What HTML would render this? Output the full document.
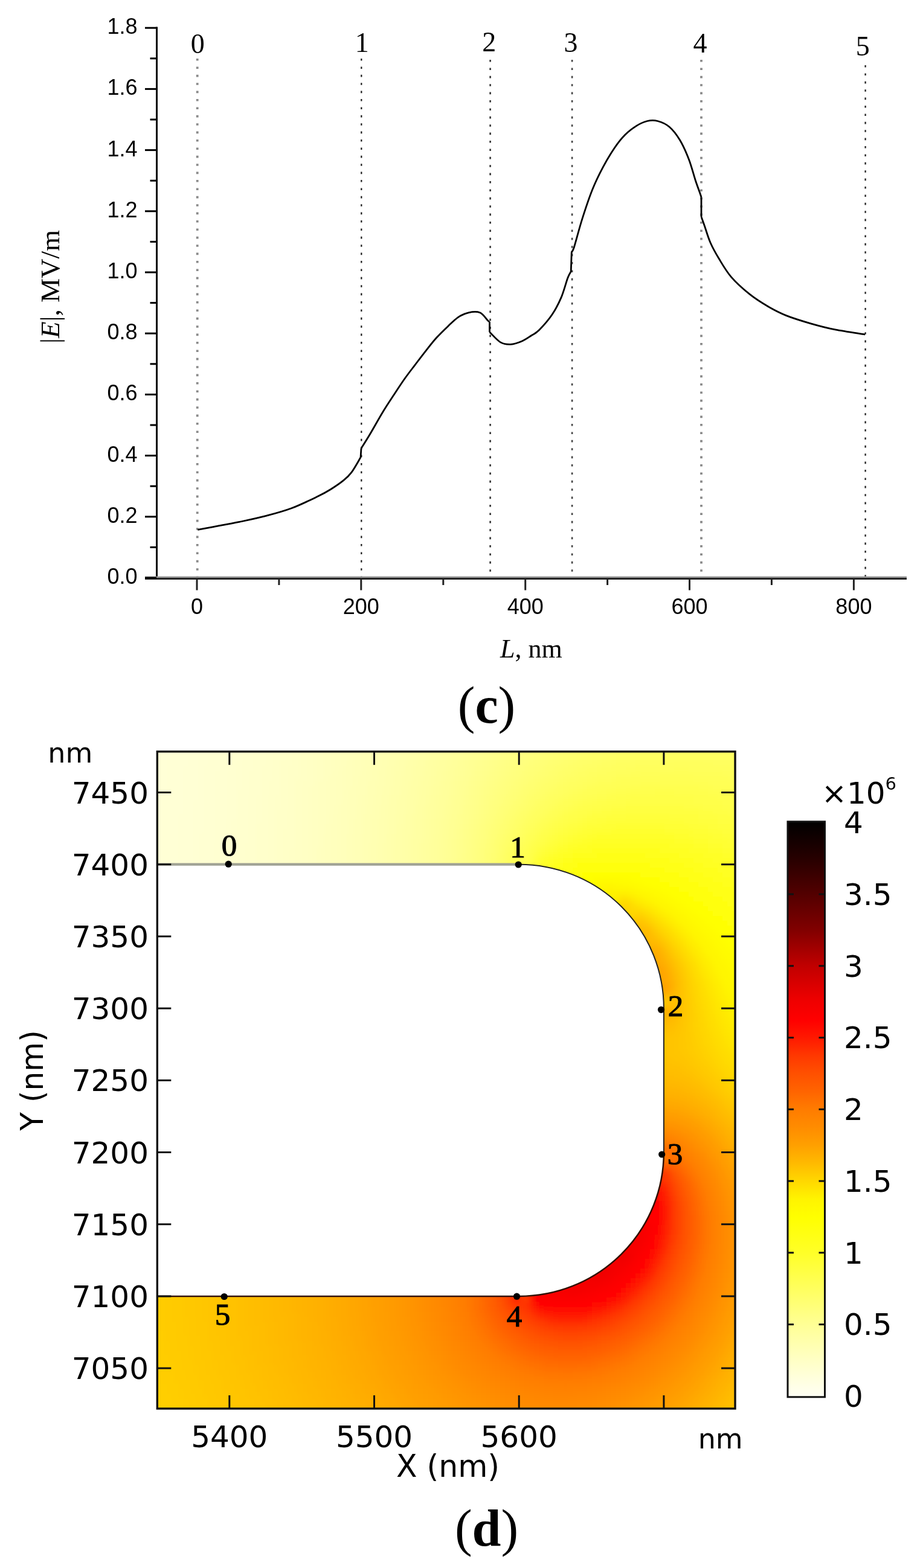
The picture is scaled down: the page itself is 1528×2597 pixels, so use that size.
<!DOCTYPE html>
<html><head><meta charset="utf-8"><title>Figure</title>
<style>
html,body{margin:0;padding:0;background:#fff;}
body{width:1528px;height:2597px;overflow:hidden;}
svg{display:block;}
.sa{font-family:"Liberation Sans",Arial,sans-serif;}
.se{font-family:"Liberation Serif","Times New Roman",serif;}
.dj{font-family:"DejaVu Sans","Liberation Sans",sans-serif;}
</style></head><body>
<svg width="1528" height="2597" viewBox="0 0 1528 2597">
<rect width="1528" height="2597" fill="#fff"/>

<line x1="326.7" y1="97" x2="326.7" y2="955" stroke="#8a8a8a" stroke-width="3.8" stroke-dasharray="3.6 9.8"/>
<text x="327.3" y="88" class="se" font-size="46" text-anchor="middle">0</text>
<line x1="598.3" y1="97" x2="598.3" y2="955" stroke="#222" stroke-width="2.3" stroke-dasharray="3.6 9.8"/>
<text x="599.3" y="86.4" class="se" font-size="46" text-anchor="middle">1</text>
<line x1="811.6" y1="99" x2="811.6" y2="955" stroke="#333" stroke-width="2.6" stroke-dasharray="3.6 9.8"/>
<text x="809.7" y="85" class="se" font-size="46" text-anchor="middle">2</text>
<line x1="947.1" y1="99" x2="947.1" y2="955" stroke="#444" stroke-width="2.6" stroke-dasharray="3.6 9.8"/>
<text x="945" y="86" class="se" font-size="46" text-anchor="middle">3</text>
<line x1="1161" y1="99" x2="1161" y2="955" stroke="#8a8a8a" stroke-width="3.8" stroke-dasharray="3.6 9.8"/>
<text x="1159" y="87" class="se" font-size="46" text-anchor="middle">4</text>
<line x1="1432.6" y1="108" x2="1432.6" y2="955" stroke="#222" stroke-width="2.3" stroke-dasharray="3.6 9.8"/>
<text x="1428.3" y="92" class="se" font-size="46" text-anchor="middle">5</text>
<path d="M327.3,877.4 C331.6,876.6 341.7,874.8 353.2,872.6 C364.7,870.4 381.9,867.4 396.3,864.4 C410.7,861.4 425.1,858.5 439.5,854.7 C453.9,850.9 468.2,847.2 482.6,841.8 C497.0,836.4 515.0,827.5 525.8,822.3 C536.6,817.1 540.2,815.0 547.4,810.5 C554.6,806.0 563.2,800.1 569.0,795.4 C574.8,790.7 577.2,788.7 581.9,782.4 C586.6,776.1 594.5,761.7 597.0,757.6 M597.0,757.6 L598.0,742.5 M598.0,742.5 C600.4,738.7 606.1,729.9 612.1,719.8 C618.1,709.7 627.5,692.7 634.0,682.0 C640.5,671.3 645.0,664.7 651.0,655.6 C657.0,646.5 663.9,635.8 669.9,627.3 C675.9,618.8 680.9,612.5 686.9,604.6 C692.9,596.7 699.7,587.7 705.7,580.1 C711.7,572.5 716.7,565.9 722.7,559.3 C728.7,552.7 735.6,546.1 741.6,540.4 C747.6,534.7 752.9,529.1 758.6,525.3 C764.3,521.5 769.6,519.0 775.6,517.8 C781.6,516.5 789.1,515.6 794.5,517.8 C799.9,520.0 805.0,528.5 807.7,531.0 C810.4,533.5 810.0,532.6 810.5,532.9 M810.5,532.9 L810.5,549.9 M810.5,549.9 C813.5,552.7 822.7,563.5 828.5,566.9 C834.3,570.3 839.5,570.6 845.5,570.3 C851.5,570.0 858.5,567.5 864.3,565.0 C870.0,562.5 875.3,558.5 880.0,555.5 C884.7,552.5 886.7,552.5 892.4,546.8 C898.1,541.0 907.9,530.0 914.0,521.0 C920.1,512.0 924.7,503.0 929.0,492.9 C933.3,482.8 937.1,467.7 939.8,460.5 C942.5,453.3 944.3,451.5 945.2,449.7 M945.2,449.7 L946.3,417.4 M946.3,417.4 C947.0,415.9 947.7,417.7 950.6,408.7 C953.5,399.7 958.6,379.2 963.6,363.4 C968.6,347.6 975.0,328.2 980.8,313.8 C986.5,299.4 992.0,288.6 998.1,277.1 C1004.2,265.6 1011.4,253.7 1017.5,244.7 C1023.6,235.7 1028.7,229.3 1034.8,223.2 C1040.9,217.1 1048.1,211.9 1054.2,208.1 C1060.3,204.3 1065.8,201.8 1071.5,200.5 C1077.2,199.2 1082.6,198.9 1088.7,200.5 C1094.8,202.1 1102.1,205.0 1108.2,210.2 C1114.3,215.4 1120.0,222.8 1125.4,231.8 C1130.8,240.8 1136.2,253.0 1140.5,264.2 C1144.8,275.3 1148.2,289.3 1151.3,298.7 C1154.4,308.1 1157.3,315.6 1158.9,320.3 C1160.5,325.0 1160.7,325.6 1161.0,326.7 M1161.0,326.7 L1161.0,359.1 M1161.0,359.1 C1161.9,361.6 1163.9,367.0 1166.4,374.2 C1168.9,381.4 1172.2,393.2 1176.2,402.3 C1180.2,411.4 1184.6,419.2 1190.3,428.6 C1196.0,438.0 1202.2,449.1 1210.6,458.9 C1219.0,468.7 1230.8,479.1 1240.9,487.2 C1251.0,495.3 1261.2,501.6 1271.3,507.5 C1281.4,513.4 1289.8,517.9 1301.6,522.6 C1313.4,527.3 1328.6,531.9 1342.1,535.8 C1355.6,539.7 1367.5,542.9 1382.5,545.9 C1397.5,548.9 1423.8,552.6 1432.1,554.0" fill="none" stroke="#000" stroke-width="2.8" stroke-linejoin="round"/>
<line x1="259.5" y1="44.5" x2="259.5" y2="958.5" stroke="#000" stroke-width="3"/>
<line x1="240" y1="955.8" x2="1501" y2="955.8" stroke="#999" stroke-width="2.4"/>
<line x1="240" y1="958.5" x2="1501" y2="958.5" stroke="#222" stroke-width="3"/>
<line x1="240" y1="957.0" x2="259" y2="957.0" stroke="#000" stroke-width="3"/>
<text x="227.5" y="967.0" class="sa" font-size="36" text-anchor="end">0.0</text>
<line x1="248.5" y1="906.4" x2="259" y2="906.4" stroke="#000" stroke-width="3"/>
<line x1="240" y1="855.8" x2="259" y2="855.8" stroke="#000" stroke-width="3"/>
<text x="227.5" y="865.8" class="sa" font-size="36" text-anchor="end">0.2</text>
<line x1="248.5" y1="805.2" x2="259" y2="805.2" stroke="#000" stroke-width="3"/>
<line x1="240" y1="754.6" x2="259" y2="754.6" stroke="#000" stroke-width="3"/>
<text x="227.5" y="764.6" class="sa" font-size="36" text-anchor="end">0.4</text>
<line x1="248.5" y1="704.0" x2="259" y2="704.0" stroke="#000" stroke-width="3"/>
<line x1="240" y1="653.4" x2="259" y2="653.4" stroke="#000" stroke-width="3"/>
<text x="227.5" y="663.4" class="sa" font-size="36" text-anchor="end">0.6</text>
<line x1="248.5" y1="602.8" x2="259" y2="602.8" stroke="#000" stroke-width="3"/>
<line x1="240" y1="552.2" x2="259" y2="552.2" stroke="#000" stroke-width="3"/>
<text x="227.5" y="562.2" class="sa" font-size="36" text-anchor="end">0.8</text>
<line x1="248.5" y1="501.6" x2="259" y2="501.6" stroke="#000" stroke-width="3"/>
<line x1="240" y1="451.0" x2="259" y2="451.0" stroke="#000" stroke-width="3"/>
<text x="227.5" y="461.0" class="sa" font-size="36" text-anchor="end">1.0</text>
<line x1="248.5" y1="400.4" x2="259" y2="400.4" stroke="#000" stroke-width="3"/>
<line x1="240" y1="349.8" x2="259" y2="349.8" stroke="#000" stroke-width="3"/>
<text x="227.5" y="359.8" class="sa" font-size="36" text-anchor="end">1.2</text>
<line x1="248.5" y1="299.2" x2="259" y2="299.2" stroke="#000" stroke-width="3"/>
<line x1="240" y1="248.6" x2="259" y2="248.6" stroke="#000" stroke-width="3"/>
<text x="227.5" y="258.6" class="sa" font-size="36" text-anchor="end">1.4</text>
<line x1="248.5" y1="198.0" x2="259" y2="198.0" stroke="#000" stroke-width="3"/>
<line x1="240" y1="147.4" x2="259" y2="147.4" stroke="#000" stroke-width="3"/>
<text x="227.5" y="157.4" class="sa" font-size="36" text-anchor="end">1.6</text>
<line x1="248.5" y1="96.8" x2="259" y2="96.8" stroke="#000" stroke-width="3"/>
<line x1="240" y1="46.2" x2="259" y2="46.2" stroke="#000" stroke-width="3"/>
<text x="227.5" y="56.2" class="sa" font-size="36" text-anchor="end">1.8</text>
<line x1="326.0" y1="957" x2="326.0" y2="977.5" stroke="#222" stroke-width="3"/>
<text x="326.0" y="1017" class="sa" font-size="36" text-anchor="middle">0</text>
<line x1="461.9" y1="957" x2="461.9" y2="969" stroke="#222" stroke-width="3"/>
<line x1="597.8" y1="957" x2="597.8" y2="977.5" stroke="#222" stroke-width="3"/>
<text x="597.8" y="1017" class="sa" font-size="36" text-anchor="middle">200</text>
<line x1="733.8" y1="957" x2="733.8" y2="969" stroke="#222" stroke-width="3"/>
<line x1="869.7" y1="957" x2="869.7" y2="977.5" stroke="#222" stroke-width="3"/>
<text x="869.7" y="1017" class="sa" font-size="36" text-anchor="middle">400</text>
<line x1="1005.6" y1="957" x2="1005.6" y2="969" stroke="#222" stroke-width="3"/>
<line x1="1141.5" y1="957" x2="1141.5" y2="977.5" stroke="#222" stroke-width="3"/>
<text x="1141.5" y="1017" class="sa" font-size="36" text-anchor="middle">600</text>
<line x1="1277.4" y1="957" x2="1277.4" y2="969" stroke="#222" stroke-width="3"/>
<line x1="1413.4" y1="957" x2="1413.4" y2="977.5" stroke="#222" stroke-width="3"/>
<text x="1413.4" y="1017" class="sa" font-size="36" text-anchor="middle">800</text>
<text x="828" y="1088.5" class="se" font-size="44"><tspan font-style="italic">L</tspan>, nm</text>
<text transform="translate(97.5,475) rotate(-90)" class="se" font-size="45" text-anchor="middle">|<tspan font-style="italic">E</tspan>|, MV/m</text>
<text x="805.5" y="1197" class="se" font-size="86" text-anchor="middle">(<tspan font-weight="bold">c</tspan>)</text>
<defs><clipPath id="fr"><rect x="260.3" y="1244.8" width="956.7" height="1088.2"/></clipPath>
<filter id="bl" x="-5%" y="-5%" width="110%" height="110%"><feGaussianBlur stdDeviation="4.8"/></filter></defs>
<g clip-path="url(#fr)"><g filter="url(#bl)"><path fill="#ffffd7" d="M244 1229h8v8h-8z"/><path fill="#ffffd6" d="M252 1229h8v8h-8zM260 1229h8v8h-8zM268 1229h8v8h-8zM276 1229h8v8h-8zM244 1237h8v8h-8zM252 1237h8v8h-8zM260 1237h8v8h-8zM268 1237h8v8h-8zM276 1237h8v8h-8zM244 1245h8v8h-8zM252 1245h8v8h-8zM260 1245h8v8h-8zM268 1245h8v8h-8zM276 1245h8v8h-8zM244 1253h8v8h-8zM252 1253h8v8h-8zM260 1253h8v8h-8zM268 1253h8v8h-8zM244 1261h8v8h-8zM252 1261h8v8h-8zM260 1261h8v8h-8zM268 1261h8v8h-8zM244 1269h8v8h-8zM252 1269h8v8h-8zM260 1269h8v8h-8zM268 1269h8v8h-8zM244 1277h8v8h-8zM252 1277h8v8h-8zM260 1277h8v8h-8zM268 1277h8v8h-8zM244 1285h8v8h-8zM252 1285h8v8h-8zM260 1285h8v8h-8zM268 1285h8v8h-8zM244 1293h8v8h-8zM252 1293h8v8h-8zM260 1293h8v8h-8zM268 1293h8v8h-8zM244 1301h8v8h-8zM252 1301h8v8h-8zM260 1301h8v8h-8zM268 1301h8v8h-8zM244 1309h8v8h-8zM252 1309h8v8h-8zM260 1309h8v8h-8zM244 1317h8v8h-8zM252 1317h8v8h-8zM260 1317h8v8h-8zM244 1325h8v8h-8zM252 1325h8v8h-8zM260 1325h8v8h-8zM244 1333h8v8h-8zM252 1333h8v8h-8zM260 1333h8v8h-8zM244 1341h8v8h-8zM252 1341h8v8h-8zM260 1341h8v8h-8zM244 1349h8v8h-8zM252 1349h8v8h-8zM260 1349h8v8h-8zM244 1357h8v8h-8zM252 1357h8v8h-8zM260 1357h8v8h-8zM244 1365h8v8h-8zM252 1365h8v8h-8zM260 1365h8v8h-8zM244 1373h8v8h-8zM252 1373h8v8h-8zM260 1373h8v8h-8zM244 1381h8v8h-8zM252 1381h8v8h-8zM260 1381h8v8h-8zM244 1389h8v8h-8zM252 1389h8v8h-8zM260 1389h8v8h-8zM244 1397h8v8h-8zM252 1397h8v8h-8zM260 1397h8v8h-8zM244 1405h8v8h-8zM252 1405h8v8h-8zM260 1405h8v8h-8zM244 1413h8v8h-8zM252 1413h8v8h-8zM260 1413h8v8h-8zM244 1421h8v8h-8zM252 1421h8v8h-8zM260 1421h8v8h-8zM244 1429h8v8h-8zM252 1429h8v8h-8zM260 1429h8v8h-8zM244 1437h8v8h-8zM252 1437h8v8h-8zM260 1437h8v8h-8zM244 1445h8v8h-8zM252 1445h8v8h-8zM260 1445h8v8h-8zM244 1453h8v8h-8zM252 1453h8v8h-8zM260 1453h8v8h-8zM244 1461h8v8h-8zM252 1461h8v8h-8zM260 1461h8v8h-8zM244 1469h8v8h-8zM252 1469h8v8h-8zM260 1469h8v8h-8zM244 1477h8v8h-8zM252 1477h8v8h-8zM260 1477h8v8h-8zM244 1485h8v8h-8zM252 1485h8v8h-8zM260 1485h8v8h-8z"/><path fill="#ffffd5" d="M284 1229h8v8h-8zM292 1229h8v8h-8zM300 1229h8v8h-8zM284 1237h8v8h-8zM292 1237h8v8h-8zM300 1237h8v8h-8zM284 1245h8v8h-8zM292 1245h8v8h-8zM300 1245h8v8h-8zM276 1253h8v8h-8zM284 1253h8v8h-8zM292 1253h8v8h-8zM300 1253h8v8h-8zM276 1261h8v8h-8zM284 1261h8v8h-8zM292 1261h8v8h-8zM300 1261h8v8h-8zM276 1269h8v8h-8zM284 1269h8v8h-8zM292 1269h8v8h-8zM276 1277h8v8h-8zM284 1277h8v8h-8zM292 1277h8v8h-8zM276 1285h8v8h-8zM284 1285h8v8h-8zM292 1285h8v8h-8zM276 1293h8v8h-8zM284 1293h8v8h-8zM292 1293h8v8h-8zM276 1301h8v8h-8zM284 1301h8v8h-8zM292 1301h8v8h-8zM268 1309h8v8h-8zM276 1309h8v8h-8zM284 1309h8v8h-8zM292 1309h8v8h-8zM268 1317h8v8h-8zM276 1317h8v8h-8zM284 1317h8v8h-8zM292 1317h8v8h-8zM268 1325h8v8h-8zM276 1325h8v8h-8zM284 1325h8v8h-8zM292 1325h8v8h-8zM268 1333h8v8h-8zM276 1333h8v8h-8zM284 1333h8v8h-8zM292 1333h8v8h-8zM268 1341h8v8h-8zM276 1341h8v8h-8zM284 1341h8v8h-8zM292 1341h8v8h-8zM268 1349h8v8h-8zM276 1349h8v8h-8zM284 1349h8v8h-8zM268 1357h8v8h-8zM276 1357h8v8h-8zM284 1357h8v8h-8zM268 1365h8v8h-8zM276 1365h8v8h-8zM284 1365h8v8h-8zM268 1373h8v8h-8zM276 1373h8v8h-8zM284 1373h8v8h-8zM268 1381h8v8h-8zM276 1381h8v8h-8zM284 1381h8v8h-8zM268 1389h8v8h-8zM276 1389h8v8h-8zM284 1389h8v8h-8zM268 1397h8v8h-8zM276 1397h8v8h-8zM284 1397h8v8h-8zM268 1405h8v8h-8zM276 1405h8v8h-8zM284 1405h8v8h-8zM268 1413h8v8h-8zM276 1413h8v8h-8zM284 1413h8v8h-8zM268 1421h8v8h-8zM276 1421h8v8h-8zM284 1421h8v8h-8zM268 1429h8v8h-8zM276 1429h8v8h-8zM284 1429h8v8h-8zM268 1437h8v8h-8zM276 1437h8v8h-8zM284 1437h8v8h-8zM268 1445h8v8h-8zM276 1445h8v8h-8zM284 1445h8v8h-8zM268 1453h8v8h-8zM276 1453h8v8h-8zM284 1453h8v8h-8zM268 1461h8v8h-8zM276 1461h8v8h-8zM284 1461h8v8h-8zM268 1469h8v8h-8zM276 1469h8v8h-8zM284 1469h8v8h-8zM268 1477h8v8h-8zM276 1477h8v8h-8zM284 1477h8v8h-8zM268 1485h8v8h-8zM276 1485h8v8h-8zM284 1485h8v8h-8z"/><path fill="#ffffd4" d="M308 1229h8v8h-8zM316 1229h8v8h-8zM324 1229h8v8h-8zM308 1237h8v8h-8zM316 1237h8v8h-8zM324 1237h8v8h-8zM308 1245h8v8h-8zM316 1245h8v8h-8zM308 1253h8v8h-8zM316 1253h8v8h-8zM308 1261h8v8h-8zM316 1261h8v8h-8zM300 1269h8v8h-8zM308 1269h8v8h-8zM316 1269h8v8h-8zM300 1277h8v8h-8zM308 1277h8v8h-8zM316 1277h8v8h-8zM300 1285h8v8h-8zM308 1285h8v8h-8zM316 1285h8v8h-8zM300 1293h8v8h-8zM308 1293h8v8h-8zM316 1293h8v8h-8zM300 1301h8v8h-8zM308 1301h8v8h-8zM316 1301h8v8h-8zM300 1309h8v8h-8zM308 1309h8v8h-8zM316 1309h8v8h-8zM300 1317h8v8h-8zM308 1317h8v8h-8zM316 1317h8v8h-8zM300 1325h8v8h-8zM308 1325h8v8h-8zM300 1333h8v8h-8zM308 1333h8v8h-8zM300 1341h8v8h-8zM308 1341h8v8h-8zM292 1349h8v8h-8zM300 1349h8v8h-8zM308 1349h8v8h-8zM292 1357h8v8h-8zM300 1357h8v8h-8zM308 1357h8v8h-8zM292 1365h8v8h-8zM300 1365h8v8h-8zM308 1365h8v8h-8zM292 1373h8v8h-8zM300 1373h8v8h-8zM308 1373h8v8h-8zM292 1381h8v8h-8zM300 1381h8v8h-8zM308 1381h8v8h-8zM292 1389h8v8h-8zM300 1389h8v8h-8zM308 1389h8v8h-8zM292 1397h8v8h-8zM300 1397h8v8h-8zM308 1397h8v8h-8zM292 1405h8v8h-8zM300 1405h8v8h-8zM308 1405h8v8h-8zM292 1413h8v8h-8zM300 1413h8v8h-8zM308 1413h8v8h-8zM292 1421h8v8h-8zM300 1421h8v8h-8zM308 1421h8v8h-8zM292 1429h8v8h-8zM300 1429h8v8h-8zM308 1429h8v8h-8zM292 1437h8v8h-8zM300 1437h8v8h-8zM308 1437h8v8h-8zM292 1445h8v8h-8zM300 1445h8v8h-8zM308 1445h8v8h-8zM292 1453h8v8h-8zM300 1453h8v8h-8zM308 1453h8v8h-8zM292 1461h8v8h-8zM300 1461h8v8h-8zM308 1461h8v8h-8zM292 1469h8v8h-8zM300 1469h8v8h-8zM308 1469h8v8h-8zM292 1477h8v8h-8zM300 1477h8v8h-8zM308 1477h8v8h-8zM292 1485h8v8h-8zM300 1485h8v8h-8zM308 1485h8v8h-8z"/><path fill="#ffffd3" d="M332 1229h8v8h-8zM340 1229h8v8h-8zM332 1237h8v8h-8zM340 1237h8v8h-8zM324 1245h8v8h-8zM332 1245h8v8h-8zM340 1245h8v8h-8zM324 1253h8v8h-8zM332 1253h8v8h-8zM340 1253h8v8h-8zM324 1261h8v8h-8zM332 1261h8v8h-8zM340 1261h8v8h-8zM324 1269h8v8h-8zM332 1269h8v8h-8zM324 1277h8v8h-8zM332 1277h8v8h-8zM324 1285h8v8h-8zM332 1285h8v8h-8zM324 1293h8v8h-8zM332 1293h8v8h-8zM324 1301h8v8h-8zM332 1301h8v8h-8zM324 1309h8v8h-8zM332 1309h8v8h-8zM324 1317h8v8h-8zM332 1317h8v8h-8zM316 1325h8v8h-8zM324 1325h8v8h-8zM332 1325h8v8h-8zM316 1333h8v8h-8zM324 1333h8v8h-8zM332 1333h8v8h-8zM316 1341h8v8h-8zM324 1341h8v8h-8zM332 1341h8v8h-8zM316 1349h8v8h-8zM324 1349h8v8h-8zM332 1349h8v8h-8zM316 1357h8v8h-8zM324 1357h8v8h-8zM332 1357h8v8h-8zM316 1365h8v8h-8zM324 1365h8v8h-8zM332 1365h8v8h-8zM316 1373h8v8h-8zM324 1373h8v8h-8zM332 1373h8v8h-8zM316 1381h8v8h-8zM324 1381h8v8h-8zM316 1389h8v8h-8zM324 1389h8v8h-8zM316 1397h8v8h-8zM324 1397h8v8h-8zM316 1405h8v8h-8zM324 1405h8v8h-8zM316 1413h8v8h-8zM324 1413h8v8h-8zM316 1421h8v8h-8zM324 1421h8v8h-8zM316 1429h8v8h-8zM324 1429h8v8h-8zM316 1437h8v8h-8zM324 1437h8v8h-8zM316 1445h8v8h-8zM324 1445h8v8h-8zM316 1453h8v8h-8zM324 1453h8v8h-8zM316 1461h8v8h-8zM324 1461h8v8h-8zM316 1469h8v8h-8zM324 1469h8v8h-8zM316 1477h8v8h-8zM324 1477h8v8h-8zM316 1485h8v8h-8zM324 1485h8v8h-8z"/><path fill="#ffffd2" d="M348 1229h8v8h-8zM356 1229h8v8h-8zM348 1237h8v8h-8zM356 1237h8v8h-8zM348 1245h8v8h-8zM356 1245h8v8h-8zM348 1253h8v8h-8zM356 1253h8v8h-8zM348 1261h8v8h-8zM356 1261h8v8h-8zM340 1269h8v8h-8zM348 1269h8v8h-8zM356 1269h8v8h-8zM340 1277h8v8h-8zM348 1277h8v8h-8zM340 1285h8v8h-8zM348 1285h8v8h-8zM340 1293h8v8h-8zM348 1293h8v8h-8zM340 1301h8v8h-8zM348 1301h8v8h-8zM340 1309h8v8h-8zM348 1309h8v8h-8zM340 1317h8v8h-8zM348 1317h8v8h-8zM340 1325h8v8h-8zM348 1325h8v8h-8zM340 1333h8v8h-8zM348 1333h8v8h-8zM340 1341h8v8h-8zM348 1341h8v8h-8zM340 1349h8v8h-8zM348 1349h8v8h-8zM340 1357h8v8h-8zM348 1357h8v8h-8zM340 1365h8v8h-8zM348 1365h8v8h-8zM340 1373h8v8h-8zM348 1373h8v8h-8zM332 1381h8v8h-8zM340 1381h8v8h-8zM348 1381h8v8h-8zM332 1389h8v8h-8zM340 1389h8v8h-8zM348 1389h8v8h-8zM332 1397h8v8h-8zM340 1397h8v8h-8zM348 1397h8v8h-8zM332 1405h8v8h-8zM340 1405h8v8h-8zM348 1405h8v8h-8zM332 1413h8v8h-8zM340 1413h8v8h-8zM348 1413h8v8h-8zM332 1421h8v8h-8zM340 1421h8v8h-8zM348 1421h8v8h-8zM332 1429h8v8h-8zM340 1429h8v8h-8zM348 1429h8v8h-8zM332 1437h8v8h-8zM340 1437h8v8h-8zM348 1437h8v8h-8zM332 1445h8v8h-8zM340 1445h8v8h-8zM348 1445h8v8h-8zM332 1453h8v8h-8zM340 1453h8v8h-8zM348 1453h8v8h-8zM332 1461h8v8h-8zM340 1461h8v8h-8zM348 1461h8v8h-8zM332 1469h8v8h-8zM340 1469h8v8h-8zM348 1469h8v8h-8zM332 1477h8v8h-8zM340 1477h8v8h-8zM348 1477h8v8h-8zM332 1485h8v8h-8zM340 1485h8v8h-8zM348 1485h8v8h-8z"/><path fill="#ffffd1" d="M364 1229h8v8h-8zM372 1229h8v8h-8zM364 1237h8v8h-8zM372 1237h8v8h-8zM364 1245h8v8h-8zM372 1245h8v8h-8zM364 1253h8v8h-8zM372 1253h8v8h-8zM364 1261h8v8h-8zM372 1261h8v8h-8zM364 1269h8v8h-8zM372 1269h8v8h-8zM356 1277h8v8h-8zM364 1277h8v8h-8zM356 1285h8v8h-8zM364 1285h8v8h-8zM356 1293h8v8h-8zM364 1293h8v8h-8zM356 1301h8v8h-8zM364 1301h8v8h-8zM356 1309h8v8h-8zM364 1309h8v8h-8zM356 1317h8v8h-8zM364 1317h8v8h-8zM356 1325h8v8h-8zM364 1325h8v8h-8zM356 1333h8v8h-8zM364 1333h8v8h-8zM356 1341h8v8h-8zM364 1341h8v8h-8zM356 1349h8v8h-8zM364 1349h8v8h-8zM356 1357h8v8h-8zM364 1357h8v8h-8zM356 1365h8v8h-8zM364 1365h8v8h-8zM356 1373h8v8h-8zM364 1373h8v8h-8zM356 1381h8v8h-8zM364 1381h8v8h-8zM356 1389h8v8h-8zM364 1389h8v8h-8zM356 1397h8v8h-8zM356 1405h8v8h-8zM356 1413h8v8h-8zM356 1421h8v8h-8zM356 1429h8v8h-8zM356 1437h8v8h-8zM356 1445h8v8h-8zM356 1453h8v8h-8zM356 1461h8v8h-8zM356 1469h8v8h-8zM356 1477h8v8h-8zM356 1485h8v8h-8z"/><path fill="#ffffd0" d="M380 1229h8v8h-8zM388 1229h8v8h-8zM380 1237h8v8h-8zM388 1237h8v8h-8zM380 1245h8v8h-8zM388 1245h8v8h-8zM380 1253h8v8h-8zM388 1253h8v8h-8zM380 1261h8v8h-8zM380 1269h8v8h-8zM372 1277h8v8h-8zM380 1277h8v8h-8zM372 1285h8v8h-8zM380 1285h8v8h-8zM372 1293h8v8h-8zM380 1293h8v8h-8zM372 1301h8v8h-8zM380 1301h8v8h-8zM372 1309h8v8h-8zM380 1309h8v8h-8zM372 1317h8v8h-8zM380 1317h8v8h-8zM372 1325h8v8h-8zM380 1325h8v8h-8zM372 1333h8v8h-8zM380 1333h8v8h-8zM372 1341h8v8h-8zM380 1341h8v8h-8zM372 1349h8v8h-8zM380 1349h8v8h-8zM372 1357h8v8h-8zM372 1365h8v8h-8zM372 1373h8v8h-8zM372 1381h8v8h-8zM372 1389h8v8h-8zM364 1397h8v8h-8zM372 1397h8v8h-8zM364 1405h8v8h-8zM372 1405h8v8h-8zM364 1413h8v8h-8zM372 1413h8v8h-8zM364 1421h8v8h-8zM372 1421h8v8h-8zM364 1429h8v8h-8zM372 1429h8v8h-8zM364 1437h8v8h-8zM372 1437h8v8h-8zM364 1445h8v8h-8zM372 1445h8v8h-8zM364 1453h8v8h-8zM372 1453h8v8h-8zM364 1461h8v8h-8zM372 1461h8v8h-8zM364 1469h8v8h-8zM372 1469h8v8h-8zM364 1477h8v8h-8zM372 1477h8v8h-8zM364 1485h8v8h-8zM372 1485h8v8h-8z"/><path fill="#ffffcf" d="M396 1229h8v8h-8zM404 1229h8v8h-8zM396 1237h8v8h-8zM396 1245h8v8h-8zM396 1253h8v8h-8zM388 1261h8v8h-8zM396 1261h8v8h-8zM388 1269h8v8h-8zM396 1269h8v8h-8zM388 1277h8v8h-8zM396 1277h8v8h-8zM388 1285h8v8h-8zM396 1285h8v8h-8zM388 1293h8v8h-8zM396 1293h8v8h-8zM388 1301h8v8h-8zM396 1301h8v8h-8zM388 1309h8v8h-8zM388 1317h8v8h-8zM388 1325h8v8h-8zM388 1333h8v8h-8zM388 1341h8v8h-8zM388 1349h8v8h-8zM380 1357h8v8h-8zM388 1357h8v8h-8zM380 1365h8v8h-8zM388 1365h8v8h-8zM380 1373h8v8h-8zM388 1373h8v8h-8zM380 1381h8v8h-8zM388 1381h8v8h-8zM380 1389h8v8h-8zM388 1389h8v8h-8zM380 1397h8v8h-8zM388 1397h8v8h-8zM380 1405h8v8h-8zM388 1405h8v8h-8zM380 1413h8v8h-8zM388 1413h8v8h-8zM380 1421h8v8h-8zM388 1421h8v8h-8zM380 1429h8v8h-8zM388 1429h8v8h-8zM380 1437h8v8h-8zM388 1437h8v8h-8zM380 1445h8v8h-8zM388 1445h8v8h-8zM380 1453h8v8h-8zM388 1453h8v8h-8zM380 1461h8v8h-8zM388 1461h8v8h-8zM380 1469h8v8h-8zM388 1469h8v8h-8zM380 1477h8v8h-8zM388 1477h8v8h-8zM380 1485h8v8h-8zM388 1485h8v8h-8z"/><path fill="#ffffce" d="M412 1229h8v8h-8zM404 1237h8v8h-8zM412 1237h8v8h-8zM404 1245h8v8h-8zM412 1245h8v8h-8zM404 1253h8v8h-8zM412 1253h8v8h-8zM404 1261h8v8h-8zM412 1261h8v8h-8zM404 1269h8v8h-8zM412 1269h8v8h-8zM404 1277h8v8h-8zM404 1285h8v8h-8zM404 1293h8v8h-8zM404 1301h8v8h-8zM396 1309h8v8h-8zM404 1309h8v8h-8zM396 1317h8v8h-8zM404 1317h8v8h-8zM396 1325h8v8h-8zM404 1325h8v8h-8zM396 1333h8v8h-8zM404 1333h8v8h-8zM396 1341h8v8h-8zM404 1341h8v8h-8zM396 1349h8v8h-8zM404 1349h8v8h-8zM396 1357h8v8h-8zM404 1357h8v8h-8zM396 1365h8v8h-8zM404 1365h8v8h-8zM396 1373h8v8h-8zM404 1373h8v8h-8zM396 1381h8v8h-8zM404 1381h8v8h-8zM396 1389h8v8h-8zM404 1389h8v8h-8zM396 1397h8v8h-8zM396 1405h8v8h-8zM396 1413h8v8h-8zM396 1421h8v8h-8zM396 1429h8v8h-8zM396 1437h8v8h-8zM396 1445h8v8h-8zM396 1453h8v8h-8zM396 1461h8v8h-8zM396 1469h8v8h-8zM396 1477h8v8h-8zM396 1485h8v8h-8z"/><path fill="#ffffcd" d="M420 1229h8v8h-8zM428 1229h8v8h-8zM420 1237h8v8h-8zM420 1245h8v8h-8zM420 1253h8v8h-8zM420 1261h8v8h-8zM420 1269h8v8h-8zM412 1277h8v8h-8zM420 1277h8v8h-8zM412 1285h8v8h-8zM420 1285h8v8h-8zM412 1293h8v8h-8zM420 1293h8v8h-8zM412 1301h8v8h-8zM420 1301h8v8h-8zM412 1309h8v8h-8zM420 1309h8v8h-8zM412 1317h8v8h-8zM412 1325h8v8h-8zM412 1333h8v8h-8zM412 1341h8v8h-8zM412 1349h8v8h-8zM412 1357h8v8h-8zM412 1365h8v8h-8zM412 1373h8v8h-8zM412 1381h8v8h-8zM412 1389h8v8h-8zM404 1397h8v8h-8zM412 1397h8v8h-8zM404 1405h8v8h-8zM412 1405h8v8h-8zM404 1413h8v8h-8zM412 1413h8v8h-8zM404 1421h8v8h-8zM412 1421h8v8h-8zM404 1429h8v8h-8zM412 1429h8v8h-8zM404 1437h8v8h-8zM412 1437h8v8h-8zM404 1445h8v8h-8zM412 1445h8v8h-8zM404 1453h8v8h-8zM412 1453h8v8h-8zM404 1461h8v8h-8zM412 1461h8v8h-8zM404 1469h8v8h-8zM412 1469h8v8h-8zM404 1477h8v8h-8zM412 1477h8v8h-8zM404 1485h8v8h-8zM412 1485h8v8h-8z"/><path fill="#ffffcc" d="M436 1229h8v8h-8zM428 1237h8v8h-8zM436 1237h8v8h-8zM428 1245h8v8h-8zM436 1245h8v8h-8zM428 1253h8v8h-8zM436 1253h8v8h-8zM428 1261h8v8h-8zM436 1261h8v8h-8zM428 1269h8v8h-8zM428 1277h8v8h-8zM428 1285h8v8h-8zM428 1293h8v8h-8zM428 1301h8v8h-8zM428 1309h8v8h-8zM420 1317h8v8h-8zM428 1317h8v8h-8zM420 1325h8v8h-8zM428 1325h8v8h-8zM420 1333h8v8h-8zM428 1333h8v8h-8zM420 1341h8v8h-8zM428 1341h8v8h-8zM420 1349h8v8h-8zM428 1349h8v8h-8zM420 1357h8v8h-8zM428 1357h8v8h-8zM420 1365h8v8h-8zM420 1373h8v8h-8zM420 1381h8v8h-8zM420 1389h8v8h-8zM420 1397h8v8h-8zM420 1405h8v8h-8zM420 1413h8v8h-8zM420 1421h8v8h-8zM420 1429h8v8h-8zM420 1437h8v8h-8zM420 1445h8v8h-8zM420 1453h8v8h-8zM420 1461h8v8h-8zM420 1469h8v8h-8zM420 1477h8v8h-8zM420 1485h8v8h-8z"/><path fill="#ffffcb" d="M444 1229h8v8h-8zM444 1237h8v8h-8zM444 1245h8v8h-8zM444 1253h8v8h-8zM444 1261h8v8h-8zM436 1269h8v8h-8zM444 1269h8v8h-8zM436 1277h8v8h-8zM444 1277h8v8h-8zM436 1285h8v8h-8zM444 1285h8v8h-8zM436 1293h8v8h-8zM436 1301h8v8h-8zM436 1309h8v8h-8zM436 1317h8v8h-8zM436 1325h8v8h-8zM436 1333h8v8h-8zM436 1341h8v8h-8zM436 1349h8v8h-8zM436 1357h8v8h-8zM428 1365h8v8h-8zM436 1365h8v8h-8zM428 1373h8v8h-8zM436 1373h8v8h-8zM428 1381h8v8h-8zM436 1381h8v8h-8zM428 1389h8v8h-8zM436 1389h8v8h-8zM428 1397h8v8h-8zM436 1397h8v8h-8zM428 1405h8v8h-8zM436 1405h8v8h-8zM428 1413h8v8h-8zM436 1413h8v8h-8zM428 1421h8v8h-8zM436 1421h8v8h-8zM428 1429h8v8h-8zM436 1429h8v8h-8zM428 1437h8v8h-8zM436 1437h8v8h-8zM428 1445h8v8h-8zM436 1445h8v8h-8zM428 1453h8v8h-8zM436 1453h8v8h-8zM428 1461h8v8h-8zM436 1461h8v8h-8zM428 1469h8v8h-8zM436 1469h8v8h-8zM428 1477h8v8h-8zM436 1477h8v8h-8zM428 1485h8v8h-8zM436 1485h8v8h-8z"/><path fill="#ffffca" d="M452 1229h8v8h-8zM460 1229h8v8h-8zM452 1237h8v8h-8zM460 1237h8v8h-8zM452 1245h8v8h-8zM452 1253h8v8h-8zM452 1261h8v8h-8zM452 1269h8v8h-8zM452 1277h8v8h-8zM452 1285h8v8h-8zM444 1293h8v8h-8zM452 1293h8v8h-8zM444 1301h8v8h-8zM452 1301h8v8h-8zM444 1309h8v8h-8zM452 1309h8v8h-8zM444 1317h8v8h-8zM444 1325h8v8h-8zM444 1333h8v8h-8zM444 1341h8v8h-8zM444 1349h8v8h-8zM444 1357h8v8h-8zM444 1365h8v8h-8zM444 1373h8v8h-8zM444 1381h8v8h-8zM444 1389h8v8h-8zM444 1397h8v8h-8zM444 1405h8v8h-8zM444 1413h8v8h-8zM444 1421h8v8h-8zM444 1429h8v8h-8zM444 1437h8v8h-8zM444 1445h8v8h-8zM444 1453h8v8h-8zM444 1461h8v8h-8zM444 1469h8v8h-8zM444 1477h8v8h-8zM444 1485h8v8h-8z"/><path fill="#ffffc9" d="M468 1229h8v8h-8zM468 1237h8v8h-8zM460 1245h8v8h-8zM468 1245h8v8h-8zM460 1253h8v8h-8zM468 1253h8v8h-8zM460 1261h8v8h-8zM460 1269h8v8h-8zM460 1277h8v8h-8zM460 1285h8v8h-8zM460 1293h8v8h-8zM460 1301h8v8h-8zM460 1309h8v8h-8zM452 1317h8v8h-8zM460 1317h8v8h-8zM452 1325h8v8h-8zM460 1325h8v8h-8zM452 1333h8v8h-8zM460 1333h8v8h-8zM452 1341h8v8h-8zM452 1349h8v8h-8zM452 1357h8v8h-8zM452 1365h8v8h-8zM452 1373h8v8h-8zM452 1381h8v8h-8zM452 1389h8v8h-8zM452 1397h8v8h-8zM452 1405h8v8h-8zM452 1413h8v8h-8zM452 1421h8v8h-8zM452 1429h8v8h-8zM452 1437h8v8h-8zM452 1445h8v8h-8zM452 1453h8v8h-8zM452 1461h8v8h-8zM452 1469h8v8h-8zM452 1477h8v8h-8zM452 1485h8v8h-8z"/><path fill="#ffffc8" d="M476 1229h8v8h-8zM476 1237h8v8h-8zM476 1245h8v8h-8zM476 1253h8v8h-8zM468 1261h8v8h-8zM476 1261h8v8h-8zM468 1269h8v8h-8zM468 1277h8v8h-8zM468 1285h8v8h-8zM468 1293h8v8h-8zM468 1301h8v8h-8zM468 1309h8v8h-8zM468 1317h8v8h-8zM468 1325h8v8h-8zM468 1333h8v8h-8zM460 1341h8v8h-8zM468 1341h8v8h-8zM460 1349h8v8h-8zM468 1349h8v8h-8zM460 1357h8v8h-8zM468 1357h8v8h-8zM460 1365h8v8h-8zM468 1365h8v8h-8zM460 1373h8v8h-8zM460 1381h8v8h-8zM460 1389h8v8h-8zM460 1397h8v8h-8zM460 1405h8v8h-8zM460 1413h8v8h-8zM460 1421h8v8h-8zM460 1429h8v8h-8zM460 1437h8v8h-8zM460 1445h8v8h-8zM460 1453h8v8h-8zM460 1461h8v8h-8zM460 1469h8v8h-8zM460 1477h8v8h-8zM460 1485h8v8h-8z"/><path fill="#ffffc7" d="M484 1229h8v8h-8zM484 1237h8v8h-8zM484 1245h8v8h-8zM484 1253h8v8h-8zM484 1261h8v8h-8zM476 1269h8v8h-8zM484 1269h8v8h-8zM476 1277h8v8h-8zM484 1277h8v8h-8zM476 1285h8v8h-8zM476 1293h8v8h-8zM476 1301h8v8h-8zM476 1309h8v8h-8zM476 1317h8v8h-8zM476 1325h8v8h-8zM476 1333h8v8h-8zM476 1341h8v8h-8zM476 1349h8v8h-8zM476 1357h8v8h-8zM476 1365h8v8h-8zM468 1373h8v8h-8zM476 1373h8v8h-8zM468 1381h8v8h-8zM476 1381h8v8h-8zM468 1389h8v8h-8zM476 1389h8v8h-8zM468 1397h8v8h-8zM476 1397h8v8h-8zM468 1405h8v8h-8zM468 1413h8v8h-8zM468 1421h8v8h-8zM468 1429h8v8h-8zM468 1437h8v8h-8zM468 1445h8v8h-8zM468 1453h8v8h-8zM468 1461h8v8h-8zM468 1469h8v8h-8zM468 1477h8v8h-8zM468 1485h8v8h-8z"/><path fill="#ffffc6" d="M492 1229h8v8h-8zM492 1237h8v8h-8zM492 1245h8v8h-8zM492 1253h8v8h-8zM492 1261h8v8h-8zM492 1269h8v8h-8zM492 1277h8v8h-8zM484 1285h8v8h-8zM492 1285h8v8h-8zM484 1293h8v8h-8zM484 1301h8v8h-8zM484 1309h8v8h-8zM484 1317h8v8h-8zM484 1325h8v8h-8zM484 1333h8v8h-8zM484 1341h8v8h-8zM484 1349h8v8h-8zM484 1357h8v8h-8zM484 1365h8v8h-8zM484 1373h8v8h-8zM484 1381h8v8h-8zM484 1389h8v8h-8zM484 1397h8v8h-8zM476 1405h8v8h-8zM484 1405h8v8h-8zM476 1413h8v8h-8zM484 1413h8v8h-8zM476 1421h8v8h-8zM484 1421h8v8h-8zM476 1429h8v8h-8zM484 1429h8v8h-8zM476 1437h8v8h-8zM484 1437h8v8h-8zM476 1445h8v8h-8zM484 1445h8v8h-8zM476 1453h8v8h-8zM484 1453h8v8h-8zM476 1461h8v8h-8zM484 1461h8v8h-8zM476 1469h8v8h-8zM484 1469h8v8h-8zM476 1477h8v8h-8zM484 1477h8v8h-8zM476 1485h8v8h-8zM484 1485h8v8h-8z"/><path fill="#ffffc5" d="M500 1229h8v8h-8zM508 1229h8v8h-8zM500 1237h8v8h-8zM500 1245h8v8h-8zM500 1253h8v8h-8zM500 1261h8v8h-8zM500 1269h8v8h-8zM500 1277h8v8h-8zM500 1285h8v8h-8zM492 1293h8v8h-8zM492 1301h8v8h-8zM492 1309h8v8h-8zM492 1317h8v8h-8zM492 1325h8v8h-8zM492 1333h8v8h-8zM492 1341h8v8h-8zM492 1349h8v8h-8zM492 1357h8v8h-8zM492 1365h8v8h-8zM492 1373h8v8h-8zM492 1381h8v8h-8zM492 1389h8v8h-8zM492 1397h8v8h-8zM492 1405h8v8h-8zM492 1413h8v8h-8zM492 1421h8v8h-8zM492 1429h8v8h-8zM492 1437h8v8h-8zM492 1445h8v8h-8zM492 1453h8v8h-8zM492 1461h8v8h-8zM492 1469h8v8h-8zM492 1477h8v8h-8zM492 1485h8v8h-8z"/><path fill="#ffffc4" d="M516 1229h8v8h-8zM508 1237h8v8h-8zM508 1245h8v8h-8zM508 1253h8v8h-8zM508 1261h8v8h-8zM508 1269h8v8h-8zM508 1277h8v8h-8zM508 1285h8v8h-8zM500 1293h8v8h-8zM508 1293h8v8h-8zM500 1301h8v8h-8zM500 1309h8v8h-8zM500 1317h8v8h-8zM500 1325h8v8h-8zM500 1333h8v8h-8zM500 1341h8v8h-8zM500 1349h8v8h-8zM500 1357h8v8h-8zM500 1365h8v8h-8zM500 1373h8v8h-8zM500 1381h8v8h-8zM500 1389h8v8h-8zM500 1397h8v8h-8zM500 1405h8v8h-8zM500 1413h8v8h-8zM500 1421h8v8h-8zM500 1429h8v8h-8zM500 1437h8v8h-8zM500 1445h8v8h-8zM500 1453h8v8h-8zM500 1461h8v8h-8zM500 1469h8v8h-8zM500 1477h8v8h-8zM500 1485h8v8h-8z"/><path fill="#ffffc3" d="M524 1229h8v8h-8zM516 1237h8v8h-8zM516 1245h8v8h-8zM516 1253h8v8h-8zM516 1261h8v8h-8zM516 1269h8v8h-8zM516 1277h8v8h-8zM516 1285h8v8h-8zM516 1293h8v8h-8zM508 1301h8v8h-8zM508 1309h8v8h-8zM508 1317h8v8h-8zM508 1325h8v8h-8zM508 1333h8v8h-8zM508 1341h8v8h-8zM508 1349h8v8h-8zM508 1357h8v8h-8zM508 1365h8v8h-8zM508 1373h8v8h-8zM508 1381h8v8h-8zM508 1389h8v8h-8zM508 1397h8v8h-8zM508 1405h8v8h-8zM508 1413h8v8h-8zM508 1421h8v8h-8zM508 1429h8v8h-8zM508 1437h8v8h-8zM508 1445h8v8h-8zM508 1453h8v8h-8zM508 1461h8v8h-8zM508 1469h8v8h-8zM508 1477h8v8h-8zM508 1485h8v8h-8z"/><path fill="#ffffc2" d="M532 1229h8v8h-8zM524 1237h8v8h-8zM524 1245h8v8h-8zM524 1253h8v8h-8zM524 1261h8v8h-8zM524 1269h8v8h-8zM524 1277h8v8h-8zM524 1285h8v8h-8zM516 1301h8v8h-8zM516 1309h8v8h-8zM516 1317h8v8h-8zM516 1325h8v8h-8zM516 1333h8v8h-8zM516 1341h8v8h-8zM516 1349h8v8h-8zM516 1357h8v8h-8zM516 1365h8v8h-8zM516 1373h8v8h-8zM516 1381h8v8h-8zM516 1389h8v8h-8zM516 1397h8v8h-8zM516 1405h8v8h-8zM516 1413h8v8h-8zM516 1421h8v8h-8zM516 1429h8v8h-8zM516 1437h8v8h-8zM516 1445h8v8h-8zM516 1453h8v8h-8zM516 1461h8v8h-8zM516 1469h8v8h-8zM516 1477h8v8h-8zM516 1485h8v8h-8z"/><path fill="#ffffc1" d="M540 1229h8v8h-8zM532 1237h8v8h-8zM532 1245h8v8h-8zM532 1253h8v8h-8zM532 1261h8v8h-8zM532 1269h8v8h-8zM532 1277h8v8h-8zM532 1285h8v8h-8zM524 1293h8v8h-8zM524 1301h8v8h-8zM524 1309h8v8h-8zM524 1317h8v8h-8zM524 1325h8v8h-8zM524 1333h8v8h-8zM524 1341h8v8h-8zM524 1349h8v8h-8zM524 1357h8v8h-8zM524 1365h8v8h-8zM524 1373h8v8h-8zM524 1381h8v8h-8zM524 1389h8v8h-8zM524 1397h8v8h-8z"/><path fill="#ffffc0" d="M548 1229h8v8h-8zM540 1237h8v8h-8zM540 1245h8v8h-8zM540 1253h8v8h-8zM540 1261h8v8h-8zM540 1269h8v8h-8zM540 1277h8v8h-8zM532 1293h8v8h-8zM532 1301h8v8h-8zM532 1309h8v8h-8zM532 1317h8v8h-8zM532 1325h8v8h-8zM532 1333h8v8h-8zM532 1341h8v8h-8zM532 1349h8v8h-8zM532 1357h8v8h-8zM532 1365h8v8h-8zM532 1373h8v8h-8zM524 1405h8v8h-8zM524 1413h8v8h-8zM524 1421h8v8h-8zM524 1429h8v8h-8zM524 1437h8v8h-8zM524 1445h8v8h-8zM524 1453h8v8h-8zM524 1461h8v8h-8zM524 1469h8v8h-8zM524 1477h8v8h-8zM524 1485h8v8h-8z"/><path fill="#ffffbe" d="M556 1229h8v8h-8zM556 1237h8v8h-8zM556 1245h8v8h-8zM556 1253h8v8h-8zM556 1261h8v8h-8zM556 1269h8v8h-8zM548 1285h8v8h-8zM548 1293h8v8h-8zM548 1301h8v8h-8zM548 1309h8v8h-8zM548 1317h8v8h-8zM548 1325h8v8h-8zM548 1333h8v8h-8zM548 1341h8v8h-8zM540 1365h8v8h-8zM540 1373h8v8h-8zM540 1381h8v8h-8zM540 1389h8v8h-8zM540 1397h8v8h-8zM540 1405h8v8h-8zM540 1413h8v8h-8zM540 1421h8v8h-8zM540 1429h8v8h-8zM540 1437h8v8h-8zM540 1445h8v8h-8zM540 1453h8v8h-8zM540 1461h8v8h-8zM540 1469h8v8h-8zM540 1477h8v8h-8zM540 1485h8v8h-8z"/><path fill="#ffffbd" d="M564 1229h8v8h-8zM564 1237h8v8h-8zM564 1245h8v8h-8zM564 1253h8v8h-8zM564 1261h8v8h-8zM556 1277h8v8h-8zM556 1285h8v8h-8zM556 1293h8v8h-8zM556 1301h8v8h-8zM556 1309h8v8h-8zM556 1317h8v8h-8zM556 1325h8v8h-8zM548 1349h8v8h-8zM548 1357h8v8h-8zM548 1365h8v8h-8zM548 1373h8v8h-8zM548 1381h8v8h-8zM548 1389h8v8h-8zM548 1397h8v8h-8zM548 1405h8v8h-8zM548 1413h8v8h-8zM548 1421h8v8h-8zM548 1429h8v8h-8zM548 1437h8v8h-8zM548 1445h8v8h-8zM548 1453h8v8h-8zM548 1461h8v8h-8zM548 1469h8v8h-8zM548 1477h8v8h-8zM548 1485h8v8h-8z"/><path fill="#ffffbc" d="M572 1229h8v8h-8zM572 1237h8v8h-8zM572 1245h8v8h-8zM572 1253h8v8h-8zM564 1269h8v8h-8zM564 1277h8v8h-8zM564 1285h8v8h-8zM564 1293h8v8h-8zM564 1301h8v8h-8zM564 1309h8v8h-8zM564 1317h8v8h-8zM556 1333h8v8h-8zM556 1341h8v8h-8zM556 1349h8v8h-8zM556 1357h8v8h-8zM556 1365h8v8h-8zM556 1373h8v8h-8zM556 1381h8v8h-8zM556 1389h8v8h-8zM556 1397h8v8h-8zM556 1405h8v8h-8zM556 1413h8v8h-8zM556 1421h8v8h-8zM556 1429h8v8h-8zM556 1437h8v8h-8zM556 1445h8v8h-8zM556 1453h8v8h-8zM556 1461h8v8h-8zM556 1469h8v8h-8zM556 1477h8v8h-8zM556 1485h8v8h-8z"/><path fill="#ffffbb" d="M580 1229h8v8h-8zM580 1237h8v8h-8zM580 1245h8v8h-8zM572 1261h8v8h-8zM572 1269h8v8h-8zM572 1277h8v8h-8zM572 1285h8v8h-8zM572 1293h8v8h-8zM572 1301h8v8h-8zM564 1325h8v8h-8zM564 1333h8v8h-8zM564 1341h8v8h-8zM564 1349h8v8h-8zM564 1357h8v8h-8zM564 1365h8v8h-8zM564 1373h8v8h-8zM564 1381h8v8h-8zM564 1389h8v8h-8zM564 1397h8v8h-8zM564 1405h8v8h-8zM564 1413h8v8h-8zM564 1421h8v8h-8zM564 1429h8v8h-8zM564 1437h8v8h-8zM564 1445h8v8h-8zM564 1453h8v8h-8zM564 1461h8v8h-8zM564 1469h8v8h-8zM564 1477h8v8h-8zM564 1485h8v8h-8z"/><path fill="#ffffba" d="M588 1229h8v8h-8zM588 1237h8v8h-8zM580 1253h8v8h-8zM580 1261h8v8h-8zM580 1269h8v8h-8zM580 1277h8v8h-8zM580 1285h8v8h-8zM580 1293h8v8h-8zM572 1309h8v8h-8zM572 1317h8v8h-8zM572 1325h8v8h-8zM572 1333h8v8h-8zM572 1341h8v8h-8zM572 1349h8v8h-8zM572 1357h8v8h-8zM572 1365h8v8h-8zM572 1373h8v8h-8z"/><path fill="#ffffb9" d="M596 1229h8v8h-8zM588 1245h8v8h-8zM588 1253h8v8h-8zM588 1261h8v8h-8zM588 1269h8v8h-8zM588 1277h8v8h-8zM580 1301h8v8h-8zM580 1309h8v8h-8zM580 1317h8v8h-8zM580 1325h8v8h-8zM580 1333h8v8h-8zM580 1341h8v8h-8zM580 1349h8v8h-8zM572 1381h8v8h-8zM572 1389h8v8h-8zM572 1397h8v8h-8zM572 1405h8v8h-8zM572 1413h8v8h-8zM572 1421h8v8h-8zM572 1429h8v8h-8zM572 1437h8v8h-8zM572 1445h8v8h-8zM572 1453h8v8h-8zM572 1461h8v8h-8zM572 1469h8v8h-8zM572 1477h8v8h-8zM572 1485h8v8h-8z"/><path fill="#ffffb7" d="M604 1229h8v8h-8zM604 1237h8v8h-8zM604 1245h8v8h-8zM604 1253h8v8h-8zM604 1261h8v8h-8zM596 1277h8v8h-8zM596 1285h8v8h-8zM596 1293h8v8h-8zM596 1301h8v8h-8zM596 1309h8v8h-8zM588 1333h8v8h-8zM588 1341h8v8h-8zM588 1349h8v8h-8zM588 1357h8v8h-8zM588 1365h8v8h-8zM588 1373h8v8h-8zM588 1381h8v8h-8zM588 1389h8v8h-8zM588 1397h8v8h-8zM588 1405h8v8h-8zM588 1413h8v8h-8zM588 1421h8v8h-8zM588 1429h8v8h-8zM588 1437h8v8h-8zM588 1445h8v8h-8zM588 1453h8v8h-8zM588 1461h8v8h-8zM588 1469h8v8h-8zM588 1477h8v8h-8zM588 1485h8v8h-8z"/><path fill="#ffffb6" d="M612 1229h8v8h-8zM612 1237h8v8h-8zM612 1245h8v8h-8zM604 1269h8v8h-8zM604 1277h8v8h-8zM604 1285h8v8h-8zM604 1293h8v8h-8zM596 1317h8v8h-8zM596 1325h8v8h-8zM596 1333h8v8h-8zM596 1341h8v8h-8zM596 1349h8v8h-8zM596 1357h8v8h-8zM596 1365h8v8h-8zM596 1373h8v8h-8z"/><path fill="#ffffb5" d="M620 1229h8v8h-8zM620 1237h8v8h-8zM612 1253h8v8h-8zM612 1261h8v8h-8zM612 1269h8v8h-8zM612 1277h8v8h-8zM612 1285h8v8h-8zM604 1301h8v8h-8zM604 1309h8v8h-8zM604 1317h8v8h-8zM604 1325h8v8h-8zM604 1333h8v8h-8zM604 1341h8v8h-8zM596 1381h8v8h-8zM596 1389h8v8h-8zM596 1397h8v8h-8zM596 1405h8v8h-8zM596 1413h8v8h-8zM596 1421h8v8h-8zM596 1429h8v8h-8zM596 1437h8v8h-8zM596 1445h8v8h-8zM596 1453h8v8h-8zM596 1461h8v8h-8zM596 1469h8v8h-8zM596 1477h8v8h-8zM596 1485h8v8h-8z"/><path fill="#ffffb4" d="M628 1229h8v8h-8zM620 1245h8v8h-8zM620 1253h8v8h-8zM620 1261h8v8h-8zM620 1269h8v8h-8zM612 1293h8v8h-8zM612 1301h8v8h-8zM612 1309h8v8h-8zM612 1317h8v8h-8zM612 1325h8v8h-8zM604 1349h8v8h-8zM604 1357h8v8h-8zM604 1365h8v8h-8zM604 1373h8v8h-8zM604 1381h8v8h-8zM604 1389h8v8h-8zM604 1397h8v8h-8zM604 1405h8v8h-8zM604 1413h8v8h-8zM604 1421h8v8h-8zM604 1429h8v8h-8zM604 1437h8v8h-8zM604 1445h8v8h-8zM604 1453h8v8h-8zM604 1461h8v8h-8zM604 1469h8v8h-8zM604 1477h8v8h-8zM604 1485h8v8h-8z"/><path fill="#ffffb2" d="M636 1229h8v8h-8zM636 1237h8v8h-8zM636 1245h8v8h-8zM628 1269h8v8h-8zM628 1277h8v8h-8zM628 1285h8v8h-8zM628 1293h8v8h-8zM620 1317h8v8h-8zM620 1325h8v8h-8zM620 1333h8v8h-8zM620 1341h8v8h-8zM620 1349h8v8h-8zM612 1397h8v8h-8zM612 1405h8v8h-8zM612 1413h8v8h-8zM612 1421h8v8h-8zM612 1429h8v8h-8zM612 1437h8v8h-8zM612 1445h8v8h-8zM612 1453h8v8h-8zM612 1461h8v8h-8zM612 1469h8v8h-8zM612 1477h8v8h-8zM612 1485h8v8h-8z"/><path fill="#ffffb1" d="M644 1229h8v8h-8zM644 1237h8v8h-8zM636 1253h8v8h-8zM636 1261h8v8h-8zM636 1269h8v8h-8zM636 1277h8v8h-8zM628 1301h8v8h-8zM628 1309h8v8h-8zM628 1317h8v8h-8zM628 1325h8v8h-8zM620 1357h8v8h-8zM620 1365h8v8h-8zM620 1373h8v8h-8zM620 1381h8v8h-8zM620 1389h8v8h-8zM620 1397h8v8h-8zM620 1405h8v8h-8zM620 1413h8v8h-8zM620 1421h8v8h-8zM620 1429h8v8h-8zM620 1437h8v8h-8zM620 1445h8v8h-8zM620 1453h8v8h-8zM620 1461h8v8h-8zM620 1469h8v8h-8zM620 1477h8v8h-8zM620 1485h8v8h-8z"/><path fill="#ffffb0" d="M652 1229h8v8h-8zM644 1245h8v8h-8zM644 1253h8v8h-8zM644 1261h8v8h-8zM636 1285h8v8h-8zM636 1293h8v8h-8zM636 1301h8v8h-8zM636 1309h8v8h-8zM628 1333h8v8h-8zM628 1341h8v8h-8zM628 1349h8v8h-8zM628 1357h8v8h-8zM628 1365h8v8h-8zM628 1373h8v8h-8zM628 1381h8v8h-8zM628 1389h8v8h-8z"/><path fill="#ffffae" d="M660 1229h8v8h-8zM660 1237h8v8h-8zM660 1245h8v8h-8zM652 1261h8v8h-8zM652 1269h8v8h-8zM652 1277h8v8h-8zM644 1301h8v8h-8zM644 1309h8v8h-8zM644 1317h8v8h-8zM644 1325h8v8h-8zM636 1357h8v8h-8zM636 1365h8v8h-8zM636 1373h8v8h-8zM636 1381h8v8h-8zM636 1389h8v8h-8zM636 1397h8v8h-8zM636 1405h8v8h-8zM636 1413h8v8h-8zM636 1421h8v8h-8zM636 1429h8v8h-8zM636 1437h8v8h-8zM636 1445h8v8h-8zM636 1453h8v8h-8zM636 1461h8v8h-8zM636 1469h8v8h-8zM636 1477h8v8h-8zM636 1485h8v8h-8z"/><path fill="#ffffad" d="M668 1229h8v8h-8zM660 1253h8v8h-8zM660 1261h8v8h-8zM660 1269h8v8h-8zM652 1285h8v8h-8zM652 1293h8v8h-8zM652 1301h8v8h-8zM652 1309h8v8h-8zM644 1333h8v8h-8zM644 1341h8v8h-8zM644 1349h8v8h-8zM644 1357h8v8h-8zM644 1365h8v8h-8zM644 1373h8v8h-8z"/><path fill="#ffffab" d="M676 1229h8v8h-8zM676 1237h8v8h-8zM676 1245h8v8h-8zM668 1261h8v8h-8zM668 1269h8v8h-8zM668 1277h8v8h-8zM660 1301h8v8h-8zM660 1309h8v8h-8zM660 1317h8v8h-8zM652 1349h8v8h-8zM652 1357h8v8h-8zM652 1365h8v8h-8zM652 1373h8v8h-8zM652 1381h8v8h-8zM652 1389h8v8h-8zM652 1397h8v8h-8z"/><path fill="#ffffaa" d="M684 1229h8v8h-8zM684 1237h8v8h-8zM676 1253h8v8h-8zM676 1261h8v8h-8zM668 1285h8v8h-8zM668 1293h8v8h-8zM668 1301h8v8h-8zM660 1325h8v8h-8zM660 1333h8v8h-8zM660 1341h8v8h-8zM660 1349h8v8h-8zM660 1357h8v8h-8zM652 1405h8v8h-8zM652 1413h8v8h-8zM652 1421h8v8h-8zM652 1429h8v8h-8zM652 1437h8v8h-8zM652 1445h8v8h-8zM652 1453h8v8h-8zM652 1461h8v8h-8zM652 1469h8v8h-8zM652 1477h8v8h-8zM652 1485h8v8h-8z"/><path fill="#ffffa9" d="M692 1229h8v8h-8zM684 1245h8v8h-8zM684 1253h8v8h-8zM676 1269h8v8h-8zM676 1277h8v8h-8zM676 1285h8v8h-8zM668 1309h8v8h-8zM668 1317h8v8h-8zM668 1325h8v8h-8zM668 1333h8v8h-8zM660 1365h8v8h-8zM660 1373h8v8h-8zM660 1381h8v8h-8zM660 1389h8v8h-8zM660 1397h8v8h-8zM660 1405h8v8h-8zM660 1413h8v8h-8zM660 1421h8v8h-8zM660 1429h8v8h-8zM660 1437h8v8h-8zM660 1445h8v8h-8zM660 1453h8v8h-8zM660 1461h8v8h-8zM660 1469h8v8h-8zM660 1477h8v8h-8zM660 1485h8v8h-8z"/><path fill="#ffffa7" d="M700 1229h8v8h-8zM700 1237h8v8h-8zM692 1253h8v8h-8zM692 1261h8v8h-8zM684 1285h8v8h-8zM684 1293h8v8h-8zM676 1317h8v8h-8zM676 1325h8v8h-8zM676 1333h8v8h-8zM676 1341h8v8h-8zM668 1373h8v8h-8zM668 1381h8v8h-8zM668 1389h8v8h-8zM668 1397h8v8h-8zM668 1405h8v8h-8zM668 1413h8v8h-8zM668 1421h8v8h-8zM668 1429h8v8h-8zM668 1437h8v8h-8zM668 1445h8v8h-8zM668 1453h8v8h-8zM668 1461h8v8h-8zM668 1469h8v8h-8zM668 1477h8v8h-8zM668 1485h8v8h-8z"/><path fill="#ffffa5" d="M708 1229h8v8h-8zM708 1237h8v8h-8zM700 1261h8v8h-8zM700 1269h8v8h-8zM692 1285h8v8h-8zM692 1293h8v8h-8zM692 1301h8v8h-8zM684 1325h8v8h-8zM684 1333h8v8h-8zM684 1341h8v8h-8zM676 1381h8v8h-8zM676 1389h8v8h-8zM676 1397h8v8h-8zM676 1405h8v8h-8zM676 1413h8v8h-8zM676 1421h8v8h-8zM676 1429h8v8h-8zM676 1437h8v8h-8zM676 1445h8v8h-8zM676 1453h8v8h-8zM676 1461h8v8h-8zM676 1469h8v8h-8zM676 1477h8v8h-8zM676 1485h8v8h-8z"/><path fill="#ffffa4" d="M716 1229h8v8h-8zM708 1245h8v8h-8zM708 1253h8v8h-8zM700 1277h8v8h-8zM700 1285h8v8h-8zM692 1309h8v8h-8zM692 1317h8v8h-8zM692 1325h8v8h-8zM684 1349h8v8h-8zM684 1357h8v8h-8zM684 1365h8v8h-8zM684 1373h8v8h-8zM684 1381h8v8h-8z"/><path fill="#ffffa2" d="M724 1229h8v8h-8zM724 1237h8v8h-8zM716 1253h8v8h-8zM716 1261h8v8h-8zM708 1285h8v8h-8zM708 1293h8v8h-8zM700 1317h8v8h-8zM700 1325h8v8h-8zM692 1357h8v8h-8zM692 1365h8v8h-8zM692 1373h8v8h-8zM692 1381h8v8h-8zM692 1389h8v8h-8z"/><path fill="#ffffa1" d="M732 1229h8v8h-8zM724 1245h8v8h-8zM724 1253h8v8h-8zM716 1269h8v8h-8zM716 1277h8v8h-8zM708 1301h8v8h-8zM708 1309h8v8h-8zM700 1333h8v8h-8zM700 1341h8v8h-8zM700 1349h8v8h-8zM692 1397h8v8h-8zM692 1405h8v8h-8zM692 1413h8v8h-8zM692 1421h8v8h-8zM692 1429h8v8h-8zM692 1437h8v8h-8zM692 1445h8v8h-8zM692 1453h8v8h-8zM692 1461h8v8h-8zM692 1469h8v8h-8zM692 1477h8v8h-8zM692 1485h8v8h-8z"/><path fill="#ffff9f" d="M740 1229h8v8h-8zM740 1237h8v8h-8zM732 1253h8v8h-8zM724 1277h8v8h-8zM724 1285h8v8h-8zM716 1301h8v8h-8zM716 1309h8v8h-8zM708 1333h8v8h-8zM708 1341h8v8h-8zM708 1349h8v8h-8zM700 1397h8v8h-8zM700 1405h8v8h-8zM700 1413h8v8h-8zM700 1421h8v8h-8zM700 1429h8v8h-8zM700 1437h8v8h-8zM700 1445h8v8h-8zM700 1453h8v8h-8zM700 1461h8v8h-8zM700 1469h8v8h-8zM700 1477h8v8h-8zM700 1485h8v8h-8z"/><path fill="#ffff9e" d="M748 1229h8v8h-8zM740 1245h8v8h-8zM732 1261h8v8h-8zM732 1269h8v8h-8zM724 1293h8v8h-8zM716 1317h8v8h-8zM716 1325h8v8h-8zM716 1333h8v8h-8zM708 1357h8v8h-8zM708 1365h8v8h-8zM708 1373h8v8h-8zM708 1381h8v8h-8z"/><path fill="#ffff9c" d="M756 1229h8v8h-8zM748 1245h8v8h-8zM748 1253h8v8h-8zM740 1269h8v8h-8zM732 1293h8v8h-8zM732 1301h8v8h-8zM724 1317h8v8h-8zM724 1325h8v8h-8zM724 1333h8v8h-8zM716 1357h8v8h-8zM716 1365h8v8h-8zM716 1373h8v8h-8zM716 1381h8v8h-8z"/><path fill="#ffff9a" d="M764 1229h8v8h-8zM764 1237h8v8h-8zM756 1253h8v8h-8zM748 1269h8v8h-8zM748 1277h8v8h-8zM740 1293h8v8h-8zM740 1301h8v8h-8zM732 1325h8v8h-8zM724 1357h8v8h-8zM724 1365h8v8h-8zM724 1373h8v8h-8z"/><path fill="#ffff99" d="M772 1229h8v8h-8zM764 1245h8v8h-8zM756 1261h8v8h-8zM748 1285h8v8h-8zM740 1309h8v8h-8zM732 1333h8v8h-8zM732 1341h8v8h-8zM732 1349h8v8h-8zM724 1381h8v8h-8zM724 1389h8v8h-8zM724 1397h8v8h-8zM724 1405h8v8h-8zM724 1413h8v8h-8zM724 1421h8v8h-8zM724 1429h8v8h-8zM724 1437h8v8h-8zM724 1445h8v8h-8zM724 1453h8v8h-8zM724 1461h8v8h-8zM724 1469h8v8h-8zM724 1477h8v8h-8zM724 1485h8v8h-8z"/><path fill="#ffff97" d="M780 1229h8v8h-8zM772 1245h8v8h-8zM764 1261h8v8h-8zM764 1269h8v8h-8zM756 1285h8v8h-8zM748 1309h8v8h-8zM740 1333h8v8h-8zM740 1341h8v8h-8zM732 1373h8v8h-8zM732 1381h8v8h-8zM732 1389h8v8h-8zM732 1397h8v8h-8z"/><path fill="#ffff95" d="M788 1229h8v8h-8zM780 1245h8v8h-8zM772 1261h8v8h-8zM772 1269h8v8h-8zM764 1285h8v8h-8zM756 1309h8v8h-8zM748 1333h8v8h-8zM740 1365h8v8h-8zM740 1373h8v8h-8zM740 1381h8v8h-8z"/><path fill="#ffff93" d="M796 1229h8v8h-8zM788 1245h8v8h-8zM780 1261h8v8h-8zM772 1285h8v8h-8zM764 1301h8v8h-8zM756 1325h8v8h-8zM756 1333h8v8h-8zM748 1357h8v8h-8zM748 1365h8v8h-8zM740 1421h8v8h-8zM740 1429h8v8h-8zM740 1437h8v8h-8zM740 1445h8v8h-8zM740 1453h8v8h-8zM740 1461h8v8h-8zM740 1469h8v8h-8zM740 1477h8v8h-8zM740 1485h8v8h-8z"/><path fill="#ffff91" d="M804 1229h8v8h-8zM796 1245h8v8h-8zM788 1261h8v8h-8zM780 1277h8v8h-8zM772 1301h8v8h-8zM764 1325h8v8h-8zM756 1349h8v8h-8zM756 1357h8v8h-8zM748 1389h8v8h-8zM748 1397h8v8h-8zM748 1405h8v8h-8zM748 1413h8v8h-8zM748 1421h8v8h-8zM748 1429h8v8h-8zM748 1437h8v8h-8zM748 1445h8v8h-8zM748 1453h8v8h-8zM748 1461h8v8h-8zM748 1469h8v8h-8zM748 1477h8v8h-8zM748 1485h8v8h-8z"/><path fill="#ffff8f" d="M812 1229h8v8h-8zM804 1245h8v8h-8zM796 1261h8v8h-8zM788 1277h8v8h-8zM780 1293h8v8h-8zM772 1317h8v8h-8zM764 1341h8v8h-8zM756 1373h8v8h-8zM756 1381h8v8h-8z"/><path fill="#ffff8e" d="M820 1229h8v8h-8zM812 1237h8v8h-8zM804 1253h8v8h-8zM796 1269h8v8h-8zM788 1285h8v8h-8zM780 1301h8v8h-8zM772 1325h8v8h-8zM764 1349h8v8h-8zM764 1357h8v8h-8zM756 1389h8v8h-8zM756 1397h8v8h-8zM756 1405h8v8h-8zM756 1413h8v8h-8z"/><path fill="#ffff8c" d="M828 1229h8v8h-8zM820 1237h8v8h-8zM812 1253h8v8h-8zM804 1269h8v8h-8zM796 1285h8v8h-8zM788 1301h8v8h-8zM780 1317h8v8h-8zM780 1325h8v8h-8zM772 1341h8v8h-8zM772 1349h8v8h-8zM764 1373h8v8h-8zM764 1381h8v8h-8z"/><path fill="#ffff8a" d="M836 1229h8v8h-8zM828 1237h8v8h-8zM820 1253h8v8h-8zM812 1269h8v8h-8zM788 1317h8v8h-8zM780 1341h8v8h-8zM772 1365h8v8h-8zM764 1413h8v8h-8zM764 1421h8v8h-8zM764 1429h8v8h-8zM764 1437h8v8h-8zM764 1445h8v8h-8zM764 1453h8v8h-8zM764 1461h8v8h-8zM764 1469h8v8h-8zM764 1477h8v8h-8zM764 1485h8v8h-8z"/><path fill="#ffff88" d="M844 1229h8v8h-8zM836 1237h8v8h-8zM828 1253h8v8h-8zM812 1277h8v8h-8zM804 1293h8v8h-8zM796 1309h8v8h-8zM788 1333h8v8h-8zM780 1357h8v8h-8zM772 1389h8v8h-8zM772 1397h8v8h-8z"/><path fill="#ffff86" d="M852 1229h8v8h-8zM844 1237h8v8h-8zM836 1253h8v8h-8zM828 1261h8v8h-8zM820 1277h8v8h-8zM812 1293h8v8h-8zM804 1309h8v8h-8zM796 1325h8v8h-8zM788 1349h8v8h-8zM780 1373h8v8h-8z"/><path fill="#ffff84" d="M860 1229h8v8h-8zM844 1253h8v8h-8zM836 1261h8v8h-8zM828 1277h8v8h-8zM812 1301h8v8h-8zM804 1317h8v8h-8zM796 1341h8v8h-8zM788 1365h8v8h-8zM780 1397h8v8h-8zM780 1405h8v8h-8z"/><path fill="#ffff82" d="M868 1229h8v8h-8zM852 1253h8v8h-8zM844 1261h8v8h-8zM828 1285h8v8h-8zM820 1301h8v8h-8zM812 1317h8v8h-8zM804 1333h8v8h-8zM796 1357h8v8h-8zM788 1381h8v8h-8z"/><path fill="#ffff81" d="M876 1229h8v8h-8zM868 1237h8v8h-8zM860 1245h8v8h-8zM844 1269h8v8h-8zM836 1277h8v8h-8zM828 1293h8v8h-8zM804 1341h8v8h-8zM788 1389h8v8h-8zM788 1397h8v8h-8z"/><path fill="#ffff7f" d="M884 1229h8v8h-8zM876 1237h8v8h-8zM868 1245h8v8h-8zM844 1277h8v8h-8zM828 1301h8v8h-8zM820 1317h8v8h-8zM812 1333h8v8h-8zM796 1373h8v8h-8zM796 1381h8v8h-8zM788 1421h8v8h-8zM788 1429h8v8h-8zM788 1437h8v8h-8zM788 1445h8v8h-8zM788 1453h8v8h-8zM788 1461h8v8h-8zM788 1469h8v8h-8zM788 1477h8v8h-8zM788 1485h8v8h-8z"/><path fill="#ffff7d" d="M892 1229h8v8h-8zM884 1237h8v8h-8zM876 1245h8v8h-8zM852 1277h8v8h-8zM844 1285h8v8h-8zM836 1301h8v8h-8zM804 1365h8v8h-8zM796 1397h8v8h-8z"/><path fill="#ffff7c" d="M900 1229h8v8h-8zM876 1253h8v8h-8zM868 1261h8v8h-8zM860 1269h8v8h-8zM844 1293h8v8h-8zM828 1317h8v8h-8zM820 1333h8v8h-8zM812 1349h8v8h-8zM804 1373h8v8h-8zM796 1405h8v8h-8zM796 1413h8v8h-8z"/><path fill="#ffff7a" d="M908 1229h8v8h-8zM900 1237h8v8h-8zM892 1245h8v8h-8zM884 1253h8v8h-8zM876 1261h8v8h-8zM868 1269h8v8h-8zM844 1301h8v8h-8zM812 1365h8v8h-8zM804 1389h8v8h-8z"/><path fill="#ffff78" d="M916 1229h8v8h-8zM908 1237h8v8h-8zM900 1245h8v8h-8zM892 1253h8v8h-8zM884 1261h8v8h-8zM876 1269h8v8h-8zM868 1277h8v8h-8zM852 1301h8v8h-8zM844 1309h8v8h-8zM836 1325h8v8h-8zM820 1357h8v8h-8zM812 1373h8v8h-8zM804 1405h8v8h-8z"/><path fill="#ffff77" d="M924 1229h8v8h-8zM916 1237h8v8h-8zM860 1293h8v8h-8zM844 1317h8v8h-8zM828 1341h8v8h-8zM812 1381h8v8h-8zM804 1413h8v8h-8zM804 1421h8v8h-8zM804 1429h8v8h-8zM804 1437h8v8h-8zM804 1445h8v8h-8zM804 1453h8v8h-8zM804 1461h8v8h-8zM804 1469h8v8h-8zM804 1477h8v8h-8zM804 1485h8v8h-8z"/><path fill="#ffff76" d="M932 1229h8v8h-8zM908 1245h8v8h-8zM900 1253h8v8h-8zM892 1261h8v8h-8zM884 1269h8v8h-8zM876 1277h8v8h-8zM868 1285h8v8h-8zM852 1309h8v8h-8zM836 1333h8v8h-8zM828 1349h8v8h-8zM820 1365h8v8h-8zM812 1389h8v8h-8z"/><path fill="#ffff74" d="M940 1229h8v8h-8zM932 1237h8v8h-8zM908 1253h8v8h-8zM900 1261h8v8h-8zM892 1269h8v8h-8zM884 1277h8v8h-8zM876 1285h8v8h-8zM868 1293h8v8h-8zM852 1317h8v8h-8zM836 1341h8v8h-8zM828 1357h8v8h-8zM820 1373h8v8h-8zM812 1405h8v8h-8z"/><path fill="#ffff73" d="M948 1229h8v8h-8zM924 1245h8v8h-8zM916 1253h8v8h-8zM860 1309h8v8h-8zM844 1333h8v8h-8zM820 1381h8v8h-8zM812 1413h8v8h-8z"/><path fill="#ffff72" d="M956 1229h8v8h-8zM940 1237h8v8h-8zM932 1245h8v8h-8zM908 1261h8v8h-8zM900 1269h8v8h-8zM892 1277h8v8h-8zM884 1285h8v8h-8zM876 1293h8v8h-8zM868 1301h8v8h-8zM852 1325h8v8h-8zM836 1349h8v8h-8zM828 1365h8v8h-8zM812 1421h8v8h-8zM812 1429h8v8h-8zM812 1437h8v8h-8zM812 1445h8v8h-8zM812 1453h8v8h-8zM812 1461h8v8h-8zM812 1469h8v8h-8zM812 1477h8v8h-8zM812 1485h8v8h-8z"/><path fill="#ffff71" d="M964 1229h8v8h-8zM948 1237h8v8h-8zM924 1253h8v8h-8zM860 1317h8v8h-8zM844 1341h8v8h-8zM828 1373h8v8h-8zM820 1389h8v8h-8z"/><path fill="#ffff70" d="M972 1229h8v8h-8zM956 1237h8v8h-8zM940 1245h8v8h-8zM916 1261h8v8h-8zM908 1269h8v8h-8zM900 1277h8v8h-8zM892 1285h8v8h-8zM884 1293h8v8h-8zM876 1301h8v8h-8zM868 1309h8v8h-8zM852 1333h8v8h-8zM836 1357h8v8h-8zM820 1397h8v8h-8z"/><path fill="#ffff6f" d="M980 1229h8v8h-8zM964 1237h8v8h-8zM948 1245h8v8h-8zM932 1253h8v8h-8zM924 1261h8v8h-8zM860 1325h8v8h-8zM844 1349h8v8h-8zM836 1365h8v8h-8zM828 1381h8v8h-8zM820 1405h8v8h-8z"/><path fill="#ffff6e" d="M988 1229h8v8h-8zM972 1237h8v8h-8zM956 1245h8v8h-8zM940 1253h8v8h-8zM916 1269h8v8h-8zM908 1277h8v8h-8zM900 1285h8v8h-8zM884 1301h8v8h-8zM876 1309h8v8h-8zM868 1317h8v8h-8zM852 1341h8v8h-8zM820 1413h8v8h-8z"/><path fill="#ffff6d" d="M996 1229h8v8h-8zM980 1237h8v8h-8zM948 1253h8v8h-8zM932 1261h8v8h-8zM892 1293h8v8h-8zM860 1333h8v8h-8zM844 1357h8v8h-8zM836 1373h8v8h-8zM828 1389h8v8h-8zM820 1421h8v8h-8zM820 1429h8v8h-8zM820 1437h8v8h-8zM820 1445h8v8h-8zM820 1453h8v8h-8zM820 1461h8v8h-8zM820 1469h8v8h-8zM820 1477h8v8h-8zM820 1485h8v8h-8z"/><path fill="#ffff6c" d="M1004 1229h8v8h-8zM1012 1229h8v8h-8zM988 1237h8v8h-8zM964 1245h8v8h-8zM940 1261h8v8h-8zM924 1269h8v8h-8zM916 1277h8v8h-8zM908 1285h8v8h-8zM868 1325h8v8h-8z"/><path fill="#ffff6b" d="M1020 1229h8v8h-8zM996 1237h8v8h-8zM972 1245h8v8h-8zM956 1253h8v8h-8zM932 1269h8v8h-8zM900 1293h8v8h-8zM892 1301h8v8h-8zM884 1309h8v8h-8zM876 1317h8v8h-8zM852 1349h8v8h-8zM844 1365h8v8h-8zM836 1381h8v8h-8zM828 1397h8v8h-8z"/><path fill="#ffff6a" d="M1028 1229h8v8h-8zM1036 1229h8v8h-8zM1004 1237h8v8h-8zM980 1245h8v8h-8zM988 1245h8v8h-8zM964 1253h8v8h-8zM948 1261h8v8h-8zM924 1277h8v8h-8zM916 1285h8v8h-8zM868 1333h8v8h-8zM860 1341h8v8h-8zM828 1405h8v8h-8z"/><path fill="#ffff69" d="M1044 1229h8v8h-8zM1052 1229h8v8h-8zM1012 1237h8v8h-8zM1020 1237h8v8h-8zM996 1245h8v8h-8zM972 1253h8v8h-8zM956 1261h8v8h-8zM940 1269h8v8h-8zM908 1293h8v8h-8zM900 1301h8v8h-8zM892 1309h8v8h-8zM884 1317h8v8h-8zM876 1325h8v8h-8zM852 1357h8v8h-8zM844 1373h8v8h-8zM836 1389h8v8h-8z"/><path fill="#ffff68" d="M1060 1229h8v8h-8zM1068 1229h8v8h-8zM1076 1229h8v8h-8zM1028 1237h8v8h-8zM1036 1237h8v8h-8zM1004 1245h8v8h-8zM980 1253h8v8h-8zM964 1261h8v8h-8zM948 1269h8v8h-8zM932 1277h8v8h-8zM924 1285h8v8h-8zM860 1349h8v8h-8zM828 1413h8v8h-8z"/><path fill="#ffff67" d="M1084 1229h8v8h-8zM1092 1229h8v8h-8zM1100 1229h8v8h-8zM1108 1229h8v8h-8zM1204 1229h8v8h-8zM1212 1229h8v8h-8zM1220 1229h8v8h-8zM1228 1229h8v8h-8zM1044 1237h8v8h-8zM1052 1237h8v8h-8zM1012 1245h8v8h-8zM988 1253h8v8h-8zM972 1261h8v8h-8zM940 1277h8v8h-8zM916 1293h8v8h-8zM908 1301h8v8h-8zM876 1333h8v8h-8zM868 1341h8v8h-8zM852 1365h8v8h-8zM828 1421h8v8h-8zM828 1429h8v8h-8zM828 1437h8v8h-8zM828 1445h8v8h-8zM828 1453h8v8h-8zM828 1461h8v8h-8zM828 1469h8v8h-8zM828 1477h8v8h-8zM828 1485h8v8h-8z"/><path fill="#ffff66" d="M1116 1229h8v8h-8zM1124 1229h8v8h-8zM1132 1229h8v8h-8zM1140 1229h8v8h-8zM1148 1229h8v8h-8zM1156 1229h8v8h-8zM1164 1229h8v8h-8zM1172 1229h8v8h-8zM1180 1229h8v8h-8zM1188 1229h8v8h-8zM1196 1229h8v8h-8zM1060 1237h8v8h-8zM1068 1237h8v8h-8zM1020 1245h8v8h-8zM1028 1245h8v8h-8zM996 1253h8v8h-8zM980 1261h8v8h-8zM956 1269h8v8h-8zM932 1285h8v8h-8zM900 1309h8v8h-8zM892 1317h8v8h-8zM884 1325h8v8h-8zM860 1357h8v8h-8zM844 1381h8v8h-8zM836 1397h8v8h-8z"/><path fill="#ffffbf" d="M548 1237h8v8h-8zM548 1245h8v8h-8zM548 1253h8v8h-8zM548 1261h8v8h-8zM548 1269h8v8h-8zM548 1277h8v8h-8zM540 1285h8v8h-8zM540 1293h8v8h-8zM540 1301h8v8h-8zM540 1309h8v8h-8zM540 1317h8v8h-8zM540 1325h8v8h-8zM540 1333h8v8h-8zM540 1341h8v8h-8zM540 1349h8v8h-8zM540 1357h8v8h-8zM532 1381h8v8h-8zM532 1389h8v8h-8zM532 1397h8v8h-8zM532 1405h8v8h-8zM532 1413h8v8h-8zM532 1421h8v8h-8zM532 1429h8v8h-8zM532 1437h8v8h-8zM532 1445h8v8h-8zM532 1453h8v8h-8zM532 1461h8v8h-8zM532 1469h8v8h-8zM532 1477h8v8h-8zM532 1485h8v8h-8z"/><path fill="#ffffb8" d="M596 1237h8v8h-8zM596 1245h8v8h-8zM596 1253h8v8h-8zM596 1261h8v8h-8zM596 1269h8v8h-8zM588 1285h8v8h-8zM588 1293h8v8h-8zM588 1301h8v8h-8zM588 1309h8v8h-8zM588 1317h8v8h-8zM588 1325h8v8h-8zM580 1357h8v8h-8zM580 1365h8v8h-8zM580 1373h8v8h-8zM580 1381h8v8h-8zM580 1389h8v8h-8zM580 1397h8v8h-8zM580 1405h8v8h-8zM580 1413h8v8h-8zM580 1421h8v8h-8zM580 1429h8v8h-8zM580 1437h8v8h-8zM580 1445h8v8h-8zM580 1453h8v8h-8zM580 1461h8v8h-8zM580 1469h8v8h-8zM580 1477h8v8h-8zM580 1485h8v8h-8z"/><path fill="#ffffb3" d="M628 1237h8v8h-8zM628 1245h8v8h-8zM628 1253h8v8h-8zM628 1261h8v8h-8zM620 1277h8v8h-8zM620 1285h8v8h-8zM620 1293h8v8h-8zM620 1301h8v8h-8zM620 1309h8v8h-8zM612 1333h8v8h-8zM612 1341h8v8h-8zM612 1349h8v8h-8zM612 1357h8v8h-8zM612 1365h8v8h-8zM612 1373h8v8h-8zM612 1381h8v8h-8zM612 1389h8v8h-8z"/><path fill="#ffffaf" d="M652 1237h8v8h-8zM652 1245h8v8h-8zM652 1253h8v8h-8zM644 1269h8v8h-8zM644 1277h8v8h-8zM644 1285h8v8h-8zM644 1293h8v8h-8zM636 1317h8v8h-8zM636 1325h8v8h-8zM636 1333h8v8h-8zM636 1341h8v8h-8zM636 1349h8v8h-8zM628 1397h8v8h-8zM628 1405h8v8h-8zM628 1413h8v8h-8zM628 1421h8v8h-8zM628 1429h8v8h-8zM628 1437h8v8h-8zM628 1445h8v8h-8zM628 1453h8v8h-8zM628 1461h8v8h-8zM628 1469h8v8h-8zM628 1477h8v8h-8zM628 1485h8v8h-8z"/><path fill="#ffffac" d="M668 1237h8v8h-8zM668 1245h8v8h-8zM668 1253h8v8h-8zM660 1277h8v8h-8zM660 1285h8v8h-8zM660 1293h8v8h-8zM652 1317h8v8h-8zM652 1325h8v8h-8zM652 1333h8v8h-8zM652 1341h8v8h-8zM644 1381h8v8h-8zM644 1389h8v8h-8zM644 1397h8v8h-8zM644 1405h8v8h-8zM644 1413h8v8h-8zM644 1421h8v8h-8zM644 1429h8v8h-8zM644 1437h8v8h-8zM644 1445h8v8h-8zM644 1453h8v8h-8zM644 1461h8v8h-8zM644 1469h8v8h-8zM644 1477h8v8h-8zM644 1485h8v8h-8z"/><path fill="#ffffa8" d="M692 1237h8v8h-8zM692 1245h8v8h-8zM684 1261h8v8h-8zM684 1269h8v8h-8zM684 1277h8v8h-8zM676 1293h8v8h-8zM676 1301h8v8h-8zM676 1309h8v8h-8zM668 1341h8v8h-8zM668 1349h8v8h-8zM668 1357h8v8h-8zM668 1365h8v8h-8z"/><path fill="#ffffa3" d="M716 1237h8v8h-8zM716 1245h8v8h-8zM708 1261h8v8h-8zM708 1269h8v8h-8zM708 1277h8v8h-8zM700 1293h8v8h-8zM700 1301h8v8h-8zM700 1309h8v8h-8zM692 1333h8v8h-8zM692 1341h8v8h-8zM692 1349h8v8h-8zM684 1389h8v8h-8zM684 1397h8v8h-8zM684 1405h8v8h-8zM684 1413h8v8h-8zM684 1421h8v8h-8zM684 1429h8v8h-8zM684 1437h8v8h-8zM684 1445h8v8h-8zM684 1453h8v8h-8zM684 1461h8v8h-8zM684 1469h8v8h-8zM684 1477h8v8h-8zM684 1485h8v8h-8z"/><path fill="#ffffa0" d="M732 1237h8v8h-8zM732 1245h8v8h-8zM724 1261h8v8h-8zM724 1269h8v8h-8zM716 1285h8v8h-8zM716 1293h8v8h-8zM708 1317h8v8h-8zM708 1325h8v8h-8zM700 1357h8v8h-8zM700 1365h8v8h-8zM700 1373h8v8h-8zM700 1381h8v8h-8zM700 1389h8v8h-8z"/><path fill="#ffff9d" d="M748 1237h8v8h-8zM740 1253h8v8h-8zM740 1261h8v8h-8zM732 1277h8v8h-8zM732 1285h8v8h-8zM724 1301h8v8h-8zM724 1309h8v8h-8zM716 1341h8v8h-8zM716 1349h8v8h-8zM708 1389h8v8h-8zM708 1397h8v8h-8zM708 1405h8v8h-8zM708 1413h8v8h-8zM708 1421h8v8h-8zM708 1429h8v8h-8zM708 1437h8v8h-8zM708 1445h8v8h-8zM708 1453h8v8h-8zM708 1461h8v8h-8zM708 1469h8v8h-8zM708 1477h8v8h-8zM708 1485h8v8h-8z"/><path fill="#ffff9b" d="M756 1237h8v8h-8zM756 1245h8v8h-8zM748 1261h8v8h-8zM740 1277h8v8h-8zM740 1285h8v8h-8zM732 1309h8v8h-8zM732 1317h8v8h-8zM724 1341h8v8h-8zM724 1349h8v8h-8zM716 1389h8v8h-8zM716 1397h8v8h-8zM716 1405h8v8h-8zM716 1413h8v8h-8zM716 1421h8v8h-8zM716 1429h8v8h-8zM716 1437h8v8h-8zM716 1445h8v8h-8zM716 1453h8v8h-8zM716 1461h8v8h-8zM716 1469h8v8h-8zM716 1477h8v8h-8zM716 1485h8v8h-8z"/><path fill="#ffff98" d="M772 1237h8v8h-8zM764 1253h8v8h-8zM756 1269h8v8h-8zM756 1277h8v8h-8zM748 1293h8v8h-8zM748 1301h8v8h-8zM740 1317h8v8h-8zM740 1325h8v8h-8zM732 1357h8v8h-8zM732 1365h8v8h-8z"/><path fill="#ffff96" d="M780 1237h8v8h-8zM772 1253h8v8h-8zM764 1277h8v8h-8zM756 1293h8v8h-8zM756 1301h8v8h-8zM748 1317h8v8h-8zM748 1325h8v8h-8zM740 1349h8v8h-8zM740 1357h8v8h-8zM732 1405h8v8h-8zM732 1413h8v8h-8zM732 1421h8v8h-8zM732 1429h8v8h-8zM732 1437h8v8h-8zM732 1445h8v8h-8zM732 1453h8v8h-8zM732 1461h8v8h-8zM732 1469h8v8h-8zM732 1477h8v8h-8zM732 1485h8v8h-8z"/><path fill="#ffff94" d="M788 1237h8v8h-8zM780 1253h8v8h-8zM772 1277h8v8h-8zM764 1293h8v8h-8zM756 1317h8v8h-8zM748 1341h8v8h-8zM748 1349h8v8h-8zM740 1389h8v8h-8zM740 1397h8v8h-8zM740 1405h8v8h-8zM740 1413h8v8h-8z"/><path fill="#ffff92" d="M796 1237h8v8h-8zM788 1253h8v8h-8zM780 1269h8v8h-8zM772 1293h8v8h-8zM764 1309h8v8h-8zM764 1317h8v8h-8zM756 1341h8v8h-8zM748 1373h8v8h-8zM748 1381h8v8h-8z"/><path fill="#ffff90" d="M804 1237h8v8h-8zM796 1253h8v8h-8zM788 1269h8v8h-8zM780 1285h8v8h-8zM772 1309h8v8h-8zM764 1333h8v8h-8zM756 1365h8v8h-8z"/><path fill="#ffff85" d="M852 1237h8v8h-8zM844 1245h8v8h-8zM828 1269h8v8h-8zM820 1285h8v8h-8zM796 1333h8v8h-8zM788 1357h8v8h-8zM780 1381h8v8h-8zM780 1389h8v8h-8z"/><path fill="#ffff83" d="M860 1237h8v8h-8zM852 1245h8v8h-8zM836 1269h8v8h-8zM820 1293h8v8h-8zM812 1309h8v8h-8zM804 1325h8v8h-8zM796 1349h8v8h-8zM788 1373h8v8h-8zM780 1413h8v8h-8zM780 1421h8v8h-8zM780 1429h8v8h-8zM780 1437h8v8h-8zM780 1445h8v8h-8zM780 1453h8v8h-8zM780 1461h8v8h-8zM780 1469h8v8h-8zM780 1477h8v8h-8zM780 1485h8v8h-8z"/><path fill="#ffff7b" d="M892 1237h8v8h-8zM884 1245h8v8h-8zM860 1277h8v8h-8zM852 1285h8v8h-8zM836 1309h8v8h-8zM828 1325h8v8h-8zM820 1341h8v8h-8zM812 1357h8v8h-8zM804 1381h8v8h-8zM796 1421h8v8h-8zM796 1429h8v8h-8zM796 1437h8v8h-8zM796 1445h8v8h-8zM796 1453h8v8h-8zM796 1461h8v8h-8zM796 1469h8v8h-8zM796 1477h8v8h-8zM796 1485h8v8h-8z"/><path fill="#ffff75" d="M924 1237h8v8h-8zM916 1245h8v8h-8zM860 1301h8v8h-8zM844 1325h8v8h-8zM812 1397h8v8h-8z"/><path fill="#ffff65" d="M1076 1237h8v8h-8zM1084 1237h8v8h-8zM1092 1237h8v8h-8zM1204 1237h8v8h-8zM1212 1237h8v8h-8zM1220 1237h8v8h-8zM1228 1237h8v8h-8zM1036 1245h8v8h-8zM1044 1245h8v8h-8zM1004 1253h8v8h-8zM1012 1253h8v8h-8zM988 1261h8v8h-8zM964 1269h8v8h-8zM948 1277h8v8h-8zM924 1293h8v8h-8zM868 1349h8v8h-8zM852 1373h8v8h-8z"/><path fill="#ffff64" d="M1100 1237h8v8h-8zM1108 1237h8v8h-8zM1116 1237h8v8h-8zM1124 1237h8v8h-8zM1132 1237h8v8h-8zM1140 1237h8v8h-8zM1148 1237h8v8h-8zM1156 1237h8v8h-8zM1164 1237h8v8h-8zM1172 1237h8v8h-8zM1180 1237h8v8h-8zM1188 1237h8v8h-8zM1196 1237h8v8h-8zM1052 1245h8v8h-8zM1060 1245h8v8h-8zM1020 1253h8v8h-8zM996 1261h8v8h-8zM972 1269h8v8h-8zM956 1277h8v8h-8zM940 1285h8v8h-8zM916 1301h8v8h-8zM908 1309h8v8h-8zM900 1317h8v8h-8zM892 1325h8v8h-8zM884 1333h8v8h-8zM876 1341h8v8h-8zM844 1389h8v8h-8zM836 1405h8v8h-8z"/><path fill="#ffffa6" d="M700 1245h8v8h-8zM700 1253h8v8h-8zM692 1269h8v8h-8zM692 1277h8v8h-8zM684 1301h8v8h-8zM684 1309h8v8h-8zM684 1317h8v8h-8zM676 1349h8v8h-8zM676 1357h8v8h-8zM676 1365h8v8h-8zM676 1373h8v8h-8z"/><path fill="#ffff8d" d="M812 1245h8v8h-8zM804 1261h8v8h-8zM796 1277h8v8h-8zM788 1293h8v8h-8zM780 1309h8v8h-8zM772 1333h8v8h-8zM764 1365h8v8h-8zM756 1421h8v8h-8zM756 1429h8v8h-8zM756 1437h8v8h-8zM756 1445h8v8h-8zM756 1453h8v8h-8zM756 1461h8v8h-8zM756 1469h8v8h-8zM756 1477h8v8h-8zM756 1485h8v8h-8z"/><path fill="#ffff8b" d="M820 1245h8v8h-8zM812 1261h8v8h-8zM804 1277h8v8h-8zM796 1293h8v8h-8zM788 1309h8v8h-8zM780 1333h8v8h-8zM772 1357h8v8h-8zM764 1389h8v8h-8zM764 1397h8v8h-8zM764 1405h8v8h-8z"/><path fill="#ffff89" d="M828 1245h8v8h-8zM820 1261h8v8h-8zM804 1285h8v8h-8zM796 1301h8v8h-8zM788 1325h8v8h-8zM780 1349h8v8h-8zM772 1373h8v8h-8zM772 1381h8v8h-8z"/><path fill="#ffff87" d="M836 1245h8v8h-8zM820 1269h8v8h-8zM812 1285h8v8h-8zM804 1301h8v8h-8zM796 1317h8v8h-8zM788 1341h8v8h-8zM780 1365h8v8h-8zM772 1405h8v8h-8zM772 1413h8v8h-8zM772 1421h8v8h-8zM772 1429h8v8h-8zM772 1437h8v8h-8zM772 1445h8v8h-8zM772 1453h8v8h-8zM772 1461h8v8h-8zM772 1469h8v8h-8zM772 1477h8v8h-8zM772 1485h8v8h-8z"/><path fill="#ffff63" d="M1068 1245h8v8h-8zM1076 1245h8v8h-8zM1084 1245h8v8h-8zM1212 1245h8v8h-8zM1220 1245h8v8h-8zM1228 1245h8v8h-8zM1028 1253h8v8h-8zM1036 1253h8v8h-8zM1004 1261h8v8h-8zM980 1269h8v8h-8zM964 1277h8v8h-8zM948 1285h8v8h-8zM932 1293h8v8h-8zM860 1365h8v8h-8z"/><path fill="#ffff62" d="M1092 1245h8v8h-8zM1100 1245h8v8h-8zM1108 1245h8v8h-8zM1116 1245h8v8h-8zM1124 1245h8v8h-8zM1132 1245h8v8h-8zM1140 1245h8v8h-8zM1148 1245h8v8h-8zM1156 1245h8v8h-8zM1164 1245h8v8h-8zM1172 1245h8v8h-8zM1180 1245h8v8h-8zM1188 1245h8v8h-8zM1196 1245h8v8h-8zM1204 1245h8v8h-8zM1044 1253h8v8h-8zM1052 1253h8v8h-8zM1012 1261h8v8h-8zM988 1269h8v8h-8zM924 1301h8v8h-8zM916 1309h8v8h-8zM868 1357h8v8h-8zM852 1381h8v8h-8zM844 1397h8v8h-8zM836 1413h8v8h-8z"/><path fill="#ffff80" d="M860 1253h8v8h-8zM852 1261h8v8h-8zM836 1285h8v8h-8zM820 1309h8v8h-8zM812 1325h8v8h-8zM804 1349h8v8h-8zM796 1365h8v8h-8zM788 1405h8v8h-8zM788 1413h8v8h-8z"/><path fill="#ffff7e" d="M868 1253h8v8h-8zM860 1261h8v8h-8zM852 1269h8v8h-8zM836 1293h8v8h-8zM828 1309h8v8h-8zM820 1325h8v8h-8zM812 1341h8v8h-8zM804 1357h8v8h-8zM796 1389h8v8h-8z"/><path fill="#ffff61" d="M1060 1253h8v8h-8zM1068 1253h8v8h-8zM1212 1253h8v8h-8zM1220 1253h8v8h-8zM1228 1253h8v8h-8zM1020 1261h8v8h-8zM1028 1261h8v8h-8zM996 1269h8v8h-8zM972 1277h8v8h-8zM956 1285h8v8h-8zM940 1293h8v8h-8zM908 1317h8v8h-8zM900 1325h8v8h-8zM892 1333h8v8h-8zM884 1341h8v8h-8zM876 1349h8v8h-8z"/><path fill="#ffff60" d="M1076 1253h8v8h-8zM1084 1253h8v8h-8zM1092 1253h8v8h-8zM1100 1253h8v8h-8zM1108 1253h8v8h-8zM1164 1253h8v8h-8zM1172 1253h8v8h-8zM1180 1253h8v8h-8zM1188 1253h8v8h-8zM1196 1253h8v8h-8zM1204 1253h8v8h-8zM1036 1261h8v8h-8zM1044 1261h8v8h-8zM1004 1269h8v8h-8zM980 1277h8v8h-8zM964 1285h8v8h-8zM948 1293h8v8h-8zM932 1301h8v8h-8zM924 1309h8v8h-8zM860 1373h8v8h-8zM852 1389h8v8h-8zM836 1421h8v8h-8zM836 1429h8v8h-8zM836 1437h8v8h-8zM836 1445h8v8h-8zM836 1453h8v8h-8zM836 1461h8v8h-8zM836 1469h8v8h-8zM836 1477h8v8h-8zM836 1485h8v8h-8z"/><path fill="#ffff5f" d="M1116 1253h8v8h-8zM1124 1253h8v8h-8zM1132 1253h8v8h-8zM1140 1253h8v8h-8zM1148 1253h8v8h-8zM1156 1253h8v8h-8zM1052 1261h8v8h-8zM1060 1261h8v8h-8zM1212 1261h8v8h-8zM1220 1261h8v8h-8zM1228 1261h8v8h-8zM1012 1269h8v8h-8zM1020 1269h8v8h-8zM988 1277h8v8h-8zM972 1285h8v8h-8zM940 1301h8v8h-8zM916 1317h8v8h-8zM868 1365h8v8h-8zM844 1405h8v8h-8z"/><path fill="#ffff5e" d="M1068 1261h8v8h-8zM1076 1261h8v8h-8zM1084 1261h8v8h-8zM1180 1261h8v8h-8zM1188 1261h8v8h-8zM1196 1261h8v8h-8zM1204 1261h8v8h-8zM1028 1269h8v8h-8zM996 1277h8v8h-8zM956 1293h8v8h-8zM932 1309h8v8h-8zM908 1325h8v8h-8zM900 1333h8v8h-8zM892 1341h8v8h-8zM884 1349h8v8h-8zM876 1357h8v8h-8zM860 1381h8v8h-8z"/><path fill="#ffff5d" d="M1092 1261h8v8h-8zM1100 1261h8v8h-8zM1108 1261h8v8h-8zM1116 1261h8v8h-8zM1124 1261h8v8h-8zM1132 1261h8v8h-8zM1140 1261h8v8h-8zM1148 1261h8v8h-8zM1156 1261h8v8h-8zM1164 1261h8v8h-8zM1172 1261h8v8h-8zM1036 1269h8v8h-8zM1044 1269h8v8h-8zM1220 1269h8v8h-8zM1228 1269h8v8h-8zM1004 1277h8v8h-8zM1012 1277h8v8h-8zM980 1285h8v8h-8zM964 1293h8v8h-8zM948 1301h8v8h-8zM924 1317h8v8h-8zM852 1397h8v8h-8z"/><path fill="#ffff5c" d="M1052 1269h8v8h-8zM1060 1269h8v8h-8zM1068 1269h8v8h-8zM1188 1269h8v8h-8zM1196 1269h8v8h-8zM1204 1269h8v8h-8zM1212 1269h8v8h-8zM1020 1277h8v8h-8zM988 1285h8v8h-8zM972 1293h8v8h-8zM940 1309h8v8h-8zM916 1325h8v8h-8zM868 1373h8v8h-8z"/><path fill="#ffff5b" d="M1076 1269h8v8h-8zM1084 1269h8v8h-8zM1092 1269h8v8h-8zM1100 1269h8v8h-8zM1108 1269h8v8h-8zM1140 1269h8v8h-8zM1148 1269h8v8h-8zM1156 1269h8v8h-8zM1164 1269h8v8h-8zM1172 1269h8v8h-8zM1180 1269h8v8h-8zM1028 1277h8v8h-8zM1036 1277h8v8h-8zM1220 1277h8v8h-8zM1228 1277h8v8h-8zM996 1285h8v8h-8zM1004 1285h8v8h-8zM980 1293h8v8h-8zM956 1301h8v8h-8zM908 1333h8v8h-8zM900 1341h8v8h-8zM892 1349h8v8h-8zM884 1357h8v8h-8zM876 1365h8v8h-8zM860 1389h8v8h-8zM844 1413h8v8h-8z"/><path fill="#ffff5a" d="M1116 1269h8v8h-8zM1124 1269h8v8h-8zM1132 1269h8v8h-8zM1044 1277h8v8h-8zM1052 1277h8v8h-8zM1196 1277h8v8h-8zM1204 1277h8v8h-8zM1212 1277h8v8h-8zM1012 1285h8v8h-8zM964 1301h8v8h-8zM948 1309h8v8h-8zM932 1317h8v8h-8zM852 1405h8v8h-8z"/><path fill="#ffff59" d="M1060 1277h8v8h-8zM1068 1277h8v8h-8zM1076 1277h8v8h-8zM1172 1277h8v8h-8zM1180 1277h8v8h-8zM1188 1277h8v8h-8zM1020 1285h8v8h-8zM1228 1285h8v8h-8zM988 1293h8v8h-8zM972 1301h8v8h-8zM924 1325h8v8h-8zM916 1333h8v8h-8zM868 1381h8v8h-8zM844 1477h8v8h-8zM844 1485h8v8h-8z"/><path fill="#ffff58" d="M1084 1277h8v8h-8zM1092 1277h8v8h-8zM1100 1277h8v8h-8zM1108 1277h8v8h-8zM1116 1277h8v8h-8zM1124 1277h8v8h-8zM1132 1277h8v8h-8zM1140 1277h8v8h-8zM1148 1277h8v8h-8zM1156 1277h8v8h-8zM1164 1277h8v8h-8zM1028 1285h8v8h-8zM1036 1285h8v8h-8zM1204 1285h8v8h-8zM1212 1285h8v8h-8zM1220 1285h8v8h-8zM996 1293h8v8h-8zM1004 1293h8v8h-8zM956 1309h8v8h-8zM940 1317h8v8h-8zM908 1341h8v8h-8zM900 1349h8v8h-8zM884 1365h8v8h-8zM876 1373h8v8h-8zM860 1397h8v8h-8zM844 1421h8v8h-8zM844 1429h8v8h-8zM844 1437h8v8h-8zM844 1445h8v8h-8zM844 1453h8v8h-8zM844 1461h8v8h-8zM844 1469h8v8h-8z"/><path fill="#ffff79" d="M860 1285h8v8h-8zM852 1293h8v8h-8zM836 1317h8v8h-8zM828 1333h8v8h-8zM820 1349h8v8h-8zM804 1397h8v8h-8z"/><path fill="#ffff57" d="M1044 1285h8v8h-8zM1052 1285h8v8h-8zM1180 1285h8v8h-8zM1188 1285h8v8h-8zM1196 1285h8v8h-8zM1012 1293h8v8h-8zM980 1301h8v8h-8zM964 1309h8v8h-8zM948 1317h8v8h-8zM932 1325h8v8h-8zM892 1357h8v8h-8zM852 1453h8v8h-8zM852 1461h8v8h-8zM852 1469h8v8h-8zM852 1477h8v8h-8zM852 1485h8v8h-8z"/><path fill="#ffff56" d="M1060 1285h8v8h-8zM1068 1285h8v8h-8zM1076 1285h8v8h-8zM1084 1285h8v8h-8zM1148 1285h8v8h-8zM1156 1285h8v8h-8zM1164 1285h8v8h-8zM1172 1285h8v8h-8zM1020 1293h8v8h-8zM1212 1293h8v8h-8zM1220 1293h8v8h-8zM1228 1293h8v8h-8zM988 1301h8v8h-8zM924 1333h8v8h-8zM868 1389h8v8h-8zM852 1413h8v8h-8zM860 1429h8v8h-8zM860 1437h8v8h-8zM860 1445h8v8h-8zM860 1453h8v8h-8zM860 1461h8v8h-8zM860 1469h8v8h-8zM860 1477h8v8h-8zM860 1485h8v8h-8z"/><path fill="#ffff55" d="M1092 1285h8v8h-8zM1100 1285h8v8h-8zM1108 1285h8v8h-8zM1116 1285h8v8h-8zM1124 1285h8v8h-8zM1132 1285h8v8h-8zM1140 1285h8v8h-8zM1028 1293h8v8h-8zM1036 1293h8v8h-8zM1196 1293h8v8h-8zM1204 1293h8v8h-8zM996 1301h8v8h-8zM972 1309h8v8h-8zM956 1317h8v8h-8zM940 1325h8v8h-8zM916 1341h8v8h-8zM908 1349h8v8h-8zM876 1381h8v8h-8zM860 1405h8v8h-8zM852 1445h8v8h-8z"/><path fill="#ffff54" d="M1044 1293h8v8h-8zM1052 1293h8v8h-8zM1172 1293h8v8h-8zM1180 1293h8v8h-8zM1188 1293h8v8h-8zM1004 1301h8v8h-8zM1012 1301h8v8h-8zM1220 1301h8v8h-8zM1228 1301h8v8h-8zM980 1309h8v8h-8zM932 1333h8v8h-8zM900 1357h8v8h-8zM892 1365h8v8h-8zM884 1373h8v8h-8z"/><path fill="#ffff53" d="M1060 1293h8v8h-8zM1068 1293h8v8h-8zM1076 1293h8v8h-8zM1084 1293h8v8h-8zM1132 1293h8v8h-8zM1140 1293h8v8h-8zM1148 1293h8v8h-8zM1156 1293h8v8h-8zM1164 1293h8v8h-8zM1020 1301h8v8h-8zM1204 1301h8v8h-8zM1212 1301h8v8h-8zM988 1309h8v8h-8zM964 1317h8v8h-8zM948 1325h8v8h-8zM924 1341h8v8h-8zM868 1397h8v8h-8zM860 1413h8v8h-8zM860 1421h8v8h-8z"/><path fill="#ffff52" d="M1092 1293h8v8h-8zM1100 1293h8v8h-8zM1108 1293h8v8h-8zM1116 1293h8v8h-8zM1124 1293h8v8h-8zM1028 1301h8v8h-8zM1036 1301h8v8h-8zM1180 1301h8v8h-8zM1188 1301h8v8h-8zM1196 1301h8v8h-8zM996 1309h8v8h-8zM1228 1309h8v8h-8zM972 1317h8v8h-8zM940 1333h8v8h-8zM916 1349h8v8h-8zM876 1389h8v8h-8zM868 1429h8v8h-8zM868 1437h8v8h-8zM868 1445h8v8h-8zM868 1453h8v8h-8zM868 1461h8v8h-8zM868 1469h8v8h-8zM868 1477h8v8h-8zM868 1485h8v8h-8z"/><path fill="#ffff51" d="M1044 1301h8v8h-8zM1052 1301h8v8h-8zM1156 1301h8v8h-8zM1164 1301h8v8h-8zM1172 1301h8v8h-8zM1004 1309h8v8h-8zM1212 1309h8v8h-8zM1220 1309h8v8h-8zM980 1317h8v8h-8zM956 1325h8v8h-8zM908 1357h8v8h-8zM884 1381h8v8h-8zM868 1405h8v8h-8zM868 1421h8v8h-8z"/><path fill="#ffff50" d="M1060 1301h8v8h-8zM1068 1301h8v8h-8zM1076 1301h8v8h-8zM1084 1301h8v8h-8zM1092 1301h8v8h-8zM1116 1301h8v8h-8zM1124 1301h8v8h-8zM1132 1301h8v8h-8zM1140 1301h8v8h-8zM1148 1301h8v8h-8zM1012 1309h8v8h-8zM1020 1309h8v8h-8zM1196 1309h8v8h-8zM1204 1309h8v8h-8zM988 1317h8v8h-8zM1228 1317h8v8h-8zM964 1325h8v8h-8zM948 1333h8v8h-8zM932 1341h8v8h-8zM900 1365h8v8h-8zM892 1373h8v8h-8zM852 1421h8v8h-8zM852 1429h8v8h-8zM852 1437h8v8h-8z"/><path fill="#ffff4f" d="M1100 1301h8v8h-8zM1108 1301h8v8h-8zM1028 1309h8v8h-8zM1172 1309h8v8h-8zM1180 1309h8v8h-8zM1188 1309h8v8h-8zM996 1317h8v8h-8zM1220 1317h8v8h-8zM924 1349h8v8h-8zM868 1413h8v8h-8z"/><path fill="#ffff4e" d="M1036 1309h8v8h-8zM1044 1309h8v8h-8zM1156 1309h8v8h-8zM1164 1309h8v8h-8zM1004 1317h8v8h-8zM1204 1317h8v8h-8zM1212 1317h8v8h-8zM972 1325h8v8h-8zM956 1333h8v8h-8zM940 1341h8v8h-8zM916 1357h8v8h-8zM876 1397h8v8h-8z"/><path fill="#ffff4d" d="M1052 1309h8v8h-8zM1060 1309h8v8h-8zM1068 1309h8v8h-8zM1076 1309h8v8h-8zM1116 1309h8v8h-8zM1124 1309h8v8h-8zM1132 1309h8v8h-8zM1140 1309h8v8h-8zM1148 1309h8v8h-8zM1012 1317h8v8h-8zM1188 1317h8v8h-8zM1196 1317h8v8h-8zM980 1325h8v8h-8zM1228 1325h8v8h-8zM908 1365h8v8h-8zM900 1373h8v8h-8zM884 1389h8v8h-8z"/><path fill="#ffff4c" d="M1084 1309h8v8h-8zM1092 1309h8v8h-8zM1100 1309h8v8h-8zM1108 1309h8v8h-8zM1020 1317h8v8h-8zM1172 1317h8v8h-8zM1180 1317h8v8h-8zM988 1325h8v8h-8zM1212 1325h8v8h-8zM1220 1325h8v8h-8zM964 1333h8v8h-8zM948 1341h8v8h-8zM932 1349h8v8h-8zM892 1381h8v8h-8z"/><path fill="#ffff4b" d="M1028 1317h8v8h-8zM1036 1317h8v8h-8zM1148 1317h8v8h-8zM1156 1317h8v8h-8zM1164 1317h8v8h-8zM996 1325h8v8h-8zM1196 1325h8v8h-8zM1204 1325h8v8h-8zM972 1333h8v8h-8zM1228 1333h8v8h-8zM924 1357h8v8h-8zM876 1405h8v8h-8z"/><path fill="#ffff4a" d="M1044 1317h8v8h-8zM1052 1317h8v8h-8zM1060 1317h8v8h-8zM1116 1317h8v8h-8zM1124 1317h8v8h-8zM1132 1317h8v8h-8zM1140 1317h8v8h-8zM1004 1325h8v8h-8zM1180 1325h8v8h-8zM1188 1325h8v8h-8zM1220 1333h8v8h-8zM956 1341h8v8h-8zM940 1349h8v8h-8zM916 1365h8v8h-8z"/><path fill="#ffff49" d="M1068 1317h8v8h-8zM1076 1317h8v8h-8zM1084 1317h8v8h-8zM1092 1317h8v8h-8zM1100 1317h8v8h-8zM1108 1317h8v8h-8zM1012 1325h8v8h-8zM1164 1325h8v8h-8zM1172 1325h8v8h-8zM980 1333h8v8h-8zM1204 1333h8v8h-8zM1212 1333h8v8h-8zM908 1373h8v8h-8zM884 1397h8v8h-8z"/><path fill="#ffff48" d="M1020 1325h8v8h-8zM1028 1325h8v8h-8zM1148 1325h8v8h-8zM1156 1325h8v8h-8zM988 1333h8v8h-8zM1196 1333h8v8h-8zM964 1341h8v8h-8zM1228 1341h8v8h-8zM948 1349h8v8h-8zM932 1357h8v8h-8zM900 1381h8v8h-8zM892 1389h8v8h-8zM876 1413h8v8h-8z"/><path fill="#ffff47" d="M1036 1325h8v8h-8zM1044 1325h8v8h-8zM1124 1325h8v8h-8zM1132 1325h8v8h-8zM1140 1325h8v8h-8zM996 1333h8v8h-8zM1180 1333h8v8h-8zM1188 1333h8v8h-8zM972 1341h8v8h-8zM1212 1341h8v8h-8zM1220 1341h8v8h-8zM924 1365h8v8h-8z"/><path fill="#ffff46" d="M1052 1325h8v8h-8zM1060 1325h8v8h-8zM1068 1325h8v8h-8zM1076 1325h8v8h-8zM1084 1325h8v8h-8zM1092 1325h8v8h-8zM1100 1325h8v8h-8zM1108 1325h8v8h-8zM1116 1325h8v8h-8zM1004 1333h8v8h-8zM1164 1333h8v8h-8zM1172 1333h8v8h-8zM1204 1341h8v8h-8zM956 1349h8v8h-8zM1228 1349h8v8h-8zM940 1357h8v8h-8z"/><path fill="#ffff45" d="M1012 1333h8v8h-8zM1020 1333h8v8h-8zM1148 1333h8v8h-8zM1156 1333h8v8h-8zM980 1341h8v8h-8zM1188 1341h8v8h-8zM1196 1341h8v8h-8zM1220 1349h8v8h-8zM916 1373h8v8h-8zM876 1421h8v8h-8zM876 1429h8v8h-8zM876 1437h8v8h-8zM876 1445h8v8h-8zM876 1453h8v8h-8zM876 1461h8v8h-8zM876 1469h8v8h-8zM876 1477h8v8h-8zM876 1485h8v8h-8z"/><path fill="#ffff44" d="M1028 1333h8v8h-8zM1132 1333h8v8h-8zM1140 1333h8v8h-8zM988 1341h8v8h-8zM1180 1341h8v8h-8zM964 1349h8v8h-8zM1212 1349h8v8h-8zM948 1357h8v8h-8zM932 1365h8v8h-8zM908 1381h8v8h-8zM900 1389h8v8h-8zM892 1397h8v8h-8zM884 1405h8v8h-8z"/><path fill="#ffff43" d="M1036 1333h8v8h-8zM1044 1333h8v8h-8zM1052 1333h8v8h-8zM1060 1333h8v8h-8zM1100 1333h8v8h-8zM1108 1333h8v8h-8zM1116 1333h8v8h-8zM1124 1333h8v8h-8zM996 1341h8v8h-8zM1164 1341h8v8h-8zM1172 1341h8v8h-8zM972 1349h8v8h-8zM1204 1349h8v8h-8zM1228 1357h8v8h-8z"/><path fill="#ffff42" d="M1068 1333h8v8h-8zM1076 1333h8v8h-8zM1084 1333h8v8h-8zM1092 1333h8v8h-8zM1004 1341h8v8h-8zM1156 1341h8v8h-8zM1188 1349h8v8h-8zM1196 1349h8v8h-8zM956 1357h8v8h-8zM1220 1357h8v8h-8zM924 1373h8v8h-8z"/><path fill="#ffff41" d="M1012 1341h8v8h-8zM1020 1341h8v8h-8zM1140 1341h8v8h-8zM1148 1341h8v8h-8zM980 1349h8v8h-8zM1180 1349h8v8h-8zM1212 1357h8v8h-8zM940 1365h8v8h-8zM916 1381h8v8h-8z"/><path fill="#ffff40" d="M1028 1341h8v8h-8zM1036 1341h8v8h-8zM1116 1341h8v8h-8zM1124 1341h8v8h-8zM1132 1341h8v8h-8zM988 1349h8v8h-8zM1164 1349h8v8h-8zM1172 1349h8v8h-8zM964 1357h8v8h-8zM1196 1357h8v8h-8zM1204 1357h8v8h-8zM1228 1365h8v8h-8zM908 1389h8v8h-8z"/><path fill="#ffff3f" d="M1044 1341h8v8h-8zM1052 1341h8v8h-8zM1060 1341h8v8h-8zM1068 1341h8v8h-8zM1076 1341h8v8h-8zM1084 1341h8v8h-8zM1092 1341h8v8h-8zM1100 1341h8v8h-8zM1108 1341h8v8h-8zM996 1349h8v8h-8zM1156 1349h8v8h-8zM1188 1357h8v8h-8zM948 1365h8v8h-8zM1220 1365h8v8h-8zM932 1373h8v8h-8zM900 1397h8v8h-8zM884 1413h8v8h-8z"/><path fill="#ffff3e" d="M1004 1349h8v8h-8zM1140 1349h8v8h-8zM1148 1349h8v8h-8zM972 1357h8v8h-8zM1180 1357h8v8h-8zM1204 1365h8v8h-8zM1212 1365h8v8h-8zM1228 1373h8v8h-8zM892 1405h8v8h-8z"/><path fill="#ffff3d" d="M1012 1349h8v8h-8zM1124 1349h8v8h-8zM1132 1349h8v8h-8zM980 1357h8v8h-8zM1172 1357h8v8h-8zM956 1365h8v8h-8zM1196 1365h8v8h-8zM940 1373h8v8h-8zM1220 1373h8v8h-8zM924 1381h8v8h-8z"/><path fill="#ffff3c" d="M1020 1349h8v8h-8zM1028 1349h8v8h-8zM1108 1349h8v8h-8zM1116 1349h8v8h-8zM1156 1357h8v8h-8zM1164 1357h8v8h-8zM1188 1365h8v8h-8zM1212 1373h8v8h-8zM916 1389h8v8h-8z"/><path fill="#ffff3b" d="M1036 1349h8v8h-8zM1044 1349h8v8h-8zM1052 1349h8v8h-8zM1060 1349h8v8h-8zM1068 1349h8v8h-8zM1076 1349h8v8h-8zM1084 1349h8v8h-8zM1092 1349h8v8h-8zM1100 1349h8v8h-8zM988 1357h8v8h-8zM1148 1357h8v8h-8zM964 1365h8v8h-8zM1180 1365h8v8h-8zM1204 1373h8v8h-8zM1228 1381h8v8h-8z"/><path fill="#ffff3a" d="M996 1357h8v8h-8zM1132 1357h8v8h-8zM1140 1357h8v8h-8zM1172 1365h8v8h-8zM948 1373h8v8h-8zM1196 1373h8v8h-8zM932 1381h8v8h-8zM1220 1381h8v8h-8zM908 1397h8v8h-8z"/><path fill="#ffff39" d="M1004 1357h8v8h-8zM1012 1357h8v8h-8zM1116 1357h8v8h-8zM1124 1357h8v8h-8zM972 1365h8v8h-8zM1164 1365h8v8h-8zM1188 1373h8v8h-8zM1212 1381h8v8h-8zM900 1405h8v8h-8z"/><path fill="#ffff38" d="M1020 1357h8v8h-8zM1100 1357h8v8h-8zM1108 1357h8v8h-8zM980 1365h8v8h-8zM1148 1365h8v8h-8zM1156 1365h8v8h-8zM956 1373h8v8h-8zM1180 1373h8v8h-8zM1204 1381h8v8h-8zM924 1389h8v8h-8zM1228 1389h8v8h-8zM892 1413h8v8h-8z"/><path fill="#ffff37" d="M1028 1357h8v8h-8zM1036 1357h8v8h-8zM1044 1357h8v8h-8zM1052 1357h8v8h-8zM1060 1357h8v8h-8zM1068 1357h8v8h-8zM1076 1357h8v8h-8zM1084 1357h8v8h-8zM1092 1357h8v8h-8zM988 1365h8v8h-8zM1140 1365h8v8h-8zM1172 1373h8v8h-8zM940 1381h8v8h-8zM1196 1381h8v8h-8zM1220 1389h8v8h-8zM884 1421h8v8h-8z"/><path fill="#ffff36" d="M996 1365h8v8h-8zM1132 1365h8v8h-8zM964 1373h8v8h-8zM1164 1373h8v8h-8zM1188 1381h8v8h-8zM1212 1389h8v8h-8zM916 1397h8v8h-8zM884 1429h8v8h-8zM884 1437h8v8h-8zM884 1445h8v8h-8zM884 1453h8v8h-8zM884 1461h8v8h-8z"/><path fill="#ffff35" d="M1004 1365h8v8h-8zM1116 1365h8v8h-8zM1124 1365h8v8h-8zM1156 1373h8v8h-8zM948 1381h8v8h-8zM1180 1381h8v8h-8zM932 1389h8v8h-8zM1204 1389h8v8h-8zM1228 1397h8v8h-8z"/><path fill="#ffff34" d="M1012 1365h8v8h-8zM1100 1365h8v8h-8zM1108 1365h8v8h-8zM972 1373h8v8h-8zM1148 1373h8v8h-8zM1220 1397h8v8h-8zM908 1405h8v8h-8z"/><path fill="#ffff33" d="M1020 1365h8v8h-8zM1028 1365h8v8h-8zM1036 1365h8v8h-8zM1076 1365h8v8h-8zM1084 1365h8v8h-8zM1092 1365h8v8h-8zM980 1373h8v8h-8zM1140 1373h8v8h-8zM956 1381h8v8h-8zM1172 1381h8v8h-8zM1196 1389h8v8h-8zM1212 1397h8v8h-8zM900 1413h8v8h-8z"/><path fill="#ffff32" d="M1044 1365h8v8h-8zM1052 1365h8v8h-8zM1060 1365h8v8h-8zM1068 1365h8v8h-8zM988 1373h8v8h-8zM1124 1373h8v8h-8zM1132 1373h8v8h-8zM1164 1381h8v8h-8zM940 1389h8v8h-8zM1188 1389h8v8h-8zM924 1397h8v8h-8zM1204 1397h8v8h-8zM1228 1405h8v8h-8z"/><path fill="#ffff31" d="M996 1373h8v8h-8zM1116 1373h8v8h-8zM964 1381h8v8h-8zM1156 1381h8v8h-8zM1180 1389h8v8h-8zM1220 1405h8v8h-8z"/><path fill="#ffff30" d="M1004 1373h8v8h-8zM1100 1373h8v8h-8zM1108 1373h8v8h-8zM1140 1381h8v8h-8zM1148 1381h8v8h-8zM1172 1389h8v8h-8zM1196 1397h8v8h-8zM916 1405h8v8h-8zM1212 1405h8v8h-8zM884 1469h8v8h-8z"/><path fill="#ffff2f" d="M1012 1373h8v8h-8zM1084 1373h8v8h-8zM1092 1373h8v8h-8zM972 1381h8v8h-8zM1132 1381h8v8h-8zM948 1389h8v8h-8zM1164 1389h8v8h-8zM932 1397h8v8h-8zM1188 1397h8v8h-8zM1228 1413h8v8h-8z"/><path fill="#ffff2e" d="M1020 1373h8v8h-8zM1028 1373h8v8h-8zM1036 1373h8v8h-8zM1044 1373h8v8h-8zM1052 1373h8v8h-8zM1060 1373h8v8h-8zM1068 1373h8v8h-8zM1076 1373h8v8h-8zM980 1381h8v8h-8zM1124 1381h8v8h-8zM1156 1389h8v8h-8zM1180 1397h8v8h-8zM1204 1405h8v8h-8zM908 1413h8v8h-8zM1220 1413h8v8h-8zM892 1421h8v8h-8zM884 1477h8v8h-8z"/><path fill="#ffff2c" d="M988 1381h8v8h-8zM1108 1381h8v8h-8zM1140 1389h8v8h-8zM940 1397h8v8h-8zM924 1405h8v8h-8zM1188 1405h8v8h-8zM900 1421h8v8h-8zM892 1437h8v8h-8zM892 1445h8v8h-8zM892 1453h8v8h-8zM892 1461h8v8h-8zM892 1469h8v8h-8zM892 1477h8v8h-8zM884 1485h8v8h-8zM892 1485h8v8h-8z"/><path fill="#ffff2b" d="M996 1381h8v8h-8zM1092 1381h8v8h-8zM1100 1381h8v8h-8zM964 1389h8v8h-8zM1132 1389h8v8h-8zM1164 1397h8v8h-8zM1204 1413h8v8h-8zM1220 1421h8v8h-8zM900 1429h8v8h-8zM900 1437h8v8h-8zM900 1445h8v8h-8z"/><path fill="#ffff2a" d="M1004 1381h8v8h-8zM1012 1381h8v8h-8zM1076 1381h8v8h-8zM1084 1381h8v8h-8zM1124 1389h8v8h-8zM1156 1397h8v8h-8zM1180 1405h8v8h-8zM1196 1413h8v8h-8zM1212 1421h8v8h-8zM1228 1429h8v8h-8zM900 1453h8v8h-8zM900 1461h8v8h-8z"/><path fill="#ffff29" d="M1020 1381h8v8h-8zM1028 1381h8v8h-8zM1036 1381h8v8h-8zM1044 1381h8v8h-8zM1052 1381h8v8h-8zM1060 1381h8v8h-8zM1068 1381h8v8h-8zM972 1389h8v8h-8zM1116 1389h8v8h-8zM948 1397h8v8h-8zM1148 1397h8v8h-8zM932 1405h8v8h-8zM1172 1405h8v8h-8zM916 1413h8v8h-8z"/><path fill="#ffff2d" d="M1116 1381h8v8h-8zM956 1389h8v8h-8zM1148 1389h8v8h-8zM1172 1397h8v8h-8zM1196 1405h8v8h-8zM1212 1413h8v8h-8zM1228 1421h8v8h-8zM892 1429h8v8h-8z"/><path fill="#ffff28" d="M980 1389h8v8h-8zM1108 1389h8v8h-8zM1140 1397h8v8h-8zM1164 1405h8v8h-8zM1188 1413h8v8h-8zM1204 1421h8v8h-8zM1220 1429h8v8h-8z"/><path fill="#ffff27" d="M988 1389h8v8h-8zM1092 1389h8v8h-8zM1100 1389h8v8h-8zM956 1397h8v8h-8zM1132 1397h8v8h-8zM1156 1405h8v8h-8zM1180 1413h8v8h-8zM908 1421h8v8h-8zM1196 1421h8v8h-8zM1212 1429h8v8h-8zM1228 1437h8v8h-8z"/><path fill="#ffff26" d="M996 1389h8v8h-8zM1004 1389h8v8h-8zM1076 1389h8v8h-8zM1084 1389h8v8h-8zM964 1397h8v8h-8zM1124 1397h8v8h-8zM940 1405h8v8h-8zM1148 1405h8v8h-8zM924 1413h8v8h-8zM1172 1413h8v8h-8zM1188 1421h8v8h-8zM1204 1429h8v8h-8zM1220 1437h8v8h-8z"/><path fill="#ffff25" d="M1012 1389h8v8h-8zM1020 1389h8v8h-8zM1028 1389h8v8h-8zM1036 1389h8v8h-8zM1044 1389h8v8h-8zM1052 1389h8v8h-8zM1060 1389h8v8h-8zM1068 1389h8v8h-8zM1108 1397h8v8h-8zM1116 1397h8v8h-8zM1140 1405h8v8h-8zM1164 1413h8v8h-8zM1180 1421h8v8h-8zM1212 1437h8v8h-8zM1228 1445h8v8h-8z"/><path fill="#ffff24" d="M972 1397h8v8h-8zM1100 1397h8v8h-8zM948 1405h8v8h-8zM1132 1405h8v8h-8zM1156 1413h8v8h-8zM916 1421h8v8h-8zM1172 1421h8v8h-8zM1196 1429h8v8h-8z"/><path fill="#ffff23" d="M980 1397h8v8h-8zM988 1397h8v8h-8zM1084 1397h8v8h-8zM1092 1397h8v8h-8zM1124 1405h8v8h-8zM932 1413h8v8h-8zM1148 1413h8v8h-8zM908 1429h8v8h-8zM1188 1429h8v8h-8zM1204 1437h8v8h-8zM1220 1445h8v8h-8zM1228 1453h8v8h-8z"/><path fill="#ffff22" d="M996 1397h8v8h-8zM1068 1397h8v8h-8zM1076 1397h8v8h-8zM956 1405h8v8h-8zM1116 1405h8v8h-8zM1140 1413h8v8h-8zM1164 1421h8v8h-8zM1180 1429h8v8h-8zM1196 1437h8v8h-8zM1212 1445h8v8h-8z"/><path fill="#ffff21" d="M1004 1397h8v8h-8zM1012 1397h8v8h-8zM1020 1397h8v8h-8zM1028 1397h8v8h-8zM1036 1397h8v8h-8zM1044 1397h8v8h-8zM1052 1397h8v8h-8zM1060 1397h8v8h-8zM964 1405h8v8h-8zM1100 1405h8v8h-8zM1108 1405h8v8h-8zM940 1413h8v8h-8zM1132 1413h8v8h-8zM924 1421h8v8h-8zM1156 1421h8v8h-8zM1172 1429h8v8h-8zM908 1437h8v8h-8zM1188 1437h8v8h-8zM1204 1445h8v8h-8zM1220 1453h8v8h-8z"/><path fill="#ffff20" d="M972 1405h8v8h-8zM1092 1405h8v8h-8zM1124 1413h8v8h-8zM1148 1421h8v8h-8zM1164 1429h8v8h-8zM908 1445h8v8h-8zM1196 1445h8v8h-8zM908 1453h8v8h-8zM1212 1453h8v8h-8zM908 1461h8v8h-8zM1228 1461h8v8h-8zM900 1469h8v8h-8zM908 1469h8v8h-8zM900 1477h8v8h-8zM900 1485h8v8h-8zM900 1493h8v8h-8z"/><path fill="#ffff1f" d="M980 1405h8v8h-8zM1084 1405h8v8h-8zM948 1413h8v8h-8zM1116 1413h8v8h-8zM1140 1421h8v8h-8zM1180 1437h8v8h-8zM1220 1461h8v8h-8z"/><path fill="#ffff1e" d="M988 1405h8v8h-8zM1068 1405h8v8h-8zM1076 1405h8v8h-8zM1108 1413h8v8h-8zM932 1421h8v8h-8zM1132 1421h8v8h-8zM916 1429h8v8h-8zM1156 1429h8v8h-8zM916 1437h8v8h-8zM1172 1437h8v8h-8zM1188 1445h8v8h-8zM1204 1453h8v8h-8zM1228 1469h8v8h-8zM908 1477h8v8h-8z"/><path fill="#ffff1d" d="M996 1405h8v8h-8zM1004 1405h8v8h-8zM1044 1405h8v8h-8zM1052 1405h8v8h-8zM1060 1405h8v8h-8zM956 1413h8v8h-8zM1100 1413h8v8h-8zM1124 1421h8v8h-8zM1148 1429h8v8h-8zM1164 1437h8v8h-8zM916 1445h8v8h-8zM1180 1445h8v8h-8zM1196 1453h8v8h-8zM1212 1461h8v8h-8zM1220 1469h8v8h-8z"/><path fill="#ffff1c" d="M1012 1405h8v8h-8zM1020 1405h8v8h-8zM1028 1405h8v8h-8zM1036 1405h8v8h-8zM964 1413h8v8h-8zM1092 1413h8v8h-8zM940 1421h8v8h-8zM1116 1421h8v8h-8zM924 1429h8v8h-8zM1140 1429h8v8h-8zM1188 1453h8v8h-8zM1204 1461h8v8h-8zM1228 1477h8v8h-8z"/><path fill="#ffff1b" d="M972 1413h8v8h-8zM1076 1413h8v8h-8zM1084 1413h8v8h-8zM1108 1421h8v8h-8zM1132 1429h8v8h-8zM1156 1437h8v8h-8zM1172 1445h8v8h-8zM916 1453h8v8h-8zM1212 1469h8v8h-8zM908 1485h8v8h-8z"/><path fill="#ffff1a" d="M980 1413h8v8h-8zM1068 1413h8v8h-8zM1148 1437h8v8h-8zM1164 1445h8v8h-8zM1180 1453h8v8h-8zM1196 1461h8v8h-8zM1220 1477h8v8h-8zM1228 1485h8v8h-8z"/><path fill="#ffff19" d="M988 1413h8v8h-8zM1052 1413h8v8h-8zM1060 1413h8v8h-8zM948 1421h8v8h-8zM1100 1421h8v8h-8zM932 1429h8v8h-8zM1124 1429h8v8h-8zM1140 1437h8v8h-8zM1172 1453h8v8h-8zM916 1461h8v8h-8zM1188 1461h8v8h-8zM916 1469h8v8h-8zM1204 1469h8v8h-8zM1212 1477h8v8h-8zM908 1493h8v8h-8z"/><path fill="#ffff18" d="M996 1413h8v8h-8zM1004 1413h8v8h-8zM1012 1413h8v8h-8zM1028 1413h8v8h-8zM1036 1413h8v8h-8zM1044 1413h8v8h-8zM956 1421h8v8h-8zM1092 1421h8v8h-8zM1116 1429h8v8h-8zM924 1437h8v8h-8zM924 1445h8v8h-8zM1156 1445h8v8h-8zM924 1453h8v8h-8zM1196 1469h8v8h-8zM1220 1485h8v8h-8z"/><path fill="#ffff17" d="M1020 1413h8v8h-8zM1076 1421h8v8h-8zM1084 1421h8v8h-8zM1108 1429h8v8h-8zM1132 1437h8v8h-8zM1148 1445h8v8h-8zM1164 1453h8v8h-8zM1180 1461h8v8h-8zM916 1477h8v8h-8zM1204 1477h8v8h-8zM1228 1493h8v8h-8z"/><path fill="#ffff16" d="M964 1421h8v8h-8zM1068 1421h8v8h-8zM940 1429h8v8h-8zM1100 1429h8v8h-8zM1124 1437h8v8h-8zM1172 1461h8v8h-8zM1188 1469h8v8h-8zM1212 1485h8v8h-8zM1220 1493h8v8h-8z"/><path fill="#ffff15" d="M972 1421h8v8h-8zM1060 1421h8v8h-8zM1092 1429h8v8h-8zM932 1437h8v8h-8zM1116 1437h8v8h-8zM1140 1445h8v8h-8zM1156 1453h8v8h-8zM1180 1469h8v8h-8zM1196 1477h8v8h-8zM1204 1485h8v8h-8zM1228 1501h8v8h-8z"/><path fill="#ffff14" d="M980 1421h8v8h-8zM1044 1421h8v8h-8zM1052 1421h8v8h-8zM932 1445h8v8h-8zM1132 1445h8v8h-8zM932 1453h8v8h-8zM1148 1453h8v8h-8zM924 1461h8v8h-8zM1164 1461h8v8h-8zM924 1469h8v8h-8zM924 1477h8v8h-8zM1188 1477h8v8h-8zM916 1485h8v8h-8zM916 1493h8v8h-8zM1212 1493h8v8h-8z"/><path fill="#ffff13" d="M988 1421h8v8h-8zM996 1421h8v8h-8zM1028 1421h8v8h-8zM1036 1421h8v8h-8zM948 1429h8v8h-8zM1084 1429h8v8h-8zM1108 1437h8v8h-8zM1172 1469h8v8h-8zM1196 1485h8v8h-8zM1220 1501h8v8h-8zM1228 1509h8v8h-8z"/><path fill="#ffff12" d="M1004 1421h8v8h-8zM1012 1421h8v8h-8zM1020 1421h8v8h-8zM1076 1429h8v8h-8zM940 1437h8v8h-8zM1100 1437h8v8h-8zM1124 1445h8v8h-8zM1140 1453h8v8h-8zM1156 1461h8v8h-8zM1180 1477h8v8h-8zM924 1485h8v8h-8zM1204 1493h8v8h-8zM1212 1501h8v8h-8z"/><path fill="#ffff11" d="M956 1429h8v8h-8zM1068 1429h8v8h-8zM1116 1445h8v8h-8zM1148 1461h8v8h-8zM1164 1469h8v8h-8zM1188 1485h8v8h-8zM1220 1509h8v8h-8zM1228 1517h8v8h-8z"/><path fill="#ffff10" d="M964 1429h8v8h-8zM1060 1429h8v8h-8zM1092 1437h8v8h-8zM1132 1453h8v8h-8zM1172 1477h8v8h-8zM1196 1493h8v8h-8zM1204 1501h8v8h-8z"/><path fill="#ffff0f" d="M972 1429h8v8h-8zM1044 1429h8v8h-8zM1052 1429h8v8h-8zM1084 1437h8v8h-8zM1108 1445h8v8h-8zM1124 1453h8v8h-8zM1140 1461h8v8h-8zM1156 1469h8v8h-8zM1180 1485h8v8h-8zM1212 1509h8v8h-8zM1220 1517h8v8h-8zM1228 1525h8v8h-8z"/><path fill="#ffff0e" d="M980 1429h8v8h-8zM988 1429h8v8h-8zM1036 1429h8v8h-8zM1076 1437h8v8h-8zM1100 1445h8v8h-8zM932 1461h8v8h-8zM1164 1477h8v8h-8zM1188 1493h8v8h-8zM1196 1501h8v8h-8z"/><path fill="#ffff0d" d="M996 1429h8v8h-8zM1004 1429h8v8h-8zM1012 1429h8v8h-8zM1020 1429h8v8h-8zM1028 1429h8v8h-8zM1068 1437h8v8h-8zM1116 1453h8v8h-8zM1132 1461h8v8h-8zM932 1469h8v8h-8zM1148 1469h8v8h-8zM1172 1485h8v8h-8zM924 1493h8v8h-8zM924 1501h8v8h-8zM1204 1509h8v8h-8zM1212 1517h8v8h-8zM1220 1525h8v8h-8z"/><path fill="#ffff0b" d="M948 1437h8v8h-8zM956 1437h8v8h-8zM1052 1437h8v8h-8zM1084 1445h8v8h-8zM1108 1453h8v8h-8zM1124 1461h8v8h-8zM940 1469h8v8h-8zM1140 1469h8v8h-8zM1164 1485h8v8h-8zM1196 1509h8v8h-8zM1204 1517h8v8h-8z"/><path fill="#ffff0a" d="M964 1437h8v8h-8zM1044 1437h8v8h-8zM1100 1453h8v8h-8zM1148 1477h8v8h-8zM1172 1493h8v8h-8zM1212 1525h8v8h-8zM1220 1533h8v8h-8zM1228 1541h8v8h-8z"/><path fill="#ffff09" d="M972 1437h8v8h-8zM1036 1437h8v8h-8zM948 1445h8v8h-8zM1076 1445h8v8h-8zM1116 1461h8v8h-8zM1132 1469h8v8h-8zM1156 1485h8v8h-8zM932 1493h8v8h-8zM1180 1501h8v8h-8zM1188 1509h8v8h-8zM1196 1517h8v8h-8z"/><path fill="#ffff08" d="M980 1437h8v8h-8zM1028 1437h8v8h-8zM1068 1445h8v8h-8zM948 1453h8v8h-8zM1092 1453h8v8h-8zM940 1477h8v8h-8zM1140 1477h8v8h-8zM1164 1493h8v8h-8zM1204 1525h8v8h-8zM1212 1533h8v8h-8zM1220 1541h8v8h-8zM1228 1549h8v8h-8z"/><path fill="#ffff07" d="M988 1437h8v8h-8zM996 1437h8v8h-8zM1004 1437h8v8h-8zM1012 1437h8v8h-8zM1020 1437h8v8h-8zM956 1445h8v8h-8zM1060 1445h8v8h-8zM956 1453h8v8h-8zM948 1461h8v8h-8zM1108 1461h8v8h-8zM948 1469h8v8h-8zM1124 1469h8v8h-8zM940 1485h8v8h-8zM1148 1485h8v8h-8zM932 1501h8v8h-8zM1172 1501h8v8h-8zM1180 1509h8v8h-8z"/><path fill="#ffff0c" d="M1060 1437h8v8h-8zM940 1445h8v8h-8zM1092 1445h8v8h-8zM940 1453h8v8h-8zM940 1461h8v8h-8zM932 1477h8v8h-8zM1156 1477h8v8h-8zM932 1485h8v8h-8zM1180 1493h8v8h-8zM1188 1501h8v8h-8zM1228 1533h8v8h-8z"/><path fill="#ffff06" d="M964 1445h8v8h-8zM1084 1453h8v8h-8zM1100 1461h8v8h-8zM1132 1477h8v8h-8zM1156 1493h8v8h-8zM1188 1517h8v8h-8zM1196 1525h8v8h-8zM1204 1533h8v8h-8zM1212 1541h8v8h-8zM1220 1549h8v8h-8zM1228 1557h8v8h-8z"/><path fill="#ffff03" d="M972 1445h8v8h-8zM1036 1445h8v8h-8zM1068 1453h8v8h-8zM1108 1469h8v8h-8zM1148 1493h8v8h-8zM1156 1501h8v8h-8z"/><path fill="#ffff01" d="M980 1445h8v8h-8zM1012 1445h8v8h-8zM1020 1445h8v8h-8zM1060 1453h8v8h-8zM964 1461h8v8h-8zM1100 1469h8v8h-8zM956 1477h8v8h-8zM1116 1477h8v8h-8zM948 1493h8v8h-8zM1140 1493h8v8h-8zM1172 1517h8v8h-8zM1180 1525h8v8h-8zM1188 1533h8v8h-8zM1196 1541h8v8h-8zM1204 1549h8v8h-8z"/><path fill="#ffff00" d="M988 1445h8v8h-8zM996 1445h8v8h-8zM1004 1445h8v8h-8zM972 1453h8v8h-8zM1052 1453h8v8h-8zM1076 1461h8v8h-8zM1108 1477h8v8h-8zM956 1485h8v8h-8zM1124 1485h8v8h-8zM948 1501h8v8h-8zM1148 1501h8v8h-8zM1156 1509h8v8h-8zM1204 1557h8v8h-8zM1212 1565h8v8h-8zM1220 1573h8v8h-8zM1228 1581h8v8h-8z"/><path fill="#ffff02" d="M1028 1445h8v8h-8zM1084 1461h8v8h-8zM1132 1485h8v8h-8zM1164 1509h8v8h-8zM1212 1557h8v8h-8zM1220 1565h8v8h-8zM1228 1573h8v8h-8z"/><path fill="#ffff04" d="M1044 1445h8v8h-8zM964 1453h8v8h-8zM1092 1461h8v8h-8zM956 1469h8v8h-8zM1124 1477h8v8h-8zM948 1485h8v8h-8zM1140 1485h8v8h-8zM940 1501h8v8h-8zM1172 1509h8v8h-8zM1180 1517h8v8h-8zM1188 1525h8v8h-8zM1196 1533h8v8h-8zM1204 1541h8v8h-8zM1212 1549h8v8h-8zM1220 1557h8v8h-8zM1228 1565h8v8h-8z"/><path fill="#ffff05" d="M1052 1445h8v8h-8zM1076 1453h8v8h-8zM956 1461h8v8h-8zM1116 1469h8v8h-8zM948 1477h8v8h-8zM940 1493h8v8h-8zM1164 1501h8v8h-8z"/><path fill="#fffc00" d="M980 1453h8v8h-8zM1012 1453h8v8h-8zM1020 1453h8v8h-8zM972 1461h8v8h-8zM1052 1461h8v8h-8zM972 1469h8v8h-8zM1076 1469h8v8h-8zM964 1477h8v8h-8zM1092 1477h8v8h-8zM1108 1485h8v8h-8zM1132 1501h8v8h-8zM1140 1509h8v8h-8zM1188 1557h8v8h-8zM1196 1565h8v8h-8zM1204 1573h8v8h-8zM1220 1597h8v8h-8zM1228 1605h8v8h-8z"/><path fill="#fffb00" d="M988 1453h8v8h-8zM996 1453h8v8h-8zM1004 1453h8v8h-8zM1044 1461h8v8h-8zM1068 1469h8v8h-8zM1084 1477h8v8h-8zM964 1485h8v8h-8zM1100 1485h8v8h-8zM1116 1493h8v8h-8zM956 1501h8v8h-8zM1124 1501h8v8h-8zM1148 1517h8v8h-8zM1156 1525h8v8h-8zM1164 1533h8v8h-8zM1172 1541h8v8h-8zM1180 1549h8v8h-8zM1196 1573h8v8h-8zM1204 1581h8v8h-8zM1212 1589h8v8h-8zM1220 1605h8v8h-8zM1228 1613h8v8h-8z"/><path fill="#fffd00" d="M1028 1453h8v8h-8zM1036 1453h8v8h-8zM1060 1461h8v8h-8zM1084 1469h8v8h-8zM1100 1477h8v8h-8zM956 1493h8v8h-8zM1124 1493h8v8h-8zM948 1509h8v8h-8zM1148 1509h8v8h-8zM1156 1517h8v8h-8zM1164 1525h8v8h-8zM1172 1533h8v8h-8zM1180 1541h8v8h-8zM1188 1549h8v8h-8zM1196 1557h8v8h-8zM1204 1565h8v8h-8zM1212 1581h8v8h-8zM1220 1589h8v8h-8zM1228 1597h8v8h-8z"/><path fill="#fffe00" d="M1044 1453h8v8h-8zM1068 1461h8v8h-8zM964 1469h8v8h-8zM1092 1469h8v8h-8zM1116 1485h8v8h-8zM1132 1493h8v8h-8zM1140 1501h8v8h-8zM1164 1517h8v8h-8zM1172 1525h8v8h-8zM1180 1533h8v8h-8zM1188 1541h8v8h-8zM1196 1549h8v8h-8zM1212 1573h8v8h-8zM1220 1581h8v8h-8zM1228 1589h8v8h-8z"/><path fill="#fff900" d="M980 1461h8v8h-8zM1020 1461h8v8h-8zM1028 1461h8v8h-8zM980 1469h8v8h-8zM1052 1469h8v8h-8zM972 1477h8v8h-8zM1076 1477h8v8h-8zM1092 1485h8v8h-8zM1116 1501h8v8h-8zM1180 1565h8v8h-8zM1188 1573h8v8h-8zM1204 1597h8v8h-8zM1212 1613h8v8h-8zM1220 1621h8v8h-8zM1228 1637h8v8h-8z"/><path fill="#fff800" d="M988 1461h8v8h-8zM1012 1461h8v8h-8zM1068 1477h8v8h-8zM1084 1485h8v8h-8zM964 1493h8v8h-8zM1100 1493h8v8h-8zM1124 1509h8v8h-8zM1132 1517h8v8h-8zM1140 1525h8v8h-8zM1148 1533h8v8h-8zM1156 1541h8v8h-8zM1164 1549h8v8h-8zM1172 1557h8v8h-8zM1188 1581h8v8h-8zM1196 1589h8v8h-8zM1204 1605h8v8h-8zM1212 1621h8v8h-8zM1220 1629h8v8h-8zM1228 1645h8v8h-8z"/><path fill="#fff700" d="M996 1461h8v8h-8zM1004 1461h8v8h-8zM988 1469h8v8h-8zM1044 1469h8v8h-8zM980 1477h8v8h-8zM1060 1477h8v8h-8zM972 1485h8v8h-8zM980 1485h8v8h-8zM972 1493h8v8h-8zM1092 1493h8v8h-8zM964 1501h8v8h-8zM1108 1501h8v8h-8zM956 1509h8v8h-8zM964 1509h8v8h-8zM1116 1509h8v8h-8zM956 1517h8v8h-8zM1164 1557h8v8h-8zM1172 1565h8v8h-8zM1180 1573h8v8h-8zM1188 1589h8v8h-8zM1196 1597h8v8h-8zM1204 1613h8v8h-8zM1212 1629h8v8h-8zM1220 1637h8v8h-8zM1220 1645h8v8h-8zM1228 1653h8v8h-8z"/><path fill="#fffa00" d="M1036 1461h8v8h-8zM1060 1469h8v8h-8zM1108 1493h8v8h-8zM1132 1509h8v8h-8zM1140 1517h8v8h-8zM1148 1525h8v8h-8zM1156 1533h8v8h-8zM1164 1541h8v8h-8zM1172 1549h8v8h-8zM1180 1557h8v8h-8zM1188 1565h8v8h-8zM1196 1581h8v8h-8zM1204 1589h8v8h-8zM1212 1597h8v8h-8zM1212 1605h8v8h-8zM1220 1613h8v8h-8zM1228 1621h8v8h-8zM1228 1629h8v8h-8z"/><path fill="#fff500" d="M996 1469h8v8h-8zM1020 1469h8v8h-8zM1052 1477h8v8h-8zM1068 1485h8v8h-8zM1084 1493h8v8h-8zM972 1501h8v8h-8zM1108 1509h8v8h-8zM1116 1517h8v8h-8zM1156 1557h8v8h-8zM1164 1565h8v8h-8zM1180 1589h8v8h-8zM1188 1605h8v8h-8zM1196 1621h8v8h-8zM1204 1629h8v8h-8zM1204 1637h8v8h-8zM1212 1645h8v8h-8zM1212 1653h8v8h-8zM1220 1661h8v8h-8zM1228 1677h8v8h-8z"/><path fill="#fff200" d="M1004 1469h8v8h-8zM996 1477h8v8h-8zM988 1485h8v8h-8zM1060 1485h8v8h-8zM980 1493h8v8h-8zM988 1493h8v8h-8zM1076 1493h8v8h-8zM980 1501h8v8h-8zM972 1509h8v8h-8zM1100 1509h8v8h-8zM964 1517h8v8h-8zM972 1517h8v8h-8zM1156 1565h8v8h-8zM1172 1589h8v8h-8zM1180 1605h8v8h-8zM1196 1637h8v8h-8zM1204 1653h8v8h-8zM1212 1669h8v8h-8zM1220 1685h8v8h-8z"/><path fill="#fff400" d="M1012 1469h8v8h-8zM1092 1501h8v8h-8zM1124 1525h8v8h-8zM1132 1533h8v8h-8zM1140 1541h8v8h-8zM1148 1549h8v8h-8zM1164 1573h8v8h-8zM1172 1581h8v8h-8zM1180 1597h8v8h-8zM1188 1613h8v8h-8zM1196 1629h8v8h-8zM1220 1669h8v8h-8zM1228 1685h8v8h-8z"/><path fill="#fff600" d="M1028 1469h8v8h-8zM1036 1469h8v8h-8zM988 1477h8v8h-8zM1076 1485h8v8h-8zM1100 1501h8v8h-8zM1124 1517h8v8h-8zM1132 1525h8v8h-8zM1140 1533h8v8h-8zM1148 1541h8v8h-8zM1156 1549h8v8h-8zM1172 1573h8v8h-8zM1180 1581h8v8h-8zM1188 1597h8v8h-8zM1196 1605h8v8h-8zM1196 1613h8v8h-8zM1204 1621h8v8h-8zM1212 1637h8v8h-8zM1220 1653h8v8h-8zM1228 1661h8v8h-8zM1228 1669h8v8h-8z"/><path fill="#fff000" d="M1004 1477h8v8h-8zM1036 1477h8v8h-8zM1108 1517h8v8h-8zM1116 1525h8v8h-8zM1140 1549h8v8h-8zM1164 1581h8v8h-8zM1196 1645h8v8h-8zM1204 1661h8v8h-8zM1212 1677h8v8h-8zM1220 1693h8v8h-8z"/><path fill="#fff100" d="M1012 1477h8v8h-8zM996 1485h8v8h-8zM1004 1485h8v8h-8zM996 1493h8v8h-8zM988 1501h8v8h-8zM980 1509h8v8h-8zM1148 1557h8v8h-8zM1188 1621h8v8h-8zM1228 1701h8v8h-8z"/><path fill="#ffee00" d="M1020 1477h8v8h-8zM1052 1485h8v8h-8zM1068 1493h8v8h-8zM1196 1653h8v8h-8zM1204 1669h8v8h-8zM1212 1685h8v8h-8zM1220 1701h8v8h-8zM1228 1717h8v8h-8z"/><path fill="#ffed00" d="M1028 1477h8v8h-8zM1092 1509h8v8h-8zM1148 1565h8v8h-8zM1164 1589h8v8h-8zM1172 1605h8v8h-8zM1180 1621h8v8h-8zM1188 1637h8v8h-8zM1204 1677h8v8h-8zM1212 1693h8v8h-8z"/><path fill="#fff300" d="M1044 1477h8v8h-8zM1204 1645h8v8h-8zM1212 1661h8v8h-8zM1220 1677h8v8h-8zM1228 1693h8v8h-8z"/><path fill="#ffef00" d="M1012 1485h8v8h-8zM1004 1493h8v8h-8zM996 1501h8v8h-8zM1084 1501h8v8h-8zM988 1509h8v8h-8zM980 1517h8v8h-8zM972 1525h8v8h-8zM1124 1533h8v8h-8zM1132 1541h8v8h-8zM1156 1573h8v8h-8zM1172 1597h8v8h-8zM1180 1613h8v8h-8zM1188 1629h8v8h-8zM1228 1709h8v8h-8z"/><path fill="#ffe800" d="M1020 1485h8v8h-8zM1012 1493h8v8h-8zM1004 1501h8v8h-8zM996 1509h8v8h-8zM1004 1509h8v8h-8zM1084 1509h8v8h-8zM988 1517h8v8h-8zM996 1517h8v8h-8zM980 1525h8v8h-8zM988 1525h8v8h-8zM980 1533h8v8h-8zM1140 1565h8v8h-8zM1156 1589h8v8h-8zM1164 1605h8v8h-8zM1172 1621h8v8h-8zM1188 1661h8v8h-8zM1204 1701h8v8h-8zM1212 1717h8v8h-8zM1228 1741h8v8h-8z"/><path fill="#ffdf00" d="M1028 1485h8v8h-8zM1020 1493h8v8h-8zM1092 1525h8v8h-8zM1116 1549h8v8h-8zM1148 1597h8v8h-8zM1164 1645h8v8h-8zM1172 1669h8v8h-8zM1180 1693h8v8h-8zM1204 1741h8v8h-8zM1220 1765h8v8h-8z"/><path fill="#ffe400" d="M1036 1485h8v8h-8zM1108 1533h8v8h-8zM1116 1541h8v8h-8zM1140 1573h8v8h-8zM1180 1661h8v8h-8zM1188 1685h8v8h-8zM1196 1701h8v8h-8zM1204 1717h8v8h-8zM1212 1733h8v8h-8zM1228 1757h8v8h-8z"/><path fill="#ffe900" d="M1044 1485h8v8h-8zM1148 1573h8v8h-8zM1180 1637h8v8h-8zM1196 1677h8v8h-8zM1204 1693h8v8h-8zM1212 1709h8v8h-8zM1220 1725h8v8h-8z"/><path fill="#ffd800" d="M1028 1493h8v8h-8zM1020 1501h8v8h-8zM1012 1509h8v8h-8zM1044 1509h8v8h-8zM1092 1533h8v8h-8zM1100 1541h8v8h-8zM1156 1661h8v8h-8zM1164 1693h8v8h-8zM1172 1717h8v8h-8zM1180 1733h8v8h-8zM1188 1749h8v8h-8zM1212 1781h8v8h-8z"/><path fill="#ffd700" d="M1036 1493h8v8h-8zM1060 1509h8v8h-8zM1036 1517h8v8h-8zM1028 1525h8v8h-8zM1020 1533h8v8h-8zM1012 1541h8v8h-8zM1124 1573h8v8h-8zM1140 1605h8v8h-8zM1148 1629h8v8h-8zM1156 1669h8v8h-8zM1164 1701h8v8h-8zM1172 1725h8v8h-8zM1180 1741h8v8h-8zM1196 1765h8v8h-8zM1204 1773h8v8h-8zM1228 1805h8v8h-8z"/><path fill="#ffe000" d="M1044 1493h8v8h-8zM1084 1517h8v8h-8zM1124 1557h8v8h-8zM1140 1581h8v8h-8zM1156 1613h8v8h-8zM1164 1637h8v8h-8zM1172 1661h8v8h-8zM1180 1685h8v8h-8zM1188 1709h8v8h-8zM1196 1725h8v8h-8zM1212 1749h8v8h-8zM1228 1773h8v8h-8z"/><path fill="#ffe500" d="M1052 1493h8v8h-8zM1012 1501h8v8h-8zM1100 1525h8v8h-8zM1124 1549h8v8h-8zM1156 1597h8v8h-8zM1172 1637h8v8h-8zM1188 1677h8v8h-8zM1220 1741h8v8h-8z"/><path fill="#ffea00" d="M1060 1493h8v8h-8zM1076 1501h8v8h-8zM1108 1525h8v8h-8zM1116 1533h8v8h-8zM1124 1541h8v8h-8zM1188 1653h8v8h-8zM1228 1733h8v8h-8z"/><path fill="#ffd500" d="M1028 1501h8v8h-8zM1036 1501h8v8h-8zM1020 1509h8v8h-8zM1156 1685h8v8h-8zM1164 1717h8v8h-8zM1172 1733h8v8h-8zM1180 1749h8v8h-8zM1204 1781h8v8h-8zM1228 1813h8v8h-8z"/><path fill="#ffd900" d="M1044 1501h8v8h-8zM1084 1525h8v8h-8zM1108 1549h8v8h-8zM1140 1597h8v8h-8zM1148 1621h8v8h-8zM1156 1653h8v8h-8zM1164 1685h8v8h-8zM1172 1709h8v8h-8zM1196 1757h8v8h-8zM1204 1765h8v8h-8zM1220 1789h8v8h-8z"/><path fill="#ffdd00" d="M1052 1501h8v8h-8zM1068 1509h8v8h-8zM1132 1573h8v8h-8zM1148 1605h8v8h-8zM1164 1653h8v8h-8zM1172 1685h8v8h-8zM1180 1709h8v8h-8zM1188 1725h8v8h-8zM1204 1749h8v8h-8zM1220 1773h8v8h-8z"/><path fill="#ffe100" d="M1060 1501h8v8h-8zM1188 1701h8v8h-8zM1196 1717h8v8h-8zM1204 1733h8v8h-8zM1220 1757h8v8h-8z"/><path fill="#ffe600" d="M1068 1501h8v8h-8zM1092 1517h8v8h-8zM988 1533h8v8h-8zM1132 1557h8v8h-8zM1148 1581h8v8h-8zM1164 1613h8v8h-8zM1172 1629h8v8h-8zM1180 1653h8v8h-8zM1196 1693h8v8h-8zM1204 1709h8v8h-8zM1212 1725h8v8h-8zM1228 1749h8v8h-8z"/><path fill="#ffd600" d="M1028 1509h8v8h-8zM1036 1509h8v8h-8zM1012 1517h8v8h-8zM1020 1517h8v8h-8zM1028 1517h8v8h-8zM1004 1525h8v8h-8zM1012 1525h8v8h-8zM1020 1525h8v8h-8zM996 1533h8v8h-8zM1004 1533h8v8h-8zM1012 1533h8v8h-8zM988 1541h8v8h-8zM996 1541h8v8h-8zM1004 1541h8v8h-8zM996 1549h8v8h-8zM1132 1589h8v8h-8zM1148 1637h8v8h-8zM1156 1677h8v8h-8zM1164 1709h8v8h-8zM1188 1757h8v8h-8zM1212 1789h8v8h-8zM1220 1797h8v8h-8z"/><path fill="#ffd300" d="M1052 1509h8v8h-8zM1068 1517h8v8h-8zM1108 1557h8v8h-8zM1148 1661h8v8h-8zM1156 1709h8v8h-8zM1180 1757h8v8h-8zM1212 1797h8v8h-8z"/><path fill="#ffe200" d="M1076 1509h8v8h-8zM1132 1565h8v8h-8zM1148 1589h8v8h-8zM1164 1629h8v8h-8zM1172 1653h8v8h-8zM1180 1677h8v8h-8zM1212 1741h8v8h-8zM1228 1765h8v8h-8z"/><path fill="#ffdb00" d="M1004 1517h8v8h-8zM1124 1565h8v8h-8zM1148 1613h8v8h-8zM1156 1637h8v8h-8zM1164 1669h8v8h-8zM1172 1701h8v8h-8zM1180 1717h8v8h-8zM1188 1733h8v8h-8zM1196 1749h8v8h-8zM1204 1757h8v8h-8zM1220 1781h8v8h-8z"/><path fill="#ffcf00" d="M1044 1517h8v8h-8zM1116 1573h8v8h-8zM1132 1605h8v8h-8zM1140 1645h8v8h-8zM1148 1717h8v8h-8zM1164 1749h8v8h-8zM1188 1781h8v8h-8zM1196 1789h8v8h-8zM1228 1829h8v8h-8zM244 2261h8v8h-8zM244 2269h8v8h-8zM244 2277h8v8h-8zM244 2285h8v8h-8zM252 2285h8v8h-8zM244 2293h8v8h-8zM252 2293h8v8h-8zM244 2301h8v8h-8zM252 2301h8v8h-8zM252 2309h8v8h-8zM260 2309h8v8h-8zM252 2317h8v8h-8zM260 2317h8v8h-8zM260 2325h8v8h-8zM268 2325h8v8h-8zM260 2333h8v8h-8zM268 2333h8v8h-8zM268 2341h8v8h-8zM276 2341h8v8h-8zM268 2349h8v8h-8zM276 2349h8v8h-8z"/><path fill="#ffc900" d="M1052 1517h8v8h-8zM1076 1533h8v8h-8zM1132 1637h8v8h-8zM1132 1645h8v8h-8zM1132 1653h8v8h-8zM1132 1693h8v8h-8zM1132 1701h8v8h-8zM1132 1709h8v8h-8zM1132 1717h8v8h-8zM1132 1725h8v8h-8zM1132 1733h8v8h-8zM1148 1757h8v8h-8zM1156 1765h8v8h-8zM1164 1773h8v8h-8zM1172 1781h8v8h-8zM1180 1789h8v8h-8zM1220 1837h8v8h-8zM300 2085h8v8h-8zM300 2093h8v8h-8zM300 2101h8v8h-8zM300 2109h8v8h-8zM300 2117h8v8h-8zM300 2125h8v8h-8zM300 2133h8v8h-8zM300 2141h8v8h-8zM300 2149h8v8h-8zM300 2157h8v8h-8zM300 2165h8v8h-8zM300 2173h8v8h-8zM300 2181h8v8h-8zM308 2181h8v8h-8zM300 2189h8v8h-8zM308 2189h8v8h-8zM300 2197h8v8h-8zM308 2197h8v8h-8zM300 2205h8v8h-8zM308 2205h8v8h-8zM308 2213h8v8h-8zM308 2221h8v8h-8zM308 2229h8v8h-8zM316 2229h8v8h-8zM308 2237h8v8h-8zM316 2237h8v8h-8zM308 2245h8v8h-8zM316 2245h8v8h-8zM316 2253h8v8h-8zM316 2261h8v8h-8zM324 2261h8v8h-8zM316 2269h8v8h-8zM324 2269h8v8h-8zM324 2277h8v8h-8zM324 2285h8v8h-8zM332 2285h8v8h-8zM324 2293h8v8h-8zM332 2293h8v8h-8zM332 2301h8v8h-8zM332 2309h8v8h-8zM340 2309h8v8h-8zM340 2317h8v8h-8zM340 2325h8v8h-8zM348 2325h8v8h-8zM348 2333h8v8h-8zM348 2341h8v8h-8zM356 2341h8v8h-8zM1220 2341h8v8h-8zM356 2349h8v8h-8zM364 2349h8v8h-8z"/><path fill="#ffcc00" d="M1060 1517h8v8h-8zM1140 1709h8v8h-8zM1140 1717h8v8h-8zM1148 1741h8v8h-8zM1172 1773h8v8h-8zM1180 1781h8v8h-8zM1188 1789h8v8h-8zM1220 1829h8v8h-8zM1228 1837h8v8h-8zM260 2085h8v8h-8zM268 2085h8v8h-8zM260 2093h8v8h-8zM268 2093h8v8h-8zM260 2101h8v8h-8zM268 2101h8v8h-8zM260 2109h8v8h-8zM268 2109h8v8h-8zM260 2117h8v8h-8zM268 2117h8v8h-8zM260 2125h8v8h-8zM268 2125h8v8h-8zM260 2133h8v8h-8zM268 2133h8v8h-8zM260 2141h8v8h-8zM268 2141h8v8h-8zM260 2149h8v8h-8zM268 2149h8v8h-8zM260 2157h8v8h-8zM268 2157h8v8h-8zM260 2165h8v8h-8zM268 2165h8v8h-8zM260 2173h8v8h-8zM268 2173h8v8h-8zM260 2181h8v8h-8zM268 2181h8v8h-8zM260 2189h8v8h-8zM268 2189h8v8h-8zM260 2197h8v8h-8zM268 2197h8v8h-8zM268 2205h8v8h-8zM268 2213h8v8h-8zM268 2221h8v8h-8zM276 2221h8v8h-8zM268 2229h8v8h-8zM276 2229h8v8h-8zM268 2237h8v8h-8zM276 2237h8v8h-8zM276 2245h8v8h-8zM276 2253h8v8h-8zM284 2253h8v8h-8zM276 2261h8v8h-8zM284 2261h8v8h-8zM276 2269h8v8h-8zM284 2269h8v8h-8zM284 2277h8v8h-8zM284 2285h8v8h-8zM292 2285h8v8h-8zM292 2293h8v8h-8zM292 2301h8v8h-8zM300 2301h8v8h-8zM292 2309h8v8h-8zM300 2309h8v8h-8zM300 2317h8v8h-8zM308 2317h8v8h-8zM300 2325h8v8h-8zM308 2325h8v8h-8zM308 2333h8v8h-8zM316 2333h8v8h-8zM308 2341h8v8h-8zM316 2341h8v8h-8zM316 2349h8v8h-8zM324 2349h8v8h-8z"/><path fill="#ffda00" d="M1076 1517h8v8h-8zM1116 1557h8v8h-8zM1132 1581h8v8h-8zM1156 1645h8v8h-8zM1164 1677h8v8h-8zM1180 1725h8v8h-8zM1188 1741h8v8h-8zM1212 1773h8v8h-8zM1228 1797h8v8h-8z"/><path fill="#ffeb00" d="M1100 1517h8v8h-8zM1132 1549h8v8h-8zM1156 1581h8v8h-8zM1164 1597h8v8h-8zM1172 1613h8v8h-8zM1180 1629h8v8h-8zM1196 1669h8v8h-8zM1204 1685h8v8h-8zM1212 1701h8v8h-8zM1220 1717h8v8h-8z"/><path fill="#ffde00" d="M996 1525h8v8h-8zM1100 1533h8v8h-8zM1108 1541h8v8h-8zM1156 1621h8v8h-8zM1172 1677h8v8h-8zM1180 1701h8v8h-8zM1188 1717h8v8h-8zM1196 1733h8v8h-8zM1212 1757h8v8h-8zM1228 1781h8v8h-8z"/><path fill="#ffcd00" d="M1036 1525h8v8h-8zM1004 1549h8v8h-8zM1108 1565h8v8h-8zM1132 1613h8v8h-8zM1140 1669h8v8h-8zM1140 1677h8v8h-8zM1140 1685h8v8h-8zM1140 1693h8v8h-8zM1140 1701h8v8h-8zM1148 1733h8v8h-8zM1156 1749h8v8h-8zM1164 1757h8v8h-8zM1196 1797h8v8h-8zM1204 1805h8v8h-8zM244 2085h8v8h-8zM252 2085h8v8h-8zM244 2093h8v8h-8zM252 2093h8v8h-8zM244 2101h8v8h-8zM252 2101h8v8h-8zM244 2109h8v8h-8zM252 2109h8v8h-8zM244 2117h8v8h-8zM252 2117h8v8h-8zM244 2125h8v8h-8zM252 2125h8v8h-8zM244 2133h8v8h-8zM252 2133h8v8h-8zM244 2141h8v8h-8zM252 2141h8v8h-8zM244 2149h8v8h-8zM252 2149h8v8h-8zM244 2157h8v8h-8zM252 2157h8v8h-8zM244 2165h8v8h-8zM252 2165h8v8h-8zM244 2173h8v8h-8zM252 2173h8v8h-8zM244 2181h8v8h-8zM252 2181h8v8h-8zM252 2189h8v8h-8zM252 2197h8v8h-8zM252 2205h8v8h-8zM260 2205h8v8h-8zM252 2213h8v8h-8zM260 2213h8v8h-8zM252 2221h8v8h-8zM260 2221h8v8h-8zM252 2229h8v8h-8zM260 2229h8v8h-8zM260 2237h8v8h-8zM260 2245h8v8h-8zM268 2245h8v8h-8zM260 2253h8v8h-8zM268 2253h8v8h-8zM260 2261h8v8h-8zM268 2261h8v8h-8zM268 2269h8v8h-8zM268 2277h8v8h-8zM276 2277h8v8h-8zM268 2285h8v8h-8zM276 2285h8v8h-8zM276 2293h8v8h-8zM284 2293h8v8h-8zM276 2301h8v8h-8zM284 2301h8v8h-8zM284 2309h8v8h-8zM284 2317h8v8h-8zM292 2317h8v8h-8zM292 2325h8v8h-8zM292 2333h8v8h-8zM300 2333h8v8h-8zM300 2341h8v8h-8zM300 2349h8v8h-8zM308 2349h8v8h-8zM1228 2349h8v8h-8z"/><path fill="#ffc200" d="M1044 1525h8v8h-8zM1052 1525h8v8h-8zM1036 1533h8v8h-8zM1020 1541h8v8h-8zM1028 1541h8v8h-8zM1012 1549h8v8h-8zM1004 1557h8v8h-8zM1108 1581h8v8h-8zM1116 1597h8v8h-8zM1124 1629h8v8h-8zM1124 1637h8v8h-8zM1036 1709h8v8h-8zM1044 1709h8v8h-8zM1052 1709h8v8h-8zM1060 1709h8v8h-8zM1068 1709h8v8h-8zM1076 1709h8v8h-8zM1084 1709h8v8h-8zM1092 1709h8v8h-8zM1100 1709h8v8h-8zM1108 1709h8v8h-8zM1036 1749h8v8h-8zM1044 1749h8v8h-8zM1052 1749h8v8h-8zM1060 1749h8v8h-8zM1068 1749h8v8h-8zM1076 1749h8v8h-8zM1084 1749h8v8h-8zM1092 1749h8v8h-8zM1100 1749h8v8h-8zM1116 1757h8v8h-8zM1140 1773h8v8h-8zM1148 1781h8v8h-8zM1212 1845h8v8h-8zM372 2085h8v8h-8zM380 2085h8v8h-8zM372 2093h8v8h-8zM380 2093h8v8h-8zM372 2101h8v8h-8zM380 2101h8v8h-8zM372 2109h8v8h-8zM380 2109h8v8h-8zM372 2117h8v8h-8zM380 2117h8v8h-8zM372 2125h8v8h-8zM380 2125h8v8h-8zM372 2133h8v8h-8zM380 2133h8v8h-8zM372 2141h8v8h-8zM380 2141h8v8h-8zM372 2149h8v8h-8zM380 2149h8v8h-8zM372 2157h8v8h-8zM380 2157h8v8h-8zM372 2165h8v8h-8zM380 2165h8v8h-8zM380 2173h8v8h-8zM380 2181h8v8h-8zM380 2189h8v8h-8zM380 2197h8v8h-8zM380 2205h8v8h-8zM380 2213h8v8h-8zM380 2221h8v8h-8zM388 2221h8v8h-8zM388 2229h8v8h-8zM388 2237h8v8h-8zM388 2245h8v8h-8zM388 2253h8v8h-8zM396 2253h8v8h-8zM396 2261h8v8h-8zM396 2269h8v8h-8zM404 2277h8v8h-8zM404 2285h8v8h-8zM404 2293h8v8h-8zM412 2293h8v8h-8zM412 2301h8v8h-8zM1228 2301h8v8h-8zM412 2309h8v8h-8zM420 2309h8v8h-8zM420 2317h8v8h-8zM420 2325h8v8h-8zM428 2325h8v8h-8zM1212 2325h8v8h-8zM428 2333h8v8h-8zM436 2341h8v8h-8zM436 2349h8v8h-8zM444 2349h8v8h-8z"/><path fill="#ffc300" d="M1060 1525h8v8h-8zM1084 1549h8v8h-8zM1092 1557h8v8h-8zM1124 1621h8v8h-8zM1124 1645h8v8h-8zM1036 1653h8v8h-8zM1044 1653h8v8h-8zM1052 1653h8v8h-8zM1060 1653h8v8h-8zM1068 1653h8v8h-8zM1076 1653h8v8h-8zM1084 1653h8v8h-8zM1092 1653h8v8h-8zM1100 1653h8v8h-8zM1124 1653h8v8h-8zM1124 1661h8v8h-8zM1124 1669h8v8h-8zM1124 1677h8v8h-8zM1116 1701h8v8h-8zM1036 1717h8v8h-8zM1044 1717h8v8h-8zM1052 1717h8v8h-8zM1060 1717h8v8h-8zM1068 1717h8v8h-8zM1076 1717h8v8h-8zM1084 1717h8v8h-8zM1092 1717h8v8h-8zM1100 1717h8v8h-8zM1036 1741h8v8h-8zM1044 1741h8v8h-8zM1052 1741h8v8h-8zM1060 1741h8v8h-8zM1068 1741h8v8h-8zM1076 1741h8v8h-8zM1084 1741h8v8h-8zM1092 1741h8v8h-8zM1100 1741h8v8h-8zM1108 1749h8v8h-8zM1124 1757h8v8h-8zM1132 1765h8v8h-8zM1220 1853h8v8h-8zM364 2085h8v8h-8zM364 2093h8v8h-8zM364 2101h8v8h-8zM364 2109h8v8h-8zM364 2117h8v8h-8zM364 2125h8v8h-8zM364 2133h8v8h-8zM364 2141h8v8h-8zM364 2149h8v8h-8zM364 2157h8v8h-8zM364 2165h8v8h-8zM364 2173h8v8h-8zM372 2173h8v8h-8zM364 2181h8v8h-8zM372 2181h8v8h-8zM364 2189h8v8h-8zM372 2189h8v8h-8zM372 2197h8v8h-8zM372 2205h8v8h-8zM372 2213h8v8h-8zM372 2221h8v8h-8zM372 2229h8v8h-8zM380 2229h8v8h-8zM380 2237h8v8h-8zM380 2245h8v8h-8zM380 2253h8v8h-8zM388 2261h8v8h-8zM388 2269h8v8h-8zM388 2277h8v8h-8zM396 2277h8v8h-8zM396 2285h8v8h-8zM396 2293h8v8h-8zM404 2301h8v8h-8zM404 2309h8v8h-8zM412 2317h8v8h-8zM1220 2317h8v8h-8zM412 2325h8v8h-8zM420 2333h8v8h-8zM420 2341h8v8h-8zM428 2341h8v8h-8zM1204 2341h8v8h-8zM428 2349h8v8h-8zM1196 2349h8v8h-8z"/><path fill="#ffca00" d="M1068 1525h8v8h-8zM1084 1541h8v8h-8zM1092 1549h8v8h-8zM1116 1581h8v8h-8zM1124 1597h8v8h-8zM1132 1629h8v8h-8zM1140 1741h8v8h-8zM1148 1749h8v8h-8zM1188 1797h8v8h-8zM1196 1805h8v8h-8zM1204 1813h8v8h-8zM1228 1845h8v8h-8zM284 2085h8v8h-8zM292 2085h8v8h-8zM284 2093h8v8h-8zM292 2093h8v8h-8zM284 2101h8v8h-8zM292 2101h8v8h-8zM284 2109h8v8h-8zM292 2109h8v8h-8zM284 2117h8v8h-8zM292 2117h8v8h-8zM284 2125h8v8h-8zM292 2125h8v8h-8zM284 2133h8v8h-8zM292 2133h8v8h-8zM284 2141h8v8h-8zM292 2141h8v8h-8zM284 2149h8v8h-8zM292 2149h8v8h-8zM284 2157h8v8h-8zM292 2157h8v8h-8zM284 2165h8v8h-8zM292 2165h8v8h-8zM284 2173h8v8h-8zM292 2173h8v8h-8zM284 2181h8v8h-8zM292 2181h8v8h-8zM292 2189h8v8h-8zM292 2197h8v8h-8zM292 2205h8v8h-8zM292 2213h8v8h-8zM300 2213h8v8h-8zM292 2221h8v8h-8zM300 2221h8v8h-8zM292 2229h8v8h-8zM300 2229h8v8h-8zM300 2237h8v8h-8zM300 2245h8v8h-8zM300 2253h8v8h-8zM308 2253h8v8h-8zM300 2261h8v8h-8zM308 2261h8v8h-8zM308 2269h8v8h-8zM308 2277h8v8h-8zM316 2277h8v8h-8zM316 2285h8v8h-8zM316 2293h8v8h-8zM316 2301h8v8h-8zM324 2301h8v8h-8zM324 2309h8v8h-8zM324 2317h8v8h-8zM332 2317h8v8h-8zM332 2325h8v8h-8zM332 2333h8v8h-8zM340 2333h8v8h-8zM1228 2333h8v8h-8zM340 2341h8v8h-8zM340 2349h8v8h-8zM348 2349h8v8h-8zM1220 2349h8v8h-8z"/><path fill="#ffd100" d="M1076 1525h8v8h-8zM1084 1533h8v8h-8zM1092 1541h8v8h-8zM1140 1629h8v8h-8zM1148 1677h8v8h-8zM1148 1685h8v8h-8zM1148 1693h8v8h-8zM1156 1725h8v8h-8zM1164 1741h8v8h-8zM1180 1765h8v8h-8zM1188 1773h8v8h-8zM1220 1813h8v8h-8zM244 2341h8v8h-8zM244 2349h8v8h-8z"/><path fill="#ffc500" d="M1028 1533h8v8h-8zM1124 1613h8v8h-8zM1124 1693h8v8h-8zM1116 1717h8v8h-8zM1116 1725h8v8h-8zM1116 1733h8v8h-8zM1116 1741h8v8h-8zM1124 1749h8v8h-8zM1132 1757h8v8h-8zM1140 1765h8v8h-8zM1212 1837h8v8h-8zM348 2085h8v8h-8zM348 2093h8v8h-8zM348 2101h8v8h-8zM348 2109h8v8h-8zM348 2117h8v8h-8zM348 2125h8v8h-8zM348 2133h8v8h-8zM348 2141h8v8h-8zM348 2149h8v8h-8zM348 2157h8v8h-8zM348 2165h8v8h-8zM348 2173h8v8h-8zM348 2181h8v8h-8zM348 2189h8v8h-8zM348 2197h8v8h-8zM348 2205h8v8h-8zM348 2213h8v8h-8zM356 2213h8v8h-8zM356 2221h8v8h-8zM356 2229h8v8h-8zM356 2237h8v8h-8zM356 2245h8v8h-8zM364 2245h8v8h-8zM364 2253h8v8h-8zM364 2261h8v8h-8zM364 2269h8v8h-8zM372 2269h8v8h-8zM372 2277h8v8h-8zM372 2285h8v8h-8zM372 2293h8v8h-8zM380 2293h8v8h-8zM380 2301h8v8h-8zM380 2309h8v8h-8zM388 2309h8v8h-8zM388 2317h8v8h-8zM388 2325h8v8h-8zM396 2325h8v8h-8zM1220 2325h8v8h-8zM396 2333h8v8h-8zM396 2341h8v8h-8zM404 2341h8v8h-8zM404 2349h8v8h-8zM1204 2349h8v8h-8z"/><path fill="#ffc100" d="M1044 1533h8v8h-8zM1076 1541h8v8h-8zM1020 1549h8v8h-8zM1116 1693h8v8h-8zM1036 1757h8v8h-8zM1044 1757h8v8h-8zM1052 1757h8v8h-8zM1060 1757h8v8h-8zM1068 1757h8v8h-8zM1076 1757h8v8h-8zM1084 1757h8v8h-8zM1092 1757h8v8h-8zM1100 1757h8v8h-8zM1108 1757h8v8h-8zM1124 1765h8v8h-8zM1132 1773h8v8h-8zM1156 1789h8v8h-8zM1164 1797h8v8h-8zM1172 1805h8v8h-8zM1196 1829h8v8h-8zM1204 1837h8v8h-8zM1228 1869h8v8h-8zM388 2085h8v8h-8zM388 2093h8v8h-8zM388 2101h8v8h-8zM388 2109h8v8h-8zM388 2117h8v8h-8zM388 2125h8v8h-8zM388 2133h8v8h-8zM388 2141h8v8h-8zM388 2149h8v8h-8zM388 2157h8v8h-8zM388 2165h8v8h-8zM388 2173h8v8h-8zM388 2181h8v8h-8zM388 2189h8v8h-8zM388 2197h8v8h-8zM388 2205h8v8h-8zM388 2213h8v8h-8zM396 2213h8v8h-8zM396 2221h8v8h-8zM396 2229h8v8h-8zM396 2237h8v8h-8zM396 2245h8v8h-8zM404 2245h8v8h-8zM404 2253h8v8h-8zM404 2261h8v8h-8zM404 2269h8v8h-8zM412 2269h8v8h-8zM412 2277h8v8h-8zM412 2285h8v8h-8zM420 2293h8v8h-8zM420 2301h8v8h-8zM428 2309h8v8h-8zM1220 2309h8v8h-8zM428 2317h8v8h-8zM436 2325h8v8h-8zM436 2333h8v8h-8zM444 2333h8v8h-8zM1204 2333h8v8h-8zM444 2341h8v8h-8zM1196 2341h8v8h-8zM452 2349h8v8h-8z"/><path fill="#ffbe00" d="M1052 1533h8v8h-8zM1060 1533h8v8h-8zM1044 1541h8v8h-8zM1052 1541h8v8h-8zM1028 1549h8v8h-8zM1036 1549h8v8h-8zM1020 1557h8v8h-8zM1004 1565h8v8h-8zM1012 1565h8v8h-8zM1100 1573h8v8h-8zM1108 1653h8v8h-8zM1116 1661h8v8h-8zM1116 1773h8v8h-8zM1132 1781h8v8h-8zM1156 1797h8v8h-8zM1164 1805h8v8h-8zM1204 1845h8v8h-8zM1228 1877h8v8h-8zM412 2085h8v8h-8zM412 2093h8v8h-8zM412 2101h8v8h-8zM412 2109h8v8h-8zM412 2117h8v8h-8zM412 2125h8v8h-8zM412 2133h8v8h-8zM412 2141h8v8h-8zM412 2149h8v8h-8zM412 2157h8v8h-8zM412 2165h8v8h-8zM412 2173h8v8h-8zM412 2181h8v8h-8zM412 2189h8v8h-8zM420 2197h8v8h-8zM420 2205h8v8h-8zM420 2213h8v8h-8zM420 2221h8v8h-8zM420 2229h8v8h-8zM428 2237h8v8h-8zM428 2245h8v8h-8zM428 2253h8v8h-8zM436 2261h8v8h-8zM436 2269h8v8h-8zM436 2277h8v8h-8zM444 2285h8v8h-8zM444 2293h8v8h-8zM452 2301h8v8h-8zM452 2309h8v8h-8zM1212 2309h8v8h-8zM460 2317h8v8h-8zM460 2325h8v8h-8zM468 2333h8v8h-8zM1196 2333h8v8h-8zM476 2341h8v8h-8zM1188 2341h8v8h-8zM476 2349h8v8h-8z"/><path fill="#ffc000" d="M1068 1533h8v8h-8zM1012 1557h8v8h-8zM1108 1701h8v8h-8zM1108 1765h8v8h-8zM1116 1765h8v8h-8zM1140 1781h8v8h-8zM1180 1813h8v8h-8zM1188 1821h8v8h-8zM1220 1861h8v8h-8zM396 2085h8v8h-8zM396 2093h8v8h-8zM396 2101h8v8h-8zM396 2109h8v8h-8zM396 2117h8v8h-8zM396 2125h8v8h-8zM396 2133h8v8h-8zM396 2141h8v8h-8zM396 2149h8v8h-8zM396 2157h8v8h-8zM396 2165h8v8h-8zM396 2173h8v8h-8zM396 2181h8v8h-8zM396 2189h8v8h-8zM396 2197h8v8h-8zM396 2205h8v8h-8zM404 2205h8v8h-8zM404 2213h8v8h-8zM404 2221h8v8h-8zM404 2229h8v8h-8zM404 2237h8v8h-8zM412 2245h8v8h-8zM412 2253h8v8h-8zM412 2261h8v8h-8zM420 2269h8v8h-8zM420 2277h8v8h-8zM420 2285h8v8h-8zM428 2285h8v8h-8zM428 2293h8v8h-8zM1228 2293h8v8h-8zM428 2301h8v8h-8zM436 2301h8v8h-8zM436 2309h8v8h-8zM436 2317h8v8h-8zM444 2317h8v8h-8zM1212 2317h8v8h-8zM444 2325h8v8h-8zM452 2333h8v8h-8zM452 2341h8v8h-8zM460 2349h8v8h-8zM1188 2349h8v8h-8z"/><path fill="#ffbf00" d="M1036 1541h8v8h-8zM1116 1605h8v8h-8zM1116 1653h8v8h-8zM1116 1685h8v8h-8zM1036 1701h8v8h-8zM1044 1701h8v8h-8zM1052 1701h8v8h-8zM1060 1701h8v8h-8zM1068 1701h8v8h-8zM1076 1701h8v8h-8zM1084 1701h8v8h-8zM1092 1701h8v8h-8zM1100 1701h8v8h-8zM1036 1765h8v8h-8zM1044 1765h8v8h-8zM1052 1765h8v8h-8zM1060 1765h8v8h-8zM1068 1765h8v8h-8zM1076 1765h8v8h-8zM1084 1765h8v8h-8zM1092 1765h8v8h-8zM1100 1765h8v8h-8zM1124 1773h8v8h-8zM1148 1789h8v8h-8zM1212 1853h8v8h-8zM404 2085h8v8h-8zM404 2093h8v8h-8zM404 2101h8v8h-8zM404 2109h8v8h-8zM404 2117h8v8h-8zM404 2125h8v8h-8zM404 2133h8v8h-8zM404 2141h8v8h-8zM404 2149h8v8h-8zM404 2157h8v8h-8zM404 2165h8v8h-8zM404 2173h8v8h-8zM404 2181h8v8h-8zM404 2189h8v8h-8zM404 2197h8v8h-8zM412 2197h8v8h-8zM412 2205h8v8h-8zM412 2213h8v8h-8zM412 2221h8v8h-8zM412 2229h8v8h-8zM412 2237h8v8h-8zM420 2237h8v8h-8zM420 2245h8v8h-8zM420 2253h8v8h-8zM420 2261h8v8h-8zM428 2261h8v8h-8zM428 2269h8v8h-8zM428 2277h8v8h-8zM436 2285h8v8h-8zM1228 2285h8v8h-8zM436 2293h8v8h-8zM444 2301h8v8h-8zM1220 2301h8v8h-8zM444 2309h8v8h-8zM452 2317h8v8h-8zM452 2325h8v8h-8zM1204 2325h8v8h-8zM460 2333h8v8h-8zM460 2341h8v8h-8zM468 2341h8v8h-8zM468 2349h8v8h-8z"/><path fill="#ffb800" d="M1060 1541h8v8h-8zM1068 1541h8v8h-8zM1052 1549h8v8h-8zM1036 1557h8v8h-8zM1076 1557h8v8h-8zM1020 1565h8v8h-8zM1052 1565h8v8h-8zM1060 1565h8v8h-8zM1036 1573h8v8h-8zM1044 1573h8v8h-8zM1028 1581h8v8h-8zM1108 1645h8v8h-8zM1036 1789h8v8h-8zM1044 1789h8v8h-8zM1052 1789h8v8h-8zM1060 1789h8v8h-8zM1068 1789h8v8h-8zM1076 1789h8v8h-8zM1084 1789h8v8h-8zM1092 1789h8v8h-8zM1100 1789h8v8h-8zM1108 1789h8v8h-8zM1156 1813h8v8h-8zM1212 1869h8v8h-8zM1228 1893h8v8h-8zM460 2085h8v8h-8zM460 2093h8v8h-8zM460 2101h8v8h-8zM460 2109h8v8h-8zM460 2117h8v8h-8zM460 2125h8v8h-8zM460 2133h8v8h-8zM460 2141h8v8h-8zM460 2149h8v8h-8zM460 2157h8v8h-8zM460 2165h8v8h-8zM460 2173h8v8h-8zM468 2173h8v8h-8zM468 2181h8v8h-8zM468 2189h8v8h-8zM468 2197h8v8h-8zM468 2205h8v8h-8zM468 2213h8v8h-8zM468 2221h8v8h-8zM476 2221h8v8h-8zM476 2229h8v8h-8zM476 2237h8v8h-8zM476 2245h8v8h-8zM484 2253h8v8h-8zM484 2261h8v8h-8zM484 2269h8v8h-8zM492 2269h8v8h-8zM1220 2269h8v8h-8zM492 2277h8v8h-8zM492 2285h8v8h-8zM1212 2285h8v8h-8zM500 2293h8v8h-8zM500 2301h8v8h-8zM508 2309h8v8h-8zM1196 2309h8v8h-8zM508 2317h8v8h-8zM516 2317h8v8h-8zM1188 2317h8v8h-8zM516 2325h8v8h-8zM524 2333h8v8h-8zM532 2341h8v8h-8zM532 2349h8v8h-8zM1164 2349h8v8h-8z"/><path fill="#ffba00" d="M1044 1549h8v8h-8zM1116 1621h8v8h-8zM1116 1637h8v8h-8zM1036 1677h8v8h-8zM1044 1677h8v8h-8zM1124 1789h8v8h-8zM1140 1797h8v8h-8zM1172 1821h8v8h-8zM1180 1829h8v8h-8zM1188 1837h8v8h-8zM1196 1845h8v8h-8zM1204 1853h8v8h-8zM444 2085h8v8h-8zM444 2093h8v8h-8zM444 2101h8v8h-8zM444 2109h8v8h-8zM444 2117h8v8h-8zM444 2125h8v8h-8zM444 2133h8v8h-8zM444 2141h8v8h-8zM444 2149h8v8h-8zM444 2157h8v8h-8zM444 2165h8v8h-8zM444 2173h8v8h-8zM444 2181h8v8h-8zM452 2189h8v8h-8zM452 2197h8v8h-8zM452 2205h8v8h-8zM452 2213h8v8h-8zM452 2221h8v8h-8zM460 2229h8v8h-8zM460 2237h8v8h-8zM460 2245h8v8h-8zM460 2253h8v8h-8zM468 2253h8v8h-8zM468 2261h8v8h-8zM468 2269h8v8h-8zM476 2277h8v8h-8zM476 2285h8v8h-8zM484 2293h8v8h-8zM1212 2293h8v8h-8zM484 2301h8v8h-8zM492 2309h8v8h-8zM492 2317h8v8h-8zM1196 2317h8v8h-8zM500 2325h8v8h-8zM1188 2325h8v8h-8zM500 2333h8v8h-8zM508 2333h8v8h-8zM508 2341h8v8h-8zM516 2349h8v8h-8z"/><path fill="#ffb900" d="M1060 1549h8v8h-8zM1068 1549h8v8h-8zM1044 1557h8v8h-8zM1052 1557h8v8h-8zM1060 1557h8v8h-8zM1068 1557h8v8h-8zM1028 1565h8v8h-8zM1036 1565h8v8h-8zM1044 1565h8v8h-8zM1012 1573h8v8h-8zM1020 1573h8v8h-8zM1028 1573h8v8h-8zM1020 1581h8v8h-8zM1100 1581h8v8h-8zM1108 1597h8v8h-8zM1116 1629h8v8h-8zM1108 1685h8v8h-8zM1116 1789h8v8h-8zM1132 1797h8v8h-8zM1148 1805h8v8h-8zM1220 1877h8v8h-8zM452 2085h8v8h-8zM452 2093h8v8h-8zM452 2101h8v8h-8zM452 2109h8v8h-8zM452 2117h8v8h-8zM452 2125h8v8h-8zM452 2133h8v8h-8zM452 2141h8v8h-8zM452 2149h8v8h-8zM452 2157h8v8h-8zM452 2165h8v8h-8zM452 2173h8v8h-8zM452 2181h8v8h-8zM460 2181h8v8h-8zM460 2189h8v8h-8zM460 2197h8v8h-8zM460 2205h8v8h-8zM460 2213h8v8h-8zM460 2221h8v8h-8zM468 2229h8v8h-8zM468 2237h8v8h-8zM468 2245h8v8h-8zM476 2253h8v8h-8zM476 2261h8v8h-8zM1228 2261h8v8h-8zM476 2269h8v8h-8zM484 2277h8v8h-8zM1220 2277h8v8h-8zM484 2285h8v8h-8zM492 2293h8v8h-8zM492 2301h8v8h-8zM1204 2301h8v8h-8zM500 2309h8v8h-8zM500 2317h8v8h-8zM508 2325h8v8h-8zM516 2333h8v8h-8zM1180 2333h8v8h-8zM516 2341h8v8h-8zM524 2341h8v8h-8zM1172 2341h8v8h-8zM524 2349h8v8h-8z"/><path fill="#ffbc00" d="M1076 1549h8v8h-8zM1084 1557h8v8h-8zM1116 1613h8v8h-8zM1036 1693h8v8h-8zM1044 1693h8v8h-8zM1052 1693h8v8h-8zM1060 1693h8v8h-8zM1068 1693h8v8h-8zM1076 1693h8v8h-8zM1084 1693h8v8h-8zM1092 1693h8v8h-8zM1100 1693h8v8h-8zM1116 1781h8v8h-8zM1148 1797h8v8h-8zM1220 1869h8v8h-8zM428 2085h8v8h-8zM428 2093h8v8h-8zM428 2101h8v8h-8zM428 2109h8v8h-8zM428 2117h8v8h-8zM428 2125h8v8h-8zM428 2133h8v8h-8zM428 2141h8v8h-8zM428 2149h8v8h-8zM428 2157h8v8h-8zM428 2165h8v8h-8zM428 2173h8v8h-8zM428 2181h8v8h-8zM436 2189h8v8h-8zM436 2197h8v8h-8zM436 2205h8v8h-8zM436 2213h8v8h-8zM436 2221h8v8h-8zM444 2229h8v8h-8zM444 2237h8v8h-8zM444 2245h8v8h-8zM444 2253h8v8h-8zM452 2261h8v8h-8zM452 2269h8v8h-8zM460 2277h8v8h-8zM460 2285h8v8h-8zM460 2293h8v8h-8zM468 2293h8v8h-8zM468 2301h8v8h-8zM1212 2301h8v8h-8zM468 2309h8v8h-8zM476 2309h8v8h-8zM476 2317h8v8h-8zM484 2325h8v8h-8zM1196 2325h8v8h-8zM484 2333h8v8h-8zM1188 2333h8v8h-8zM492 2341h8v8h-8zM500 2349h8v8h-8z"/><path fill="#ffd200" d="M1100 1549h8v8h-8zM1124 1581h8v8h-8zM1132 1597h8v8h-8zM1140 1621h8v8h-8zM1148 1669h8v8h-8zM1156 1717h8v8h-8zM1164 1733h8v8h-8zM1172 1749h8v8h-8zM1196 1781h8v8h-8zM1204 1789h8v8h-8zM1228 1821h8v8h-8z"/><path fill="#ffbd00" d="M1028 1557h8v8h-8zM1108 1589h8v8h-8zM1116 1645h8v8h-8zM1116 1669h8v8h-8zM1116 1677h8v8h-8zM1108 1693h8v8h-8zM1036 1773h8v8h-8zM1044 1773h8v8h-8zM1052 1773h8v8h-8zM1060 1773h8v8h-8zM1068 1773h8v8h-8zM1076 1773h8v8h-8zM1084 1773h8v8h-8zM1092 1773h8v8h-8zM1100 1773h8v8h-8zM1108 1773h8v8h-8zM1124 1781h8v8h-8zM1140 1789h8v8h-8zM1172 1813h8v8h-8zM1180 1821h8v8h-8zM1188 1829h8v8h-8zM1196 1837h8v8h-8zM420 2085h8v8h-8zM420 2093h8v8h-8zM420 2101h8v8h-8zM420 2109h8v8h-8zM420 2117h8v8h-8zM420 2125h8v8h-8zM420 2133h8v8h-8zM420 2141h8v8h-8zM420 2149h8v8h-8zM420 2157h8v8h-8zM420 2165h8v8h-8zM420 2173h8v8h-8zM420 2181h8v8h-8zM420 2189h8v8h-8zM428 2189h8v8h-8zM428 2197h8v8h-8zM428 2205h8v8h-8zM428 2213h8v8h-8zM428 2221h8v8h-8zM428 2229h8v8h-8zM436 2229h8v8h-8zM436 2237h8v8h-8zM436 2245h8v8h-8zM436 2253h8v8h-8zM444 2261h8v8h-8zM444 2269h8v8h-8zM444 2277h8v8h-8zM452 2277h8v8h-8zM1228 2277h8v8h-8zM452 2285h8v8h-8zM452 2293h8v8h-8zM1220 2293h8v8h-8zM460 2301h8v8h-8zM460 2309h8v8h-8zM468 2317h8v8h-8zM1204 2317h8v8h-8zM468 2325h8v8h-8zM476 2325h8v8h-8zM476 2333h8v8h-8zM484 2341h8v8h-8zM484 2349h8v8h-8zM492 2349h8v8h-8zM1180 2349h8v8h-8z"/><path fill="#ffcb00" d="M1100 1557h8v8h-8zM1132 1621h8v8h-8zM1140 1725h8v8h-8zM1140 1733h8v8h-8zM1156 1757h8v8h-8zM1164 1765h8v8h-8zM1212 1821h8v8h-8zM276 2085h8v8h-8zM276 2093h8v8h-8zM276 2101h8v8h-8zM276 2109h8v8h-8zM276 2117h8v8h-8zM276 2125h8v8h-8zM276 2133h8v8h-8zM276 2141h8v8h-8zM276 2149h8v8h-8zM276 2157h8v8h-8zM276 2165h8v8h-8zM276 2173h8v8h-8zM276 2181h8v8h-8zM276 2189h8v8h-8zM284 2189h8v8h-8zM276 2197h8v8h-8zM284 2197h8v8h-8zM276 2205h8v8h-8zM284 2205h8v8h-8zM276 2213h8v8h-8zM284 2213h8v8h-8zM284 2221h8v8h-8zM284 2229h8v8h-8zM284 2237h8v8h-8zM292 2237h8v8h-8zM284 2245h8v8h-8zM292 2245h8v8h-8zM292 2253h8v8h-8zM292 2261h8v8h-8zM292 2269h8v8h-8zM300 2269h8v8h-8zM292 2277h8v8h-8zM300 2277h8v8h-8zM300 2285h8v8h-8zM308 2285h8v8h-8zM300 2293h8v8h-8zM308 2293h8v8h-8zM308 2301h8v8h-8zM308 2309h8v8h-8zM316 2309h8v8h-8zM316 2317h8v8h-8zM316 2325h8v8h-8zM324 2325h8v8h-8zM324 2333h8v8h-8zM324 2341h8v8h-8zM332 2341h8v8h-8zM1228 2341h8v8h-8zM332 2349h8v8h-8z"/><path fill="#ffec00" d="M1140 1557h8v8h-8zM1188 1645h8v8h-8zM1196 1661h8v8h-8zM1220 1709h8v8h-8zM1228 1725h8v8h-8z"/><path fill="#ffb400" d="M1068 1565h8v8h-8zM1060 1573h8v8h-8zM1020 1589h8v8h-8zM1108 1669h8v8h-8zM1124 1805h8v8h-8zM1140 1813h8v8h-8zM1164 1829h8v8h-8zM1196 1861h8v8h-8zM1204 1869h8v8h-8zM1220 1893h8v8h-8zM492 2085h8v8h-8zM492 2093h8v8h-8zM492 2101h8v8h-8zM492 2109h8v8h-8zM492 2117h8v8h-8zM492 2125h8v8h-8zM492 2133h8v8h-8zM492 2141h8v8h-8zM492 2149h8v8h-8zM492 2157h8v8h-8zM492 2165h8v8h-8zM500 2181h8v8h-8zM500 2189h8v8h-8zM500 2197h8v8h-8zM500 2205h8v8h-8zM500 2213h8v8h-8zM508 2221h8v8h-8zM508 2229h8v8h-8zM508 2237h8v8h-8zM1228 2237h8v8h-8zM516 2253h8v8h-8zM1220 2253h8v8h-8zM516 2261h8v8h-8zM524 2269h8v8h-8zM524 2277h8v8h-8zM532 2285h8v8h-8zM532 2293h8v8h-8zM1196 2293h8v8h-8zM540 2301h8v8h-8zM1188 2301h8v8h-8zM540 2309h8v8h-8zM548 2317h8v8h-8zM556 2325h8v8h-8zM556 2333h8v8h-8zM1164 2333h8v8h-8zM564 2341h8v8h-8zM1156 2341h8v8h-8zM572 2349h8v8h-8zM1148 2349h8v8h-8z"/><path fill="#ffb300" d="M1076 1565h8v8h-8zM1084 1565h8v8h-8zM1044 1581h8v8h-8zM1028 1589h8v8h-8zM1108 1613h8v8h-8zM1116 1805h8v8h-8zM1148 1821h8v8h-8zM1172 1837h8v8h-8zM1180 1845h8v8h-8zM1188 1853h8v8h-8zM1212 1885h8v8h-8zM1228 1909h8v8h-8zM500 2085h8v8h-8zM500 2093h8v8h-8zM500 2101h8v8h-8zM500 2109h8v8h-8zM500 2117h8v8h-8zM500 2125h8v8h-8zM500 2133h8v8h-8zM500 2141h8v8h-8zM500 2149h8v8h-8zM500 2157h8v8h-8zM500 2165h8v8h-8zM500 2173h8v8h-8zM508 2181h8v8h-8zM508 2189h8v8h-8zM508 2197h8v8h-8zM508 2205h8v8h-8zM508 2213h8v8h-8zM516 2221h8v8h-8zM516 2229h8v8h-8zM1228 2229h8v8h-8zM516 2237h8v8h-8zM516 2245h8v8h-8zM524 2253h8v8h-8zM524 2261h8v8h-8zM1212 2261h8v8h-8zM532 2269h8v8h-8zM532 2277h8v8h-8zM1204 2277h8v8h-8zM540 2285h8v8h-8zM540 2293h8v8h-8zM548 2301h8v8h-8zM548 2309h8v8h-8zM1180 2309h8v8h-8zM556 2317h8v8h-8zM564 2325h8v8h-8zM564 2333h8v8h-8zM572 2341h8v8h-8zM580 2349h8v8h-8z"/><path fill="#ffbb00" d="M1092 1565h8v8h-8zM1108 1661h8v8h-8zM1036 1781h8v8h-8zM1044 1781h8v8h-8zM1052 1781h8v8h-8zM1060 1781h8v8h-8zM1068 1781h8v8h-8zM1076 1781h8v8h-8zM1084 1781h8v8h-8zM1092 1781h8v8h-8zM1100 1781h8v8h-8zM1108 1781h8v8h-8zM1132 1789h8v8h-8zM1156 1805h8v8h-8zM1164 1813h8v8h-8zM1212 1861h8v8h-8zM1228 1885h8v8h-8zM436 2085h8v8h-8zM436 2093h8v8h-8zM436 2101h8v8h-8zM436 2109h8v8h-8zM436 2117h8v8h-8zM436 2125h8v8h-8zM436 2133h8v8h-8zM436 2141h8v8h-8zM436 2149h8v8h-8zM436 2157h8v8h-8zM436 2165h8v8h-8zM436 2173h8v8h-8zM436 2181h8v8h-8zM444 2189h8v8h-8zM444 2197h8v8h-8zM444 2205h8v8h-8zM444 2213h8v8h-8zM444 2221h8v8h-8zM452 2229h8v8h-8zM452 2237h8v8h-8zM452 2245h8v8h-8zM452 2253h8v8h-8zM460 2261h8v8h-8zM460 2269h8v8h-8zM1228 2269h8v8h-8zM468 2277h8v8h-8zM468 2285h8v8h-8zM1220 2285h8v8h-8zM476 2293h8v8h-8zM476 2301h8v8h-8zM484 2309h8v8h-8zM1204 2309h8v8h-8zM484 2317h8v8h-8zM492 2325h8v8h-8zM492 2333h8v8h-8zM500 2341h8v8h-8zM1180 2341h8v8h-8zM508 2349h8v8h-8zM1172 2349h8v8h-8z"/><path fill="#ffc400" d="M1100 1565h8v8h-8zM1100 1661h8v8h-8zM1124 1685h8v8h-8zM1116 1709h8v8h-8zM1108 1717h8v8h-8zM1036 1725h8v8h-8zM1044 1725h8v8h-8zM1052 1725h8v8h-8zM1060 1725h8v8h-8zM1068 1725h8v8h-8zM1076 1725h8v8h-8zM1084 1725h8v8h-8zM1092 1725h8v8h-8zM1100 1725h8v8h-8zM1108 1725h8v8h-8zM1036 1733h8v8h-8zM1044 1733h8v8h-8zM1052 1733h8v8h-8zM1060 1733h8v8h-8zM1068 1733h8v8h-8zM1076 1733h8v8h-8zM1084 1733h8v8h-8zM1092 1733h8v8h-8zM1100 1733h8v8h-8zM1108 1733h8v8h-8zM1108 1741h8v8h-8zM1116 1749h8v8h-8zM1148 1773h8v8h-8zM1156 1781h8v8h-8zM1164 1789h8v8h-8zM1172 1797h8v8h-8zM1180 1805h8v8h-8zM1188 1813h8v8h-8zM1196 1821h8v8h-8zM1204 1829h8v8h-8zM1228 1861h8v8h-8zM356 2085h8v8h-8zM356 2093h8v8h-8zM356 2101h8v8h-8zM356 2109h8v8h-8zM356 2117h8v8h-8zM356 2125h8v8h-8zM356 2133h8v8h-8zM356 2141h8v8h-8zM356 2149h8v8h-8zM356 2157h8v8h-8zM356 2165h8v8h-8zM356 2173h8v8h-8zM356 2181h8v8h-8zM356 2189h8v8h-8zM356 2197h8v8h-8zM364 2197h8v8h-8zM356 2205h8v8h-8zM364 2205h8v8h-8zM364 2213h8v8h-8zM364 2221h8v8h-8zM364 2229h8v8h-8zM364 2237h8v8h-8zM372 2237h8v8h-8zM372 2245h8v8h-8zM372 2253h8v8h-8zM372 2261h8v8h-8zM380 2261h8v8h-8zM380 2269h8v8h-8zM380 2277h8v8h-8zM380 2285h8v8h-8zM388 2285h8v8h-8zM388 2293h8v8h-8zM388 2301h8v8h-8zM396 2301h8v8h-8zM396 2309h8v8h-8zM1228 2309h8v8h-8zM396 2317h8v8h-8zM404 2317h8v8h-8zM404 2325h8v8h-8zM404 2333h8v8h-8zM412 2333h8v8h-8zM1212 2333h8v8h-8zM412 2341h8v8h-8zM412 2349h8v8h-8zM420 2349h8v8h-8z"/><path fill="#ffd400" d="M1116 1565h8v8h-8zM1140 1613h8v8h-8zM1148 1645h8v8h-8zM1148 1653h8v8h-8zM1156 1693h8v8h-8zM1156 1701h8v8h-8zM1164 1725h8v8h-8zM1172 1741h8v8h-8zM1188 1765h8v8h-8zM1196 1773h8v8h-8zM1220 1805h8v8h-8z"/><path fill="#ffb500" d="M1052 1573h8v8h-8zM1092 1573h8v8h-8zM1036 1581h8v8h-8zM1100 1589h8v8h-8zM1036 1645h8v8h-8zM1044 1645h8v8h-8zM1052 1645h8v8h-8zM1060 1645h8v8h-8zM1068 1645h8v8h-8zM1076 1645h8v8h-8zM1084 1645h8v8h-8zM1092 1645h8v8h-8zM1100 1645h8v8h-8zM1108 1677h8v8h-8zM1036 1797h8v8h-8zM1044 1797h8v8h-8zM1052 1797h8v8h-8zM1060 1797h8v8h-8zM1068 1797h8v8h-8zM1076 1797h8v8h-8zM1084 1797h8v8h-8zM1092 1797h8v8h-8zM1100 1797h8v8h-8zM1156 1821h8v8h-8zM1212 1877h8v8h-8zM484 2085h8v8h-8zM484 2093h8v8h-8zM484 2101h8v8h-8zM484 2109h8v8h-8zM484 2117h8v8h-8zM484 2125h8v8h-8zM484 2133h8v8h-8zM484 2141h8v8h-8zM484 2149h8v8h-8zM484 2157h8v8h-8zM484 2165h8v8h-8zM492 2173h8v8h-8zM492 2181h8v8h-8zM492 2189h8v8h-8zM492 2197h8v8h-8zM492 2205h8v8h-8zM492 2213h8v8h-8zM500 2221h8v8h-8zM500 2229h8v8h-8zM500 2237h8v8h-8zM508 2245h8v8h-8zM508 2253h8v8h-8zM508 2261h8v8h-8zM516 2269h8v8h-8zM1212 2269h8v8h-8zM516 2277h8v8h-8zM524 2285h8v8h-8zM1204 2285h8v8h-8zM524 2293h8v8h-8zM532 2301h8v8h-8zM532 2309h8v8h-8zM540 2317h8v8h-8zM1180 2317h8v8h-8zM548 2325h8v8h-8zM1172 2325h8v8h-8zM548 2333h8v8h-8zM556 2341h8v8h-8zM564 2349h8v8h-8z"/><path fill="#ffaf00" d="M1068 1573h8v8h-8zM1052 1581h8v8h-8zM1108 1629h8v8h-8zM1036 1813h8v8h-8zM1044 1813h8v8h-8zM1052 1813h8v8h-8zM1060 1813h8v8h-8zM1068 1813h8v8h-8zM1076 1813h8v8h-8zM1084 1813h8v8h-8zM1092 1813h8v8h-8zM1100 1813h8v8h-8zM1108 1813h8v8h-8zM1132 1821h8v8h-8zM1148 1829h8v8h-8zM1220 1909h8v8h-8zM1228 1925h8v8h-8zM532 2085h8v8h-8zM532 2093h8v8h-8zM532 2101h8v8h-8zM532 2109h8v8h-8zM532 2117h8v8h-8zM532 2125h8v8h-8zM532 2133h8v8h-8zM532 2141h8v8h-8zM532 2149h8v8h-8zM532 2157h8v8h-8zM532 2165h8v8h-8zM532 2173h8v8h-8zM532 2181h8v8h-8zM532 2189h8v8h-8zM532 2197h8v8h-8zM540 2205h8v8h-8zM540 2213h8v8h-8zM1228 2213h8v8h-8zM540 2221h8v8h-8zM540 2229h8v8h-8zM1220 2229h8v8h-8zM548 2237h8v8h-8zM548 2245h8v8h-8zM1212 2245h8v8h-8zM556 2261h8v8h-8zM556 2269h8v8h-8zM564 2277h8v8h-8zM564 2285h8v8h-8zM572 2293h8v8h-8zM1180 2293h8v8h-8zM580 2309h8v8h-8zM588 2317h8v8h-8zM596 2325h8v8h-8zM596 2333h8v8h-8zM604 2341h8v8h-8zM612 2349h8v8h-8z"/><path fill="#ffae00" d="M1076 1573h8v8h-8zM1084 1669h8v8h-8zM1156 1837h8v8h-8zM1204 1885h8v8h-8zM540 2085h8v8h-8zM540 2093h8v8h-8zM540 2101h8v8h-8zM540 2109h8v8h-8zM540 2117h8v8h-8zM540 2125h8v8h-8zM540 2133h8v8h-8zM540 2141h8v8h-8zM540 2149h8v8h-8zM540 2157h8v8h-8zM540 2165h8v8h-8zM540 2173h8v8h-8zM540 2181h8v8h-8zM540 2189h8v8h-8zM540 2197h8v8h-8zM1228 2205h8v8h-8zM548 2213h8v8h-8zM548 2221h8v8h-8zM548 2229h8v8h-8zM556 2245h8v8h-8zM556 2253h8v8h-8zM1204 2253h8v8h-8zM564 2261h8v8h-8zM564 2269h8v8h-8zM1196 2269h8v8h-8zM572 2277h8v8h-8zM572 2285h8v8h-8zM580 2293h8v8h-8zM580 2301h8v8h-8zM1172 2301h8v8h-8zM588 2309h8v8h-8zM1164 2309h8v8h-8zM596 2317h8v8h-8zM604 2325h8v8h-8zM604 2333h8v8h-8zM612 2341h8v8h-8zM620 2349h8v8h-8z"/><path fill="#ffac00" d="M1084 1573h8v8h-8zM1060 1581h8v8h-8zM1100 1605h8v8h-8zM1092 1669h8v8h-8zM1100 1669h8v8h-8zM1116 1821h8v8h-8zM1172 1853h8v8h-8zM1180 1861h8v8h-8zM1188 1869h8v8h-8zM1220 1917h8v8h-8zM1228 1933h8v8h-8zM548 2085h8v8h-8zM548 2093h8v8h-8zM548 2101h8v8h-8zM548 2109h8v8h-8zM548 2117h8v8h-8zM548 2125h8v8h-8zM548 2133h8v8h-8zM548 2141h8v8h-8zM548 2149h8v8h-8zM548 2157h8v8h-8zM548 2165h8v8h-8zM548 2173h8v8h-8zM556 2189h8v8h-8zM556 2197h8v8h-8zM1228 2197h8v8h-8zM556 2205h8v8h-8zM556 2213h8v8h-8zM1220 2213h8v8h-8zM564 2229h8v8h-8zM564 2237h8v8h-8zM1204 2245h8v8h-8zM572 2253h8v8h-8zM572 2261h8v8h-8zM1196 2261h8v8h-8zM580 2269h8v8h-8zM580 2277h8v8h-8zM588 2285h8v8h-8zM1172 2293h8v8h-8zM596 2301h8v8h-8zM604 2309h8v8h-8zM612 2317h8v8h-8zM612 2325h8v8h-8zM620 2333h8v8h-8zM628 2341h8v8h-8zM636 2349h8v8h-8z"/><path fill="#ffc700" d="M1108 1573h8v8h-8zM1124 1605h8v8h-8zM1036 1661h8v8h-8zM1044 1661h8v8h-8zM1052 1661h8v8h-8zM1060 1661h8v8h-8zM1068 1661h8v8h-8zM1076 1661h8v8h-8zM1084 1661h8v8h-8zM1092 1661h8v8h-8zM1036 1669h8v8h-8zM1044 1669h8v8h-8zM1052 1669h8v8h-8zM1060 1669h8v8h-8zM1068 1669h8v8h-8zM1076 1669h8v8h-8zM1124 1709h8v8h-8zM1124 1717h8v8h-8zM1124 1725h8v8h-8zM1124 1733h8v8h-8zM1140 1757h8v8h-8zM1148 1765h8v8h-8zM1156 1773h8v8h-8zM1164 1781h8v8h-8zM1172 1789h8v8h-8zM1180 1797h8v8h-8zM1188 1805h8v8h-8zM1196 1813h8v8h-8zM1204 1821h8v8h-8zM1228 1853h8v8h-8zM324 2085h8v8h-8zM324 2093h8v8h-8zM324 2101h8v8h-8zM324 2109h8v8h-8zM324 2117h8v8h-8zM324 2125h8v8h-8zM324 2133h8v8h-8zM324 2141h8v8h-8zM324 2149h8v8h-8zM324 2157h8v8h-8zM324 2165h8v8h-8zM324 2173h8v8h-8zM324 2181h8v8h-8zM324 2189h8v8h-8zM332 2189h8v8h-8zM324 2197h8v8h-8zM332 2197h8v8h-8zM324 2205h8v8h-8zM332 2205h8v8h-8zM332 2213h8v8h-8zM332 2221h8v8h-8zM332 2229h8v8h-8zM332 2237h8v8h-8zM340 2237h8v8h-8zM332 2245h8v8h-8zM340 2245h8v8h-8zM340 2253h8v8h-8zM340 2261h8v8h-8zM340 2269h8v8h-8zM348 2269h8v8h-8zM348 2277h8v8h-8zM348 2285h8v8h-8zM356 2285h8v8h-8zM356 2293h8v8h-8zM356 2301h8v8h-8zM356 2309h8v8h-8zM364 2309h8v8h-8zM364 2317h8v8h-8zM364 2325h8v8h-8zM372 2325h8v8h-8zM372 2333h8v8h-8zM1220 2333h8v8h-8zM380 2341h8v8h-8zM380 2349h8v8h-8zM388 2349h8v8h-8z"/><path fill="#ffa800" d="M1068 1581h8v8h-8zM1076 1581h8v8h-8zM1044 1589h8v8h-8zM1052 1589h8v8h-8zM1060 1589h8v8h-8zM1028 1597h8v8h-8zM1036 1597h8v8h-8zM1076 1597h8v8h-8zM1092 1597h8v8h-8zM1052 1605h8v8h-8zM1068 1621h8v8h-8zM1076 1621h8v8h-8zM1084 1621h8v8h-8zM1092 1621h8v8h-8zM1116 1829h8v8h-8zM1172 1861h8v8h-8zM1204 1901h8v8h-8zM1228 1949h8v8h-8zM572 2085h8v8h-8zM572 2093h8v8h-8zM572 2101h8v8h-8zM572 2109h8v8h-8zM572 2117h8v8h-8zM572 2125h8v8h-8zM572 2133h8v8h-8zM572 2141h8v8h-8zM572 2149h8v8h-8zM572 2157h8v8h-8zM572 2165h8v8h-8zM572 2173h8v8h-8zM1228 2173h8v8h-8zM580 2197h8v8h-8zM1220 2197h8v8h-8zM580 2205h8v8h-8zM580 2213h8v8h-8zM1212 2213h8v8h-8zM588 2229h8v8h-8zM1204 2229h8v8h-8zM588 2237h8v8h-8zM1196 2245h8v8h-8zM596 2253h8v8h-8zM604 2269h8v8h-8zM1180 2269h8v8h-8zM612 2285h8v8h-8zM620 2293h8v8h-8zM628 2309h8v8h-8zM1148 2309h8v8h-8zM636 2317h8v8h-8zM1140 2317h8v8h-8zM644 2325h8v8h-8zM1132 2325h8v8h-8zM652 2333h8v8h-8zM660 2341h8v8h-8zM668 2349h8v8h-8z"/><path fill="#ffaa00" d="M1084 1581h8v8h-8zM1068 1589h8v8h-8zM1076 1589h8v8h-8zM1084 1589h8v8h-8zM1044 1597h8v8h-8zM1052 1597h8v8h-8zM1060 1597h8v8h-8zM1068 1597h8v8h-8zM1028 1605h8v8h-8zM1036 1605h8v8h-8zM1156 1845h8v8h-8zM1196 1885h8v8h-8zM1212 1909h8v8h-8zM1220 1925h8v8h-8zM1228 1941h8v8h-8zM564 2085h8v8h-8zM564 2093h8v8h-8zM564 2101h8v8h-8zM564 2109h8v8h-8zM564 2117h8v8h-8zM564 2125h8v8h-8zM564 2133h8v8h-8zM564 2141h8v8h-8zM564 2149h8v8h-8zM564 2157h8v8h-8zM564 2165h8v8h-8zM564 2173h8v8h-8zM564 2181h8v8h-8zM564 2189h8v8h-8zM564 2197h8v8h-8zM1220 2205h8v8h-8zM572 2213h8v8h-8zM572 2221h8v8h-8zM1212 2221h8v8h-8zM580 2237h8v8h-8zM1204 2237h8v8h-8zM580 2245h8v8h-8zM1196 2253h8v8h-8zM588 2261h8v8h-8zM596 2277h8v8h-8zM1180 2277h8v8h-8zM1172 2285h8v8h-8zM604 2293h8v8h-8zM612 2301h8v8h-8zM620 2309h8v8h-8zM620 2317h8v8h-8zM628 2325h8v8h-8zM636 2333h8v8h-8zM644 2341h8v8h-8zM652 2349h8v8h-8z"/><path fill="#ffb100" d="M1092 1581h8v8h-8zM1108 1621h8v8h-8zM1108 1637h8v8h-8zM1052 1677h8v8h-8zM1060 1677h8v8h-8zM1068 1677h8v8h-8zM1076 1677h8v8h-8zM1084 1677h8v8h-8zM1092 1677h8v8h-8zM1100 1677h8v8h-8zM1124 1813h8v8h-8zM1156 1829h8v8h-8zM1204 1877h8v8h-8zM1220 1901h8v8h-8zM1228 1917h8v8h-8zM516 2085h8v8h-8zM516 2093h8v8h-8zM516 2101h8v8h-8zM516 2109h8v8h-8zM516 2117h8v8h-8zM516 2125h8v8h-8zM516 2133h8v8h-8zM516 2141h8v8h-8zM516 2149h8v8h-8zM516 2157h8v8h-8zM516 2165h8v8h-8zM516 2173h8v8h-8zM516 2181h8v8h-8zM524 2197h8v8h-8zM524 2205h8v8h-8zM524 2213h8v8h-8zM524 2221h8v8h-8zM1228 2221h8v8h-8zM532 2229h8v8h-8zM532 2237h8v8h-8zM1220 2237h8v8h-8zM532 2245h8v8h-8zM540 2253h8v8h-8zM1212 2253h8v8h-8zM540 2261h8v8h-8zM548 2277h8v8h-8zM556 2293h8v8h-8zM564 2301h8v8h-8zM1180 2301h8v8h-8zM564 2309h8v8h-8zM572 2317h8v8h-8zM580 2325h8v8h-8zM580 2333h8v8h-8zM588 2341h8v8h-8zM596 2349h8v8h-8z"/><path fill="#ffab00" d="M1036 1589h8v8h-8zM1036 1821h8v8h-8zM1044 1821h8v8h-8zM1052 1821h8v8h-8zM1060 1821h8v8h-8zM1068 1821h8v8h-8zM1076 1821h8v8h-8zM1084 1821h8v8h-8zM1092 1821h8v8h-8zM1100 1821h8v8h-8zM1108 1821h8v8h-8zM1132 1829h8v8h-8zM1148 1837h8v8h-8zM1204 1893h8v8h-8zM556 2085h8v8h-8zM556 2093h8v8h-8zM556 2101h8v8h-8zM556 2109h8v8h-8zM556 2117h8v8h-8zM556 2125h8v8h-8zM556 2133h8v8h-8zM556 2141h8v8h-8zM556 2149h8v8h-8zM556 2157h8v8h-8zM556 2165h8v8h-8zM556 2173h8v8h-8zM556 2181h8v8h-8zM1228 2189h8v8h-8zM564 2205h8v8h-8zM564 2213h8v8h-8zM564 2221h8v8h-8zM572 2229h8v8h-8zM1212 2229h8v8h-8zM572 2237h8v8h-8zM572 2245h8v8h-8zM580 2253h8v8h-8zM580 2261h8v8h-8zM588 2269h8v8h-8zM1188 2269h8v8h-8zM588 2277h8v8h-8zM596 2285h8v8h-8zM596 2293h8v8h-8zM604 2301h8v8h-8zM1164 2301h8v8h-8zM612 2309h8v8h-8zM1156 2309h8v8h-8zM1148 2317h8v8h-8zM620 2325h8v8h-8zM1140 2325h8v8h-8zM628 2333h8v8h-8zM1132 2333h8v8h-8zM636 2341h8v8h-8zM1124 2341h8v8h-8zM644 2349h8v8h-8zM1116 2349h8v8h-8z"/><path fill="#ffad00" d="M1092 1589h8v8h-8zM1124 1821h8v8h-8zM1140 1829h8v8h-8zM1164 1845h8v8h-8zM1196 1877h8v8h-8zM1212 1901h8v8h-8zM548 2181h8v8h-8zM548 2189h8v8h-8zM548 2197h8v8h-8zM548 2205h8v8h-8zM556 2221h8v8h-8zM1220 2221h8v8h-8zM556 2229h8v8h-8zM556 2237h8v8h-8zM1212 2237h8v8h-8zM564 2245h8v8h-8zM564 2253h8v8h-8zM572 2269h8v8h-8zM1188 2277h8v8h-8zM580 2285h8v8h-8zM1180 2285h8v8h-8zM588 2293h8v8h-8zM588 2301h8v8h-8zM596 2309h8v8h-8zM604 2317h8v8h-8zM1156 2317h8v8h-8zM1148 2325h8v8h-8zM612 2333h8v8h-8zM1140 2333h8v8h-8zM620 2341h8v8h-8zM1132 2341h8v8h-8zM628 2349h8v8h-8zM1124 2349h8v8h-8z"/><path fill="#ffc600" d="M1116 1589h8v8h-8zM1124 1701h8v8h-8zM1124 1741h8v8h-8zM1132 1749h8v8h-8zM1220 1845h8v8h-8zM332 2085h8v8h-8zM340 2085h8v8h-8zM332 2093h8v8h-8zM340 2093h8v8h-8zM332 2101h8v8h-8zM340 2101h8v8h-8zM332 2109h8v8h-8zM340 2109h8v8h-8zM332 2117h8v8h-8zM340 2117h8v8h-8zM332 2125h8v8h-8zM340 2125h8v8h-8zM332 2133h8v8h-8zM340 2133h8v8h-8zM332 2141h8v8h-8zM340 2141h8v8h-8zM332 2149h8v8h-8zM340 2149h8v8h-8zM332 2157h8v8h-8zM340 2157h8v8h-8zM332 2165h8v8h-8zM340 2165h8v8h-8zM332 2173h8v8h-8zM340 2173h8v8h-8zM332 2181h8v8h-8zM340 2181h8v8h-8zM340 2189h8v8h-8zM340 2197h8v8h-8zM340 2205h8v8h-8zM340 2213h8v8h-8zM340 2221h8v8h-8zM348 2221h8v8h-8zM340 2229h8v8h-8zM348 2229h8v8h-8zM348 2237h8v8h-8zM348 2245h8v8h-8zM348 2253h8v8h-8zM356 2253h8v8h-8zM348 2261h8v8h-8zM356 2261h8v8h-8zM356 2269h8v8h-8zM356 2277h8v8h-8zM364 2277h8v8h-8zM364 2285h8v8h-8zM364 2293h8v8h-8zM364 2301h8v8h-8zM372 2301h8v8h-8zM372 2309h8v8h-8zM372 2317h8v8h-8zM380 2317h8v8h-8zM1228 2317h8v8h-8zM380 2325h8v8h-8zM380 2333h8v8h-8zM388 2333h8v8h-8zM388 2341h8v8h-8zM1212 2341h8v8h-8zM396 2349h8v8h-8z"/><path fill="#ffce00" d="M1124 1589h8v8h-8zM1140 1653h8v8h-8zM1140 1661h8v8h-8zM1148 1725h8v8h-8zM1156 1741h8v8h-8zM1172 1765h8v8h-8zM1180 1773h8v8h-8zM1212 1813h8v8h-8zM1220 1821h8v8h-8zM244 2189h8v8h-8zM244 2197h8v8h-8zM244 2205h8v8h-8zM244 2213h8v8h-8zM244 2221h8v8h-8zM244 2229h8v8h-8zM244 2237h8v8h-8zM252 2237h8v8h-8zM244 2245h8v8h-8zM252 2245h8v8h-8zM244 2253h8v8h-8zM252 2253h8v8h-8zM252 2261h8v8h-8zM252 2269h8v8h-8zM260 2269h8v8h-8zM252 2277h8v8h-8zM260 2277h8v8h-8zM260 2285h8v8h-8zM260 2293h8v8h-8zM268 2293h8v8h-8zM260 2301h8v8h-8zM268 2301h8v8h-8zM268 2309h8v8h-8zM276 2309h8v8h-8zM268 2317h8v8h-8zM276 2317h8v8h-8zM276 2325h8v8h-8zM284 2325h8v8h-8zM276 2333h8v8h-8zM284 2333h8v8h-8zM284 2341h8v8h-8zM292 2341h8v8h-8zM284 2349h8v8h-8zM292 2349h8v8h-8z"/><path fill="#ffdc00" d="M1140 1589h8v8h-8zM1156 1629h8v8h-8zM1164 1661h8v8h-8zM1172 1693h8v8h-8zM1196 1741h8v8h-8zM1212 1765h8v8h-8zM1228 1789h8v8h-8z"/><path fill="#ffa700" d="M1084 1597h8v8h-8zM1060 1605h8v8h-8zM1068 1605h8v8h-8zM1076 1605h8v8h-8zM1028 1613h8v8h-8zM1036 1613h8v8h-8zM1044 1613h8v8h-8zM1060 1621h8v8h-8zM1108 1829h8v8h-8zM1148 1845h8v8h-8zM1196 1893h8v8h-8zM1212 1917h8v8h-8zM1220 1933h8v8h-8zM580 2085h8v8h-8zM580 2093h8v8h-8zM580 2101h8v8h-8zM580 2109h8v8h-8zM580 2117h8v8h-8zM580 2125h8v8h-8zM580 2133h8v8h-8zM580 2141h8v8h-8zM580 2149h8v8h-8zM580 2157h8v8h-8zM580 2165h8v8h-8zM580 2173h8v8h-8zM580 2181h8v8h-8zM580 2189h8v8h-8zM1220 2189h8v8h-8zM588 2205h8v8h-8zM588 2213h8v8h-8zM588 2221h8v8h-8zM596 2237h8v8h-8zM596 2245h8v8h-8zM604 2253h8v8h-8zM1188 2253h8v8h-8zM604 2261h8v8h-8zM612 2269h8v8h-8zM612 2277h8v8h-8zM1172 2277h8v8h-8zM620 2285h8v8h-8zM1164 2285h8v8h-8zM628 2301h8v8h-8zM636 2309h8v8h-8zM644 2317h8v8h-8zM652 2325h8v8h-8zM660 2333h8v8h-8zM668 2341h8v8h-8zM1108 2341h8v8h-8zM676 2349h8v8h-8zM1100 2349h8v8h-8z"/><path fill="#ffb000" d="M1100 1597h8v8h-8zM1116 1813h8v8h-8zM1140 1821h8v8h-8zM1164 1837h8v8h-8zM1172 1845h8v8h-8zM1180 1853h8v8h-8zM1188 1861h8v8h-8zM1196 1869h8v8h-8zM1212 1893h8v8h-8zM524 2085h8v8h-8zM524 2093h8v8h-8zM524 2101h8v8h-8zM524 2109h8v8h-8zM524 2117h8v8h-8zM524 2125h8v8h-8zM524 2133h8v8h-8zM524 2141h8v8h-8zM524 2149h8v8h-8zM524 2157h8v8h-8zM524 2165h8v8h-8zM524 2173h8v8h-8zM524 2181h8v8h-8zM524 2189h8v8h-8zM532 2205h8v8h-8zM532 2213h8v8h-8zM532 2221h8v8h-8zM540 2237h8v8h-8zM540 2245h8v8h-8zM548 2253h8v8h-8zM548 2261h8v8h-8zM1204 2261h8v8h-8zM548 2269h8v8h-8zM556 2277h8v8h-8zM1196 2277h8v8h-8zM556 2285h8v8h-8zM1188 2285h8v8h-8zM564 2293h8v8h-8zM572 2301h8v8h-8zM572 2309h8v8h-8zM1172 2309h8v8h-8zM580 2317h8v8h-8zM1164 2317h8v8h-8zM588 2325h8v8h-8zM1156 2325h8v8h-8zM588 2333h8v8h-8zM1148 2333h8v8h-8zM596 2341h8v8h-8zM1140 2341h8v8h-8zM604 2349h8v8h-8zM1132 2349h8v8h-8z"/><path fill="#ffa900" d="M1044 1605h8v8h-8zM1100 1613h8v8h-8zM1100 1621h8v8h-8zM1036 1629h8v8h-8zM1044 1629h8v8h-8zM1052 1629h8v8h-8zM1060 1629h8v8h-8zM1068 1629h8v8h-8zM1076 1629h8v8h-8zM1084 1629h8v8h-8zM1036 1637h8v8h-8zM1044 1637h8v8h-8zM1052 1637h8v8h-8zM1060 1637h8v8h-8zM1124 1829h8v8h-8zM1140 1837h8v8h-8zM1164 1853h8v8h-8zM1180 1869h8v8h-8zM1188 1877h8v8h-8zM572 2181h8v8h-8zM1228 2181h8v8h-8zM572 2189h8v8h-8zM572 2197h8v8h-8zM572 2205h8v8h-8zM580 2221h8v8h-8zM580 2229h8v8h-8zM588 2245h8v8h-8zM588 2253h8v8h-8zM596 2261h8v8h-8zM1188 2261h8v8h-8zM596 2269h8v8h-8zM604 2277h8v8h-8zM604 2285h8v8h-8zM612 2293h8v8h-8zM1164 2293h8v8h-8zM620 2301h8v8h-8zM1156 2301h8v8h-8zM628 2317h8v8h-8zM636 2325h8v8h-8zM644 2333h8v8h-8zM1124 2333h8v8h-8zM652 2341h8v8h-8zM1116 2341h8v8h-8zM660 2349h8v8h-8zM1108 2349h8v8h-8z"/><path fill="#ffa400" d="M1084 1605h8v8h-8zM1092 1605h8v8h-8zM1124 1837h8v8h-8zM1140 1845h8v8h-8zM1228 1965h8v8h-8zM596 2085h8v8h-8zM596 2093h8v8h-8zM596 2101h8v8h-8zM596 2109h8v8h-8zM596 2117h8v8h-8zM596 2125h8v8h-8zM596 2133h8v8h-8zM596 2141h8v8h-8zM596 2149h8v8h-8zM1228 2149h8v8h-8zM596 2157h8v8h-8zM596 2165h8v8h-8zM596 2173h8v8h-8zM596 2181h8v8h-8zM596 2189h8v8h-8zM1212 2197h8v8h-8zM604 2205h8v8h-8zM604 2213h8v8h-8zM1204 2213h8v8h-8zM604 2221h8v8h-8zM1196 2229h8v8h-8zM612 2237h8v8h-8zM620 2253h8v8h-8zM1180 2253h8v8h-8zM628 2269h8v8h-8zM1164 2277h8v8h-8zM636 2285h8v8h-8zM1156 2285h8v8h-8zM644 2293h8v8h-8zM652 2309h8v8h-8zM660 2317h8v8h-8zM668 2325h8v8h-8zM1116 2325h8v8h-8zM676 2333h8v8h-8zM1108 2333h8v8h-8zM684 2341h8v8h-8z"/><path fill="#ffb600" d="M1108 1605h8v8h-8zM1108 1797h8v8h-8zM1116 1797h8v8h-8zM1132 1805h8v8h-8zM1148 1813h8v8h-8zM1180 1837h8v8h-8zM1228 1901h8v8h-8zM476 2085h8v8h-8zM476 2093h8v8h-8zM476 2101h8v8h-8zM476 2109h8v8h-8zM476 2117h8v8h-8zM476 2125h8v8h-8zM476 2133h8v8h-8zM476 2141h8v8h-8zM476 2149h8v8h-8zM476 2157h8v8h-8zM476 2165h8v8h-8zM484 2173h8v8h-8zM484 2181h8v8h-8zM484 2189h8v8h-8zM484 2197h8v8h-8zM484 2205h8v8h-8zM484 2213h8v8h-8zM492 2221h8v8h-8zM492 2229h8v8h-8zM492 2237h8v8h-8zM492 2245h8v8h-8zM500 2245h8v8h-8zM1228 2245h8v8h-8zM500 2253h8v8h-8zM500 2261h8v8h-8zM1220 2261h8v8h-8zM508 2269h8v8h-8zM508 2277h8v8h-8zM1212 2277h8v8h-8zM516 2285h8v8h-8zM516 2293h8v8h-8zM524 2301h8v8h-8zM1196 2301h8v8h-8zM524 2309h8v8h-8zM1188 2309h8v8h-8zM532 2317h8v8h-8zM532 2325h8v8h-8zM540 2325h8v8h-8zM540 2333h8v8h-8zM548 2341h8v8h-8zM1164 2341h8v8h-8zM556 2349h8v8h-8zM1156 2349h8v8h-8z"/><path fill="#ffe300" d="M1156 1605h8v8h-8zM1164 1621h8v8h-8zM1172 1645h8v8h-8zM1180 1669h8v8h-8zM1188 1693h8v8h-8zM1196 1709h8v8h-8zM1204 1725h8v8h-8zM1220 1749h8v8h-8z"/><path fill="#ffa600" d="M1052 1613h8v8h-8zM1060 1613h8v8h-8zM1068 1613h8v8h-8zM1076 1613h8v8h-8zM1084 1613h8v8h-8zM1036 1621h8v8h-8zM1044 1621h8v8h-8zM1052 1621h8v8h-8zM1036 1829h8v8h-8zM1044 1829h8v8h-8zM1052 1829h8v8h-8zM1060 1829h8v8h-8zM1068 1829h8v8h-8zM1076 1829h8v8h-8zM1084 1829h8v8h-8zM1092 1829h8v8h-8zM1100 1829h8v8h-8zM1132 1837h8v8h-8zM1188 1885h8v8h-8zM1228 1957h8v8h-8zM1228 2165h8v8h-8zM588 2173h8v8h-8zM588 2181h8v8h-8zM588 2189h8v8h-8zM588 2197h8v8h-8zM1212 2205h8v8h-8zM596 2213h8v8h-8zM596 2221h8v8h-8zM1204 2221h8v8h-8zM596 2229h8v8h-8zM604 2237h8v8h-8zM1196 2237h8v8h-8zM604 2245h8v8h-8zM612 2261h8v8h-8zM1180 2261h8v8h-8zM620 2277h8v8h-8zM628 2285h8v8h-8zM628 2293h8v8h-8zM1156 2293h8v8h-8zM636 2301h8v8h-8zM1148 2301h8v8h-8zM644 2309h8v8h-8zM1140 2309h8v8h-8zM652 2317h8v8h-8zM1132 2317h8v8h-8zM1124 2325h8v8h-8zM1116 2333h8v8h-8zM684 2349h8v8h-8z"/><path fill="#ffa500" d="M1092 1613h8v8h-8zM1068 1637h8v8h-8zM1076 1637h8v8h-8zM1084 1637h8v8h-8zM1092 1637h8v8h-8zM1100 1637h8v8h-8zM1156 1853h8v8h-8zM1164 1861h8v8h-8zM1172 1869h8v8h-8zM1180 1877h8v8h-8zM1204 1909h8v8h-8zM1212 1925h8v8h-8zM1220 1941h8v8h-8zM588 2085h8v8h-8zM588 2093h8v8h-8zM588 2101h8v8h-8zM588 2109h8v8h-8zM588 2117h8v8h-8zM588 2125h8v8h-8zM588 2133h8v8h-8zM588 2141h8v8h-8zM588 2149h8v8h-8zM588 2157h8v8h-8zM1228 2157h8v8h-8zM588 2165h8v8h-8zM1220 2181h8v8h-8zM596 2197h8v8h-8zM596 2205h8v8h-8zM604 2229h8v8h-8zM612 2245h8v8h-8zM1188 2245h8v8h-8zM612 2253h8v8h-8zM620 2261h8v8h-8zM620 2269h8v8h-8zM1172 2269h8v8h-8zM628 2277h8v8h-8zM636 2293h8v8h-8zM644 2301h8v8h-8zM660 2325h8v8h-8zM668 2333h8v8h-8zM676 2341h8v8h-8zM1100 2341h8v8h-8zM692 2349h8v8h-8zM1092 2349h8v8h-8z"/><path fill="#ffa300" d="M1092 1629h8v8h-8zM1116 1837h8v8h-8zM1196 1901h8v8h-8zM1220 1949h8v8h-8zM1228 1973h8v8h-8zM1220 2173h8v8h-8zM604 2181h8v8h-8zM604 2189h8v8h-8zM604 2197h8v8h-8zM612 2221h8v8h-8zM612 2229h8v8h-8zM620 2237h8v8h-8zM1188 2237h8v8h-8zM620 2245h8v8h-8zM628 2261h8v8h-8zM1172 2261h8v8h-8zM636 2277h8v8h-8zM644 2285h8v8h-8zM1148 2293h8v8h-8zM652 2301h8v8h-8zM1140 2301h8v8h-8zM660 2309h8v8h-8zM1132 2309h8v8h-8zM668 2317h8v8h-8zM1124 2317h8v8h-8zM676 2325h8v8h-8zM684 2333h8v8h-8zM692 2341h8v8h-8zM1092 2341h8v8h-8zM700 2349h8v8h-8zM1084 2349h8v8h-8z"/><path fill="#ffa100" d="M1100 1629h8v8h-8zM1036 1837h8v8h-8zM1044 1837h8v8h-8zM1052 1837h8v8h-8zM1060 1837h8v8h-8zM1068 1837h8v8h-8zM1076 1837h8v8h-8zM1084 1837h8v8h-8zM1092 1837h8v8h-8zM1100 1837h8v8h-8zM1156 1861h8v8h-8zM1164 1869h8v8h-8zM1180 1885h8v8h-8zM1220 1957h8v8h-8zM1228 1981h8v8h-8zM1228 2133h8v8h-8zM612 2165h8v8h-8zM612 2173h8v8h-8zM612 2181h8v8h-8zM1212 2181h8v8h-8zM612 2189h8v8h-8zM620 2213h8v8h-8zM620 2221h8v8h-8zM1188 2229h8v8h-8zM628 2237h8v8h-8zM1180 2245h8v8h-8zM636 2253h8v8h-8zM644 2269h8v8h-8zM1156 2277h8v8h-8zM652 2285h8v8h-8zM1148 2285h8v8h-8zM660 2293h8v8h-8zM1140 2293h8v8h-8zM668 2301h8v8h-8zM1132 2301h8v8h-8zM1124 2309h8v8h-8zM1116 2317h8v8h-8zM1108 2325h8v8h-8zM708 2341h8v8h-8zM1084 2341h8v8h-8zM716 2349h8v8h-8z"/><path fill="#ffd000" d="M1140 1637h8v8h-8zM1148 1701h8v8h-8zM1148 1709h8v8h-8zM1156 1733h8v8h-8zM1172 1757h8v8h-8zM1204 1797h8v8h-8zM1212 1805h8v8h-8zM244 2309h8v8h-8zM244 2317h8v8h-8zM244 2325h8v8h-8zM252 2325h8v8h-8zM244 2333h8v8h-8zM252 2333h8v8h-8zM252 2341h8v8h-8zM260 2341h8v8h-8zM252 2349h8v8h-8zM260 2349h8v8h-8z"/><path fill="#ffe700" d="M1180 1645h8v8h-8zM1188 1669h8v8h-8zM1196 1685h8v8h-8zM1220 1733h8v8h-8z"/><path fill="#ffc800" d="M1132 1661h8v8h-8zM1132 1669h8v8h-8zM1132 1677h8v8h-8zM1132 1685h8v8h-8zM1132 1741h8v8h-8zM1140 1749h8v8h-8zM1212 1829h8v8h-8zM308 2085h8v8h-8zM316 2085h8v8h-8zM308 2093h8v8h-8zM316 2093h8v8h-8zM308 2101h8v8h-8zM316 2101h8v8h-8zM308 2109h8v8h-8zM316 2109h8v8h-8zM308 2117h8v8h-8zM316 2117h8v8h-8zM308 2125h8v8h-8zM316 2125h8v8h-8zM308 2133h8v8h-8zM316 2133h8v8h-8zM308 2141h8v8h-8zM316 2141h8v8h-8zM308 2149h8v8h-8zM316 2149h8v8h-8zM308 2157h8v8h-8zM316 2157h8v8h-8zM308 2165h8v8h-8zM316 2165h8v8h-8zM308 2173h8v8h-8zM316 2173h8v8h-8zM316 2181h8v8h-8zM316 2189h8v8h-8zM316 2197h8v8h-8zM316 2205h8v8h-8zM316 2213h8v8h-8zM324 2213h8v8h-8zM316 2221h8v8h-8zM324 2221h8v8h-8zM324 2229h8v8h-8zM324 2237h8v8h-8zM324 2245h8v8h-8zM324 2253h8v8h-8zM332 2253h8v8h-8zM332 2261h8v8h-8zM332 2269h8v8h-8zM332 2277h8v8h-8zM340 2277h8v8h-8zM340 2285h8v8h-8zM340 2293h8v8h-8zM348 2293h8v8h-8zM340 2301h8v8h-8zM348 2301h8v8h-8zM348 2309h8v8h-8zM348 2317h8v8h-8zM356 2317h8v8h-8zM356 2325h8v8h-8zM1228 2325h8v8h-8zM356 2333h8v8h-8zM364 2333h8v8h-8zM364 2341h8v8h-8zM372 2341h8v8h-8zM372 2349h8v8h-8zM1212 2349h8v8h-8z"/><path fill="#ffb700" d="M1036 1685h8v8h-8zM1044 1685h8v8h-8zM1052 1685h8v8h-8zM1060 1685h8v8h-8zM1068 1685h8v8h-8zM1076 1685h8v8h-8zM1084 1685h8v8h-8zM1092 1685h8v8h-8zM1100 1685h8v8h-8zM1124 1797h8v8h-8zM1140 1805h8v8h-8zM1164 1821h8v8h-8zM1172 1829h8v8h-8zM1188 1845h8v8h-8zM1196 1853h8v8h-8zM1204 1861h8v8h-8zM1220 1885h8v8h-8zM468 2085h8v8h-8zM468 2093h8v8h-8zM468 2101h8v8h-8zM468 2109h8v8h-8zM468 2117h8v8h-8zM468 2125h8v8h-8zM468 2133h8v8h-8zM468 2141h8v8h-8zM468 2149h8v8h-8zM468 2157h8v8h-8zM468 2165h8v8h-8zM476 2173h8v8h-8zM476 2181h8v8h-8zM476 2189h8v8h-8zM476 2197h8v8h-8zM476 2205h8v8h-8zM476 2213h8v8h-8zM484 2221h8v8h-8zM484 2229h8v8h-8zM484 2237h8v8h-8zM484 2245h8v8h-8zM492 2253h8v8h-8zM1228 2253h8v8h-8zM492 2261h8v8h-8zM500 2269h8v8h-8zM500 2277h8v8h-8zM500 2285h8v8h-8zM508 2285h8v8h-8zM508 2293h8v8h-8zM1204 2293h8v8h-8zM508 2301h8v8h-8zM516 2301h8v8h-8zM516 2309h8v8h-8zM524 2317h8v8h-8zM524 2325h8v8h-8zM1180 2325h8v8h-8zM532 2333h8v8h-8zM1172 2333h8v8h-8zM540 2341h8v8h-8zM540 2349h8v8h-8zM548 2349h8v8h-8z"/><path fill="#ffb200" d="M1036 1805h8v8h-8zM1044 1805h8v8h-8zM1052 1805h8v8h-8zM1060 1805h8v8h-8zM1068 1805h8v8h-8zM1076 1805h8v8h-8zM1084 1805h8v8h-8zM1092 1805h8v8h-8zM1100 1805h8v8h-8zM1108 1805h8v8h-8zM1132 1813h8v8h-8zM508 2085h8v8h-8zM508 2093h8v8h-8zM508 2101h8v8h-8zM508 2109h8v8h-8zM508 2117h8v8h-8zM508 2125h8v8h-8zM508 2133h8v8h-8zM508 2141h8v8h-8zM508 2149h8v8h-8zM508 2157h8v8h-8zM508 2165h8v8h-8zM508 2173h8v8h-8zM516 2189h8v8h-8zM516 2197h8v8h-8zM516 2205h8v8h-8zM516 2213h8v8h-8zM524 2229h8v8h-8zM524 2237h8v8h-8zM524 2245h8v8h-8zM1220 2245h8v8h-8zM532 2253h8v8h-8zM532 2261h8v8h-8zM540 2269h8v8h-8zM1204 2269h8v8h-8zM540 2277h8v8h-8zM548 2285h8v8h-8zM1196 2285h8v8h-8zM548 2293h8v8h-8zM1188 2293h8v8h-8zM556 2301h8v8h-8zM556 2309h8v8h-8zM564 2317h8v8h-8zM1172 2317h8v8h-8zM572 2325h8v8h-8zM1164 2325h8v8h-8zM572 2333h8v8h-8zM1156 2333h8v8h-8zM580 2341h8v8h-8zM1148 2341h8v8h-8zM588 2349h8v8h-8zM1140 2349h8v8h-8z"/><path fill="#ffa200" d="M1108 1837h8v8h-8zM1132 1845h8v8h-8zM1148 1853h8v8h-8zM1188 1893h8v8h-8zM1204 1917h8v8h-8zM1212 1933h8v8h-8zM604 2085h8v8h-8zM604 2093h8v8h-8zM604 2101h8v8h-8zM604 2109h8v8h-8zM604 2117h8v8h-8zM604 2125h8v8h-8zM604 2133h8v8h-8zM604 2141h8v8h-8zM1228 2141h8v8h-8zM604 2149h8v8h-8zM604 2157h8v8h-8zM604 2165h8v8h-8zM1220 2165h8v8h-8zM604 2173h8v8h-8zM1212 2189h8v8h-8zM612 2197h8v8h-8zM612 2205h8v8h-8zM1204 2205h8v8h-8zM612 2213h8v8h-8zM1196 2221h8v8h-8zM620 2229h8v8h-8zM628 2245h8v8h-8zM628 2253h8v8h-8zM636 2261h8v8h-8zM636 2269h8v8h-8zM1164 2269h8v8h-8zM644 2277h8v8h-8zM652 2293h8v8h-8zM660 2301h8v8h-8zM668 2309h8v8h-8zM676 2317h8v8h-8zM684 2325h8v8h-8zM692 2333h8v8h-8zM1100 2333h8v8h-8zM700 2341h8v8h-8zM708 2349h8v8h-8zM1076 2349h8v8h-8z"/><path fill="#ff9d00" d="M1036 1845h8v8h-8zM1044 1845h8v8h-8zM1052 1845h8v8h-8zM1060 1845h8v8h-8zM1068 1845h8v8h-8zM1076 1845h8v8h-8zM1084 1845h8v8h-8zM1092 1845h8v8h-8zM1100 1845h8v8h-8zM1108 1845h8v8h-8zM1132 1853h8v8h-8zM1156 1869h8v8h-8zM1164 1877h8v8h-8zM1172 1885h8v8h-8zM1204 1933h8v8h-8zM1220 1981h8v8h-8zM1228 2021h8v8h-8zM1228 2029h8v8h-8zM1228 2077h8v8h-8zM1228 2085h8v8h-8zM1228 2093h8v8h-8zM1220 2133h8v8h-8zM1212 2157h8v8h-8zM636 2173h8v8h-8zM636 2181h8v8h-8zM1204 2181h8v8h-8zM636 2189h8v8h-8zM636 2197h8v8h-8zM1196 2197h8v8h-8zM644 2213h8v8h-8zM1188 2213h8v8h-8zM644 2221h8v8h-8zM652 2237h8v8h-8zM1172 2237h8v8h-8zM652 2245h8v8h-8zM660 2253h8v8h-8zM1156 2261h8v8h-8zM668 2269h8v8h-8zM1148 2269h8v8h-8zM676 2277h8v8h-8zM684 2293h8v8h-8zM692 2301h8v8h-8zM700 2309h8v8h-8zM1108 2309h8v8h-8zM708 2317h8v8h-8zM1100 2317h8v8h-8zM716 2325h8v8h-8zM724 2333h8v8h-8zM1076 2333h8v8h-8zM740 2341h8v8h-8zM1068 2341h8v8h-8zM748 2349h8v8h-8zM1052 2349h8v8h-8z"/><path fill="#ff9e00" d="M1116 1845h8v8h-8zM1148 1861h8v8h-8zM1180 1893h8v8h-8zM1196 1917h8v8h-8zM1212 1949h8v8h-8zM1220 1973h8v8h-8zM1228 2005h8v8h-8zM1228 2013h8v8h-8zM628 2085h8v8h-8zM628 2093h8v8h-8zM628 2101h8v8h-8zM1228 2101h8v8h-8zM628 2109h8v8h-8zM628 2117h8v8h-8zM628 2125h8v8h-8zM628 2133h8v8h-8zM628 2141h8v8h-8zM1220 2141h8v8h-8zM628 2149h8v8h-8zM628 2157h8v8h-8zM628 2165h8v8h-8zM1212 2165h8v8h-8zM628 2173h8v8h-8zM628 2181h8v8h-8zM628 2189h8v8h-8zM636 2205h8v8h-8zM1196 2205h8v8h-8zM636 2213h8v8h-8zM636 2221h8v8h-8zM644 2229h8v8h-8zM1180 2229h8v8h-8zM644 2237h8v8h-8zM1172 2245h8v8h-8zM652 2253h8v8h-8zM1164 2253h8v8h-8zM660 2261h8v8h-8zM660 2269h8v8h-8zM668 2277h8v8h-8zM676 2285h8v8h-8zM1140 2285h8v8h-8zM676 2293h8v8h-8zM1132 2293h8v8h-8zM684 2301h8v8h-8zM1124 2301h8v8h-8zM692 2309h8v8h-8zM700 2317h8v8h-8zM708 2325h8v8h-8zM1092 2325h8v8h-8zM716 2333h8v8h-8zM1084 2333h8v8h-8zM732 2341h8v8h-8zM740 2349h8v8h-8zM1060 2349h8v8h-8z"/><path fill="#ffa000" d="M1124 1845h8v8h-8zM1172 1877h8v8h-8zM1196 1909h8v8h-8zM1204 1925h8v8h-8zM1212 1941h8v8h-8zM1228 1989h8v8h-8zM612 2085h8v8h-8zM612 2093h8v8h-8zM612 2101h8v8h-8zM612 2109h8v8h-8zM612 2117h8v8h-8zM612 2125h8v8h-8zM1228 2125h8v8h-8zM612 2133h8v8h-8zM612 2141h8v8h-8zM612 2149h8v8h-8zM612 2157h8v8h-8zM1220 2157h8v8h-8zM620 2189h8v8h-8zM620 2197h8v8h-8zM1204 2197h8v8h-8zM620 2205h8v8h-8zM1196 2213h8v8h-8zM628 2221h8v8h-8zM628 2229h8v8h-8zM636 2245h8v8h-8zM1172 2253h8v8h-8zM644 2261h8v8h-8zM1164 2261h8v8h-8zM652 2269h8v8h-8zM652 2277h8v8h-8zM660 2285h8v8h-8zM668 2293h8v8h-8zM676 2309h8v8h-8zM684 2317h8v8h-8zM692 2325h8v8h-8zM700 2333h8v8h-8zM1092 2333h8v8h-8zM716 2341h8v8h-8zM724 2349h8v8h-8zM1068 2349h8v8h-8z"/><path fill="#ff9800" d="M1036 1853h8v8h-8zM1044 1853h8v8h-8zM1052 1853h8v8h-8zM1060 1853h8v8h-8zM1068 1853h8v8h-8zM1076 1853h8v8h-8zM1084 1853h8v8h-8zM1092 1853h8v8h-8zM1100 1853h8v8h-8zM1180 1909h8v8h-8zM1204 1957h8v8h-8zM1212 1981h8v8h-8zM1220 2021h8v8h-8zM1220 2029h8v8h-8zM1220 2037h8v8h-8zM1220 2045h8v8h-8zM1220 2053h8v8h-8zM1220 2061h8v8h-8zM1220 2069h8v8h-8zM1220 2077h8v8h-8zM660 2085h8v8h-8zM660 2093h8v8h-8zM660 2101h8v8h-8zM660 2109h8v8h-8zM660 2117h8v8h-8zM660 2125h8v8h-8zM1212 2125h8v8h-8zM660 2133h8v8h-8zM660 2141h8v8h-8zM660 2149h8v8h-8zM1204 2149h8v8h-8zM660 2157h8v8h-8zM660 2165h8v8h-8zM660 2173h8v8h-8zM1196 2173h8v8h-8zM660 2181h8v8h-8zM660 2189h8v8h-8zM1188 2189h8v8h-8zM668 2205h8v8h-8zM1180 2205h8v8h-8zM668 2213h8v8h-8zM676 2229h8v8h-8zM1164 2229h8v8h-8zM684 2245h8v8h-8zM1148 2253h8v8h-8zM692 2261h8v8h-8zM1140 2261h8v8h-8zM700 2269h8v8h-8zM1132 2269h8v8h-8zM1124 2277h8v8h-8zM708 2285h8v8h-8zM1116 2285h8v8h-8zM716 2293h8v8h-8zM1108 2293h8v8h-8zM724 2301h8v8h-8zM1100 2301h8v8h-8zM732 2309h8v8h-8zM748 2317h8v8h-8zM1076 2317h8v8h-8zM756 2325h8v8h-8zM764 2333h8v8h-8zM1052 2333h8v8h-8zM780 2341h8v8h-8zM1036 2341h8v8h-8zM796 2349h8v8h-8zM1020 2349h8v8h-8z"/><path fill="#ff9900" d="M1108 1853h8v8h-8zM1132 1861h8v8h-8zM1196 1933h8v8h-8zM1204 1949h8v8h-8zM1212 1973h8v8h-8zM1220 2013h8v8h-8zM652 2085h8v8h-8zM1220 2085h8v8h-8zM652 2093h8v8h-8zM1220 2093h8v8h-8zM652 2101h8v8h-8zM652 2109h8v8h-8zM652 2117h8v8h-8zM652 2125h8v8h-8zM652 2133h8v8h-8zM1212 2133h8v8h-8zM652 2141h8v8h-8zM652 2149h8v8h-8zM652 2157h8v8h-8zM1204 2157h8v8h-8zM652 2165h8v8h-8zM652 2173h8v8h-8zM660 2197h8v8h-8zM660 2205h8v8h-8zM668 2221h8v8h-8zM1172 2221h8v8h-8zM668 2229h8v8h-8zM676 2237h8v8h-8zM676 2245h8v8h-8zM1156 2245h8v8h-8zM684 2253h8v8h-8zM692 2269h8v8h-8zM700 2277h8v8h-8zM1092 2309h8v8h-8zM740 2317h8v8h-8zM748 2325h8v8h-8zM1068 2325h8v8h-8zM756 2333h8v8h-8zM772 2341h8v8h-8zM1044 2341h8v8h-8zM788 2349h8v8h-8z"/><path fill="#ff9a00" d="M1116 1853h8v8h-8zM1148 1869h8v8h-8zM1156 1877h8v8h-8zM1164 1885h8v8h-8zM1172 1893h8v8h-8zM1188 1917h8v8h-8zM1220 1997h8v8h-8zM1220 2005h8v8h-8zM1220 2101h8v8h-8zM1212 2141h8v8h-8zM1204 2165h8v8h-8zM652 2181h8v8h-8zM1196 2181h8v8h-8zM652 2189h8v8h-8zM652 2197h8v8h-8zM1188 2197h8v8h-8zM660 2213h8v8h-8zM1180 2213h8v8h-8zM660 2221h8v8h-8zM668 2237h8v8h-8zM1164 2237h8v8h-8zM676 2253h8v8h-8zM684 2261h8v8h-8zM684 2269h8v8h-8zM1140 2269h8v8h-8zM692 2277h8v8h-8zM1132 2277h8v8h-8zM700 2285h8v8h-8zM1124 2285h8v8h-8zM708 2293h8v8h-8zM1116 2293h8v8h-8zM716 2301h8v8h-8zM1108 2301h8v8h-8zM724 2309h8v8h-8zM732 2317h8v8h-8zM1084 2317h8v8h-8zM740 2325h8v8h-8zM1076 2325h8v8h-8zM748 2333h8v8h-8zM1060 2333h8v8h-8zM764 2341h8v8h-8zM780 2349h8v8h-8zM1028 2349h8v8h-8z"/><path fill="#ff9b00" d="M1124 1853h8v8h-8zM1180 1901h8v8h-8zM1196 1925h8v8h-8zM1204 1941h8v8h-8zM1212 1965h8v8h-8zM1220 1989h8v8h-8zM644 2085h8v8h-8zM644 2093h8v8h-8zM644 2101h8v8h-8zM644 2109h8v8h-8zM1220 2109h8v8h-8zM644 2117h8v8h-8zM1220 2117h8v8h-8zM644 2125h8v8h-8zM644 2133h8v8h-8zM644 2141h8v8h-8zM644 2149h8v8h-8zM644 2157h8v8h-8zM644 2165h8v8h-8zM644 2173h8v8h-8zM644 2181h8v8h-8zM1196 2189h8v8h-8zM652 2205h8v8h-8zM1188 2205h8v8h-8zM652 2213h8v8h-8zM660 2229h8v8h-8zM1172 2229h8v8h-8zM660 2237h8v8h-8zM668 2245h8v8h-8zM668 2253h8v8h-8zM1156 2253h8v8h-8zM676 2261h8v8h-8zM1148 2261h8v8h-8zM684 2277h8v8h-8zM692 2285h8v8h-8zM700 2293h8v8h-8zM708 2301h8v8h-8zM716 2309h8v8h-8zM1100 2309h8v8h-8zM724 2317h8v8h-8zM1092 2317h8v8h-8zM732 2325h8v8h-8zM740 2333h8v8h-8zM1068 2333h8v8h-8zM756 2341h8v8h-8zM1052 2341h8v8h-8zM772 2349h8v8h-8zM1036 2349h8v8h-8z"/><path fill="#ff9f00" d="M1140 1853h8v8h-8zM1188 1901h8v8h-8zM1220 1965h8v8h-8zM1228 1997h8v8h-8zM620 2085h8v8h-8zM620 2093h8v8h-8zM620 2101h8v8h-8zM620 2109h8v8h-8zM1228 2109h8v8h-8zM620 2117h8v8h-8zM1228 2117h8v8h-8zM620 2125h8v8h-8zM620 2133h8v8h-8zM620 2141h8v8h-8zM620 2149h8v8h-8zM1220 2149h8v8h-8zM620 2157h8v8h-8zM620 2165h8v8h-8zM620 2173h8v8h-8zM1212 2173h8v8h-8zM620 2181h8v8h-8zM1204 2189h8v8h-8zM628 2197h8v8h-8zM628 2205h8v8h-8zM628 2213h8v8h-8zM1188 2221h8v8h-8zM636 2229h8v8h-8zM636 2237h8v8h-8zM1180 2237h8v8h-8zM644 2245h8v8h-8zM644 2253h8v8h-8zM652 2261h8v8h-8zM1156 2269h8v8h-8zM660 2277h8v8h-8zM1148 2277h8v8h-8zM668 2285h8v8h-8zM676 2301h8v8h-8zM684 2309h8v8h-8zM1116 2309h8v8h-8zM692 2317h8v8h-8zM1108 2317h8v8h-8zM700 2325h8v8h-8zM1100 2325h8v8h-8zM708 2333h8v8h-8zM724 2341h8v8h-8zM1076 2341h8v8h-8zM732 2349h8v8h-8z"/><path fill="#ff9300" d="M1036 1861h8v8h-8zM1044 1861h8v8h-8zM1052 1861h8v8h-8zM1060 1861h8v8h-8zM1068 1861h8v8h-8zM1076 1861h8v8h-8zM1084 1861h8v8h-8zM1092 1861h8v8h-8zM1100 1861h8v8h-8zM1108 1861h8v8h-8zM1140 1877h8v8h-8zM1164 1901h8v8h-8zM1196 1957h8v8h-8zM1204 1981h8v8h-8zM1212 2029h8v8h-8zM1212 2037h8v8h-8zM1212 2045h8v8h-8zM1212 2053h8v8h-8zM1212 2061h8v8h-8zM1212 2069h8v8h-8zM1204 2117h8v8h-8zM1196 2141h8v8h-8zM1188 2165h8v8h-8zM684 2173h8v8h-8zM684 2181h8v8h-8zM1180 2181h8v8h-8zM684 2189h8v8h-8zM1172 2197h8v8h-8zM692 2205h8v8h-8zM692 2213h8v8h-8zM1156 2221h8v8h-8zM700 2229h8v8h-8zM708 2245h8v8h-8zM1140 2245h8v8h-8zM716 2253h8v8h-8zM1132 2253h8v8h-8zM1124 2261h8v8h-8zM724 2269h8v8h-8zM1116 2269h8v8h-8zM732 2277h8v8h-8zM1108 2277h8v8h-8zM740 2285h8v8h-8zM1100 2285h8v8h-8zM748 2293h8v8h-8zM756 2301h8v8h-8zM1076 2301h8v8h-8zM780 2317h8v8h-8zM1052 2317h8v8h-8zM796 2325h8v8h-8zM1036 2325h8v8h-8zM812 2333h8v8h-8zM1020 2333h8v8h-8zM828 2341h8v8h-8zM836 2341h8v8h-8zM996 2341h8v8h-8zM860 2349h8v8h-8zM868 2349h8v8h-8zM956 2349h8v8h-8zM964 2349h8v8h-8z"/><path fill="#ff9500" d="M1116 1861h8v8h-8zM1180 1917h8v8h-8zM1196 1949h8v8h-8zM1212 2005h8v8h-8zM1212 2093h8v8h-8zM1204 2133h8v8h-8zM1196 2157h8v8h-8zM1188 2173h8v8h-8zM676 2181h8v8h-8zM676 2189h8v8h-8zM1180 2189h8v8h-8zM1172 2205h8v8h-8zM684 2213h8v8h-8zM692 2229h8v8h-8zM1156 2229h8v8h-8zM700 2245h8v8h-8zM708 2261h8v8h-8zM1132 2261h8v8h-8zM716 2269h8v8h-8zM1124 2269h8v8h-8zM724 2277h8v8h-8zM1116 2277h8v8h-8zM748 2301h8v8h-8zM1084 2301h8v8h-8zM756 2309h8v8h-8zM1076 2309h8v8h-8zM764 2317h8v8h-8zM1060 2317h8v8h-8zM780 2325h8v8h-8zM796 2333h8v8h-8zM812 2341h8v8h-8zM1012 2341h8v8h-8zM828 2349h8v8h-8zM836 2349h8v8h-8zM988 2349h8v8h-8z"/><path fill="#ff9700" d="M1124 1861h8v8h-8zM1140 1869h8v8h-8zM1172 1901h8v8h-8zM1188 1925h8v8h-8zM1196 1941h8v8h-8zM1212 1989h8v8h-8zM1212 2117h8v8h-8zM1204 2141h8v8h-8zM1196 2165h8v8h-8zM668 2181h8v8h-8zM668 2189h8v8h-8zM668 2197h8v8h-8zM676 2213h8v8h-8zM1172 2213h8v8h-8zM676 2221h8v8h-8zM684 2237h8v8h-8zM1156 2237h8v8h-8zM692 2253h8v8h-8zM700 2261h8v8h-8zM708 2277h8v8h-8zM716 2285h8v8h-8zM724 2293h8v8h-8zM732 2301h8v8h-8zM740 2309h8v8h-8zM1084 2309h8v8h-8zM764 2325h8v8h-8zM1060 2325h8v8h-8zM772 2333h8v8h-8zM780 2333h8v8h-8zM1044 2333h8v8h-8zM788 2341h8v8h-8zM1028 2341h8v8h-8zM804 2349h8v8h-8zM812 2349h8v8h-8zM1004 2349h8v8h-8zM1012 2349h8v8h-8z"/><path fill="#ff9c00" d="M1140 1861h8v8h-8zM1188 1909h8v8h-8zM1212 1957h8v8h-8zM1228 2037h8v8h-8zM1228 2045h8v8h-8zM1228 2053h8v8h-8zM1228 2061h8v8h-8zM1228 2069h8v8h-8zM636 2085h8v8h-8zM636 2093h8v8h-8zM636 2101h8v8h-8zM636 2109h8v8h-8zM636 2117h8v8h-8zM636 2125h8v8h-8zM1220 2125h8v8h-8zM636 2133h8v8h-8zM636 2141h8v8h-8zM636 2149h8v8h-8zM1212 2149h8v8h-8zM636 2157h8v8h-8zM636 2165h8v8h-8zM1204 2173h8v8h-8zM644 2189h8v8h-8zM644 2197h8v8h-8zM644 2205h8v8h-8zM652 2221h8v8h-8zM1180 2221h8v8h-8zM652 2229h8v8h-8zM660 2245h8v8h-8zM1164 2245h8v8h-8zM668 2261h8v8h-8zM676 2269h8v8h-8zM1140 2277h8v8h-8zM684 2285h8v8h-8zM1132 2285h8v8h-8zM692 2293h8v8h-8zM1124 2293h8v8h-8zM700 2301h8v8h-8zM1116 2301h8v8h-8zM708 2309h8v8h-8zM716 2317h8v8h-8zM724 2325h8v8h-8zM1084 2325h8v8h-8zM732 2333h8v8h-8zM748 2341h8v8h-8zM1060 2341h8v8h-8zM756 2349h8v8h-8zM764 2349h8v8h-8zM1044 2349h8v8h-8z"/><path fill="#ff8c00" d="M1036 1869h8v8h-8zM1044 1869h8v8h-8zM1052 1869h8v8h-8zM1060 1869h8v8h-8zM1068 1869h8v8h-8zM1076 1869h8v8h-8zM1084 1869h8v8h-8zM1092 1869h8v8h-8zM1100 1869h8v8h-8zM1124 1877h8v8h-8zM1164 1917h8v8h-8zM1188 1965h8v8h-8zM1196 1997h8v8h-8zM708 2085h8v8h-8zM708 2093h8v8h-8zM1196 2093h8v8h-8zM708 2101h8v8h-8zM708 2109h8v8h-8zM708 2117h8v8h-8zM708 2125h8v8h-8zM1188 2125h8v8h-8zM708 2133h8v8h-8zM708 2141h8v8h-8zM708 2149h8v8h-8zM1180 2149h8v8h-8zM708 2157h8v8h-8zM708 2165h8v8h-8zM1172 2165h8v8h-8zM1164 2181h8v8h-8zM716 2189h8v8h-8zM716 2197h8v8h-8zM1156 2197h8v8h-8zM724 2213h8v8h-8zM1140 2221h8v8h-8zM732 2229h8v8h-8zM1132 2229h8v8h-8zM1124 2237h8v8h-8zM740 2245h8v8h-8zM748 2253h8v8h-8zM1100 2261h8v8h-8zM1092 2269h8v8h-8zM780 2285h8v8h-8zM788 2293h8v8h-8zM1060 2293h8v8h-8zM804 2301h8v8h-8zM1044 2301h8v8h-8zM820 2309h8v8h-8zM1028 2309h8v8h-8zM836 2317h8v8h-8zM1004 2317h8v8h-8zM860 2325h8v8h-8zM980 2325h8v8h-8zM900 2333h8v8h-8zM908 2333h8v8h-8zM916 2333h8v8h-8zM924 2333h8v8h-8zM932 2333h8v8h-8zM940 2333h8v8h-8z"/><path fill="#ff8d00" d="M1108 1869h8v8h-8zM1180 1941h8v8h-8zM1196 1989h8v8h-8zM1196 2101h8v8h-8zM1188 2133h8v8h-8zM708 2173h8v8h-8zM1172 2173h8v8h-8zM708 2181h8v8h-8zM716 2205h8v8h-8zM1148 2213h8v8h-8zM724 2221h8v8h-8zM732 2237h8v8h-8zM740 2253h8v8h-8zM748 2261h8v8h-8zM756 2269h8v8h-8zM764 2277h8v8h-8zM1084 2277h8v8h-8zM772 2285h8v8h-8zM1076 2285h8v8h-8zM796 2301h8v8h-8zM812 2309h8v8h-8zM1036 2309h8v8h-8zM828 2317h8v8h-8zM1012 2317h8v8h-8zM844 2325h8v8h-8zM852 2325h8v8h-8zM988 2325h8v8h-8zM996 2325h8v8h-8zM876 2333h8v8h-8zM884 2333h8v8h-8zM892 2333h8v8h-8zM948 2333h8v8h-8zM956 2333h8v8h-8z"/><path fill="#ff8f00" d="M1116 1869h8v8h-8zM1140 1885h8v8h-8zM1156 1901h8v8h-8zM1164 1909h8v8h-8zM1196 1973h8v8h-8zM1204 2013h8v8h-8zM1204 2021h8v8h-8zM1204 2069h8v8h-8zM1204 2077h8v8h-8zM1196 2117h8v8h-8zM1180 2165h8v8h-8zM700 2173h8v8h-8zM700 2181h8v8h-8zM1172 2181h8v8h-8zM708 2205h8v8h-8zM716 2221h8v8h-8zM716 2229h8v8h-8zM1140 2229h8v8h-8zM724 2237h8v8h-8zM732 2253h8v8h-8zM740 2261h8v8h-8zM748 2269h8v8h-8zM756 2277h8v8h-8zM1092 2277h8v8h-8zM764 2285h8v8h-8zM1084 2285h8v8h-8zM772 2293h8v8h-8zM780 2301h8v8h-8zM1060 2301h8v8h-8zM796 2309h8v8h-8zM1044 2309h8v8h-8zM812 2317h8v8h-8zM1028 2317h8v8h-8zM828 2325h8v8h-8zM1012 2325h8v8h-8zM852 2333h8v8h-8zM980 2333h8v8h-8zM988 2333h8v8h-8zM892 2341h8v8h-8zM900 2341h8v8h-8zM908 2341h8v8h-8zM916 2341h8v8h-8zM924 2341h8v8h-8zM932 2341h8v8h-8zM940 2341h8v8h-8zM948 2341h8v8h-8z"/><path fill="#ff9200" d="M1124 1869h8v8h-8zM1148 1885h8v8h-8zM1156 1893h8v8h-8zM1180 1925h8v8h-8zM1188 1941h8v8h-8zM1204 1989h8v8h-8zM684 2085h8v8h-8zM684 2093h8v8h-8zM684 2101h8v8h-8zM684 2109h8v8h-8zM1204 2109h8v8h-8zM684 2117h8v8h-8zM684 2125h8v8h-8zM684 2133h8v8h-8zM684 2141h8v8h-8zM684 2149h8v8h-8zM684 2157h8v8h-8zM1188 2157h8v8h-8zM684 2165h8v8h-8zM692 2189h8v8h-8zM692 2197h8v8h-8zM1164 2205h8v8h-8zM700 2221h8v8h-8zM1148 2229h8v8h-8zM708 2237h8v8h-8zM724 2261h8v8h-8zM732 2269h8v8h-8zM740 2277h8v8h-8zM748 2285h8v8h-8zM756 2293h8v8h-8zM1084 2293h8v8h-8zM764 2301h8v8h-8zM772 2309h8v8h-8zM1060 2309h8v8h-8zM788 2317h8v8h-8zM1044 2317h8v8h-8zM804 2325h8v8h-8zM1028 2325h8v8h-8zM820 2333h8v8h-8zM1012 2333h8v8h-8zM844 2341h8v8h-8zM980 2341h8v8h-8zM988 2341h8v8h-8zM876 2349h8v8h-8zM884 2349h8v8h-8zM892 2349h8v8h-8zM900 2349h8v8h-8zM924 2349h8v8h-8zM932 2349h8v8h-8zM940 2349h8v8h-8zM948 2349h8v8h-8z"/><path fill="#ff9400" d="M1132 1869h8v8h-8zM1172 1909h8v8h-8zM1188 1933h8v8h-8zM1204 1973h8v8h-8zM1212 2013h8v8h-8zM1212 2021h8v8h-8zM1212 2077h8v8h-8zM676 2085h8v8h-8zM1212 2085h8v8h-8zM676 2093h8v8h-8zM676 2101h8v8h-8zM676 2109h8v8h-8zM676 2117h8v8h-8zM676 2125h8v8h-8zM1204 2125h8v8h-8zM676 2133h8v8h-8zM676 2141h8v8h-8zM676 2149h8v8h-8zM1196 2149h8v8h-8zM676 2157h8v8h-8zM676 2165h8v8h-8zM676 2173h8v8h-8zM684 2197h8v8h-8zM684 2205h8v8h-8zM1164 2213h8v8h-8zM692 2221h8v8h-8zM700 2237h8v8h-8zM1148 2237h8v8h-8zM708 2253h8v8h-8zM716 2261h8v8h-8zM732 2285h8v8h-8zM740 2293h8v8h-8zM1092 2293h8v8h-8zM764 2309h8v8h-8zM1068 2309h8v8h-8zM772 2317h8v8h-8zM788 2325h8v8h-8zM1044 2325h8v8h-8zM804 2333h8v8h-8zM1028 2333h8v8h-8zM820 2341h8v8h-8zM1004 2341h8v8h-8zM844 2349h8v8h-8zM852 2349h8v8h-8zM972 2349h8v8h-8zM980 2349h8v8h-8z"/><path fill="#ff8600" d="M1036 1877h8v8h-8zM1044 1877h8v8h-8zM1052 1877h8v8h-8zM1060 1877h8v8h-8zM1068 1877h8v8h-8zM1076 1877h8v8h-8zM1084 1877h8v8h-8zM1092 1877h8v8h-8zM1100 1877h8v8h-8zM1180 1973h8v8h-8zM1188 2013h8v8h-8zM1188 2021h8v8h-8zM1188 2061h8v8h-8zM1188 2069h8v8h-8zM732 2085h8v8h-8zM732 2093h8v8h-8zM732 2101h8v8h-8zM732 2109h8v8h-8zM1180 2109h8v8h-8zM732 2117h8v8h-8zM732 2125h8v8h-8zM732 2133h8v8h-8zM1172 2133h8v8h-8zM732 2141h8v8h-8zM732 2149h8v8h-8zM732 2157h8v8h-8zM1148 2181h8v8h-8zM740 2189h8v8h-8zM1140 2197h8v8h-8zM1132 2205h8v8h-8zM748 2213h8v8h-8zM756 2221h8v8h-8zM764 2237h8v8h-8zM772 2245h8v8h-8zM780 2253h8v8h-8zM788 2261h8v8h-8zM1076 2261h8v8h-8zM796 2269h8v8h-8zM804 2277h8v8h-8zM1052 2277h8v8h-8zM820 2285h8v8h-8zM1036 2285h8v8h-8zM836 2293h8v8h-8zM1020 2293h8v8h-8zM852 2301h8v8h-8zM860 2301h8v8h-8zM996 2301h8v8h-8zM884 2309h8v8h-8zM892 2309h8v8h-8zM956 2309h8v8h-8zM964 2309h8v8h-8zM972 2309h8v8h-8z"/><path fill="#ff8700" d="M1108 1877h8v8h-8zM1132 1893h8v8h-8zM1140 1901h8v8h-8zM1148 1909h8v8h-8zM1164 1933h8v8h-8zM1172 1949h8v8h-8zM1188 1997h8v8h-8zM1188 2005h8v8h-8zM1188 2077h8v8h-8zM1188 2085h8v8h-8zM1180 2117h8v8h-8zM1172 2141h8v8h-8zM1164 2157h8v8h-8zM732 2165h8v8h-8zM732 2173h8v8h-8zM1156 2173h8v8h-8zM732 2181h8v8h-8zM1148 2189h8v8h-8zM740 2197h8v8h-8zM740 2205h8v8h-8zM748 2221h8v8h-8zM1124 2221h8v8h-8zM756 2229h8v8h-8zM1116 2229h8v8h-8zM1108 2237h8v8h-8zM764 2245h8v8h-8zM1100 2245h8v8h-8zM772 2253h8v8h-8zM1092 2253h8v8h-8zM780 2261h8v8h-8zM788 2269h8v8h-8zM1068 2269h8v8h-8zM1060 2277h8v8h-8zM812 2285h8v8h-8zM1044 2285h8v8h-8zM828 2293h8v8h-8zM1028 2293h8v8h-8zM844 2301h8v8h-8zM1004 2301h8v8h-8zM868 2309h8v8h-8zM876 2309h8v8h-8zM980 2309h8v8h-8zM916 2317h8v8h-8zM924 2317h8v8h-8zM932 2317h8v8h-8z"/><path fill="#ff8a00" d="M1116 1877h8v8h-8zM1140 1893h8v8h-8zM1196 2013h8v8h-8zM1196 2021h8v8h-8zM1196 2029h8v8h-8zM1196 2037h8v8h-8zM1196 2045h8v8h-8zM1196 2053h8v8h-8zM1196 2061h8v8h-8zM1196 2069h8v8h-8zM716 2085h8v8h-8zM716 2093h8v8h-8zM716 2101h8v8h-8zM716 2109h8v8h-8zM1188 2109h8v8h-8zM716 2117h8v8h-8zM716 2125h8v8h-8zM716 2133h8v8h-8zM716 2141h8v8h-8zM716 2149h8v8h-8zM716 2157h8v8h-8zM1172 2157h8v8h-8zM716 2165h8v8h-8zM1164 2173h8v8h-8zM724 2189h8v8h-8zM1156 2189h8v8h-8zM724 2197h8v8h-8zM732 2213h8v8h-8zM1140 2213h8v8h-8zM1132 2221h8v8h-8zM740 2229h8v8h-8zM756 2253h8v8h-8zM764 2261h8v8h-8zM1092 2261h8v8h-8zM772 2269h8v8h-8zM1084 2269h8v8h-8zM780 2277h8v8h-8zM1060 2285h8v8h-8zM804 2293h8v8h-8zM1044 2293h8v8h-8zM820 2301h8v8h-8zM1028 2301h8v8h-8zM836 2309h8v8h-8zM1012 2309h8v8h-8zM852 2317h8v8h-8zM860 2317h8v8h-8zM988 2317h8v8h-8zM892 2325h8v8h-8zM900 2325h8v8h-8zM908 2325h8v8h-8zM916 2325h8v8h-8zM924 2325h8v8h-8zM932 2325h8v8h-8zM940 2325h8v8h-8zM948 2325h8v8h-8z"/><path fill="#ff9000" d="M1132 1877h8v8h-8zM1180 1933h8v8h-8zM1188 1949h8v8h-8zM1204 2005h8v8h-8zM692 2085h8v8h-8zM1204 2085h8v8h-8zM692 2093h8v8h-8zM1204 2093h8v8h-8zM692 2101h8v8h-8zM692 2109h8v8h-8zM692 2117h8v8h-8zM692 2125h8v8h-8zM1196 2125h8v8h-8zM692 2133h8v8h-8zM692 2141h8v8h-8zM692 2149h8v8h-8zM1188 2149h8v8h-8zM692 2157h8v8h-8zM692 2165h8v8h-8zM700 2189h8v8h-8zM700 2197h8v8h-8zM1164 2197h8v8h-8zM708 2213h8v8h-8zM1156 2213h8v8h-8zM708 2221h8v8h-8zM1148 2221h8v8h-8zM716 2237h8v8h-8zM724 2245h8v8h-8zM1124 2253h8v8h-8zM732 2261h8v8h-8zM1116 2261h8v8h-8zM740 2269h8v8h-8zM748 2277h8v8h-8zM756 2285h8v8h-8zM764 2293h8v8h-8zM1076 2293h8v8h-8zM788 2309h8v8h-8zM1052 2309h8v8h-8zM804 2317h8v8h-8zM1036 2317h8v8h-8zM820 2325h8v8h-8zM836 2333h8v8h-8zM844 2333h8v8h-8zM996 2333h8v8h-8zM868 2341h8v8h-8zM876 2341h8v8h-8zM884 2341h8v8h-8zM956 2341h8v8h-8zM964 2341h8v8h-8z"/><path fill="#ff9600" d="M1148 1877h8v8h-8zM1156 1885h8v8h-8zM1164 1893h8v8h-8zM1204 1965h8v8h-8zM1212 1997h8v8h-8zM668 2085h8v8h-8zM668 2093h8v8h-8zM668 2101h8v8h-8zM1212 2101h8v8h-8zM668 2109h8v8h-8zM1212 2109h8v8h-8zM668 2117h8v8h-8zM668 2125h8v8h-8zM668 2133h8v8h-8zM668 2141h8v8h-8zM668 2149h8v8h-8zM668 2157h8v8h-8zM668 2165h8v8h-8zM668 2173h8v8h-8zM1188 2181h8v8h-8zM676 2197h8v8h-8zM1180 2197h8v8h-8zM676 2205h8v8h-8zM684 2221h8v8h-8zM1164 2221h8v8h-8zM684 2229h8v8h-8zM692 2237h8v8h-8zM692 2245h8v8h-8zM1148 2245h8v8h-8zM700 2253h8v8h-8zM1140 2253h8v8h-8zM708 2269h8v8h-8zM716 2277h8v8h-8zM724 2285h8v8h-8zM1108 2285h8v8h-8zM732 2293h8v8h-8zM1100 2293h8v8h-8zM740 2301h8v8h-8zM1092 2301h8v8h-8zM748 2309h8v8h-8zM756 2317h8v8h-8zM1068 2317h8v8h-8zM772 2325h8v8h-8zM1052 2325h8v8h-8zM788 2333h8v8h-8zM1036 2333h8v8h-8zM796 2341h8v8h-8zM804 2341h8v8h-8zM1020 2341h8v8h-8zM820 2349h8v8h-8zM996 2349h8v8h-8z"/><path fill="#ff7f00" d="M1036 1885h8v8h-8zM1044 1885h8v8h-8zM1052 1885h8v8h-8zM1060 1885h8v8h-8zM1068 1885h8v8h-8zM1076 1885h8v8h-8zM1084 1885h8v8h-8zM1092 1885h8v8h-8zM1100 1885h8v8h-8zM1116 1893h8v8h-8zM1124 1901h8v8h-8zM1132 1909h8v8h-8zM1172 1989h8v8h-8zM756 2085h8v8h-8zM1172 2085h8v8h-8zM756 2093h8v8h-8zM756 2101h8v8h-8zM756 2109h8v8h-8zM756 2117h8v8h-8zM1164 2117h8v8h-8zM756 2125h8v8h-8zM756 2133h8v8h-8zM756 2141h8v8h-8zM756 2149h8v8h-8zM756 2157h8v8h-8zM764 2181h8v8h-8zM1132 2181h8v8h-8zM764 2189h8v8h-8zM772 2205h8v8h-8zM788 2229h8v8h-8zM796 2237h8v8h-8zM804 2245h8v8h-8zM1068 2245h8v8h-8zM812 2253h8v8h-8zM1044 2261h8v8h-8zM836 2269h8v8h-8zM1028 2269h8v8h-8zM852 2277h8v8h-8zM1012 2277h8v8h-8zM876 2285h8v8h-8zM884 2285h8v8h-8zM980 2285h8v8h-8zM988 2285h8v8h-8zM932 2293h8v8h-8z"/><path fill="#ff8100" d="M1108 1885h8v8h-8zM1148 1925h8v8h-8zM1172 1973h8v8h-8zM1180 2013h8v8h-8zM1180 2021h8v8h-8zM1180 2029h8v8h-8zM1180 2037h8v8h-8zM1180 2045h8v8h-8zM1180 2053h8v8h-8zM1180 2061h8v8h-8zM1172 2101h8v8h-8zM1164 2125h8v8h-8zM756 2181h8v8h-8zM1132 2189h8v8h-8zM1124 2197h8v8h-8zM764 2205h8v8h-8zM780 2229h8v8h-8zM788 2237h8v8h-8zM796 2245h8v8h-8zM1076 2245h8v8h-8zM804 2253h8v8h-8zM1068 2253h8v8h-8zM812 2261h8v8h-8zM1052 2261h8v8h-8zM828 2269h8v8h-8zM860 2285h8v8h-8zM1004 2285h8v8h-8zM884 2293h8v8h-8zM892 2293h8v8h-8zM972 2293h8v8h-8z"/><path fill="#ff8400" d="M1116 1885h8v8h-8zM1148 1917h8v8h-8zM1164 1941h8v8h-8zM1180 1989h8v8h-8zM740 2085h8v8h-8zM740 2093h8v8h-8zM1180 2093h8v8h-8zM740 2101h8v8h-8zM740 2109h8v8h-8zM740 2117h8v8h-8zM740 2125h8v8h-8zM1172 2125h8v8h-8zM740 2133h8v8h-8zM740 2141h8v8h-8zM1164 2141h8v8h-8zM740 2149h8v8h-8zM740 2157h8v8h-8zM740 2165h8v8h-8zM1148 2173h8v8h-8zM748 2189h8v8h-8zM1140 2189h8v8h-8zM1132 2197h8v8h-8zM756 2213h8v8h-8zM764 2221h8v8h-8zM772 2237h8v8h-8zM780 2245h8v8h-8zM788 2253h8v8h-8zM796 2261h8v8h-8zM1068 2261h8v8h-8zM820 2277h8v8h-8zM1044 2277h8v8h-8zM836 2285h8v8h-8zM1028 2285h8v8h-8zM852 2293h8v8h-8zM1004 2293h8v8h-8zM876 2301h8v8h-8zM884 2301h8v8h-8zM972 2301h8v8h-8zM980 2301h8v8h-8z"/><path fill="#ff8800" d="M1124 1885h8v8h-8zM1156 1917h8v8h-8zM1180 1965h8v8h-8zM1188 1989h8v8h-8zM724 2085h8v8h-8zM724 2093h8v8h-8zM1188 2093h8v8h-8zM724 2101h8v8h-8zM724 2109h8v8h-8zM724 2117h8v8h-8zM724 2125h8v8h-8zM1180 2125h8v8h-8zM724 2133h8v8h-8zM724 2141h8v8h-8zM724 2149h8v8h-8zM724 2157h8v8h-8zM1164 2165h8v8h-8zM732 2189h8v8h-8zM1140 2205h8v8h-8zM740 2213h8v8h-8zM1132 2213h8v8h-8zM748 2229h8v8h-8zM756 2237h8v8h-8zM1084 2261h8v8h-8zM1076 2269h8v8h-8zM796 2277h8v8h-8zM804 2285h8v8h-8zM1052 2285h8v8h-8zM820 2293h8v8h-8zM1036 2293h8v8h-8zM836 2301h8v8h-8zM1012 2301h8v8h-8zM852 2309h8v8h-8zM860 2309h8v8h-8zM988 2309h8v8h-8zM996 2309h8v8h-8zM884 2317h8v8h-8zM892 2317h8v8h-8zM900 2317h8v8h-8zM908 2317h8v8h-8zM940 2317h8v8h-8zM948 2317h8v8h-8zM956 2317h8v8h-8zM964 2317h8v8h-8z"/><path fill="#ff8b00" d="M1132 1885h8v8h-8zM1148 1901h8v8h-8zM1156 1909h8v8h-8zM1172 1933h8v8h-8zM1180 1949h8v8h-8zM1188 1973h8v8h-8zM1196 2005h8v8h-8zM1196 2077h8v8h-8zM1196 2085h8v8h-8zM1188 2117h8v8h-8zM1180 2141h8v8h-8zM716 2173h8v8h-8zM716 2181h8v8h-8zM724 2205h8v8h-8zM1148 2205h8v8h-8zM732 2221h8v8h-8zM740 2237h8v8h-8zM748 2245h8v8h-8zM1116 2245h8v8h-8zM1108 2253h8v8h-8zM756 2261h8v8h-8zM764 2269h8v8h-8zM772 2277h8v8h-8zM1076 2277h8v8h-8zM788 2285h8v8h-8zM1068 2285h8v8h-8zM796 2293h8v8h-8zM1052 2293h8v8h-8zM812 2301h8v8h-8zM1036 2301h8v8h-8zM828 2309h8v8h-8zM1020 2309h8v8h-8zM844 2317h8v8h-8zM996 2317h8v8h-8zM868 2325h8v8h-8zM876 2325h8v8h-8zM884 2325h8v8h-8zM956 2325h8v8h-8zM964 2325h8v8h-8zM972 2325h8v8h-8z"/><path fill="#ff7500" d="M1036 1893h8v8h-8zM1044 1893h8v8h-8zM1116 1909h8v8h-8zM1036 1917h8v8h-8zM1044 1917h8v8h-8zM1052 1917h8v8h-8zM1060 1917h8v8h-8zM1068 1917h8v8h-8zM1076 1917h8v8h-8zM1084 1917h8v8h-8zM1092 1917h8v8h-8zM1100 1917h8v8h-8zM1124 1917h8v8h-8zM1156 1973h8v8h-8zM1164 2013h8v8h-8zM1164 2045h8v8h-8zM1164 2053h8v8h-8zM780 2165h8v8h-8zM1124 2165h8v8h-8zM788 2189h8v8h-8zM804 2213h8v8h-8zM828 2237h8v8h-8zM1036 2245h8v8h-8zM852 2253h8v8h-8zM1020 2253h8v8h-8zM900 2269h8v8h-8zM908 2269h8v8h-8zM964 2269h8v8h-8z"/><path fill="#ff7400" d="M1052 1893h8v8h-8zM1060 1893h8v8h-8zM1068 1893h8v8h-8zM1076 1893h8v8h-8zM1084 1893h8v8h-8zM1092 1893h8v8h-8zM1100 1893h8v8h-8zM1164 2021h8v8h-8zM1164 2029h8v8h-8zM1164 2037h8v8h-8zM780 2085h8v8h-8zM780 2093h8v8h-8zM1156 2093h8v8h-8zM780 2101h8v8h-8zM780 2109h8v8h-8zM780 2117h8v8h-8zM1148 2117h8v8h-8zM780 2125h8v8h-8zM780 2133h8v8h-8zM780 2141h8v8h-8zM780 2149h8v8h-8zM1132 2149h8v8h-8zM780 2157h8v8h-8zM812 2221h8v8h-8zM820 2229h8v8h-8zM1060 2229h8v8h-8zM844 2245h8v8h-8zM876 2261h8v8h-8zM996 2261h8v8h-8zM916 2269h8v8h-8zM924 2269h8v8h-8zM948 2269h8v8h-8zM956 2269h8v8h-8z"/><path fill="#ff7900" d="M1108 1893h8v8h-8zM1164 1989h8v8h-8zM772 2085h8v8h-8zM772 2093h8v8h-8zM772 2101h8v8h-8zM772 2109h8v8h-8zM1156 2109h8v8h-8zM772 2117h8v8h-8zM772 2125h8v8h-8zM772 2133h8v8h-8zM772 2141h8v8h-8zM772 2149h8v8h-8zM1140 2149h8v8h-8zM772 2157h8v8h-8zM1124 2173h8v8h-8zM780 2189h8v8h-8zM1060 2237h8v8h-8zM828 2245h8v8h-8zM1036 2253h8v8h-8zM852 2261h8v8h-8zM876 2269h8v8h-8zM996 2269h8v8h-8zM908 2277h8v8h-8zM916 2277h8v8h-8zM948 2277h8v8h-8zM956 2277h8v8h-8z"/><path fill="#ff8300" d="M1124 1893h8v8h-8zM1132 1901h8v8h-8zM1140 1909h8v8h-8zM1172 1965h8v8h-8zM1180 1997h8v8h-8zM1180 2085h8v8h-8zM1172 2117h8v8h-8zM1156 2157h8v8h-8zM748 2173h8v8h-8zM748 2181h8v8h-8zM756 2197h8v8h-8zM756 2205h8v8h-8zM1124 2205h8v8h-8zM772 2229h8v8h-8zM780 2237h8v8h-8zM1084 2245h8v8h-8zM1076 2253h8v8h-8zM804 2261h8v8h-8zM812 2269h8v8h-8zM1052 2269h8v8h-8zM828 2277h8v8h-8zM1036 2277h8v8h-8zM844 2285h8v8h-8zM1020 2285h8v8h-8zM860 2293h8v8h-8zM996 2293h8v8h-8zM892 2301h8v8h-8zM900 2301h8v8h-8zM908 2301h8v8h-8zM948 2301h8v8h-8zM956 2301h8v8h-8zM964 2301h8v8h-8z"/><path fill="#ff8e00" d="M1148 1893h8v8h-8zM1172 1925h8v8h-8zM1188 1957h8v8h-8zM1196 1981h8v8h-8zM1204 2029h8v8h-8zM1204 2037h8v8h-8zM1204 2045h8v8h-8zM1204 2053h8v8h-8zM1204 2061h8v8h-8zM700 2085h8v8h-8zM700 2093h8v8h-8zM700 2101h8v8h-8zM700 2109h8v8h-8zM1196 2109h8v8h-8zM700 2117h8v8h-8zM700 2125h8v8h-8zM700 2133h8v8h-8zM700 2141h8v8h-8zM1188 2141h8v8h-8zM700 2149h8v8h-8zM700 2157h8v8h-8zM1180 2157h8v8h-8zM700 2165h8v8h-8zM708 2189h8v8h-8zM1164 2189h8v8h-8zM708 2197h8v8h-8zM1156 2205h8v8h-8zM716 2213h8v8h-8zM724 2229h8v8h-8zM1132 2237h8v8h-8zM732 2245h8v8h-8zM1124 2245h8v8h-8zM1116 2253h8v8h-8zM1108 2261h8v8h-8zM1100 2269h8v8h-8zM780 2293h8v8h-8zM1068 2293h8v8h-8zM788 2301h8v8h-8zM1052 2301h8v8h-8zM804 2309h8v8h-8zM820 2317h8v8h-8zM1020 2317h8v8h-8zM836 2325h8v8h-8zM1004 2325h8v8h-8zM860 2333h8v8h-8zM868 2333h8v8h-8zM964 2333h8v8h-8zM972 2333h8v8h-8z"/><path fill="#ff7a00" d="M1036 1901h8v8h-8zM1044 1901h8v8h-8zM1052 1901h8v8h-8zM1060 1901h8v8h-8zM1116 1901h8v8h-8zM1036 1909h8v8h-8zM1044 1909h8v8h-8zM1052 1909h8v8h-8zM1060 1909h8v8h-8zM1068 1909h8v8h-8zM1076 1909h8v8h-8zM1084 1909h8v8h-8zM1092 1909h8v8h-8zM1148 1941h8v8h-8zM1156 1957h8v8h-8zM1164 1981h8v8h-8zM1164 2085h8v8h-8zM1148 2133h8v8h-8zM772 2165h8v8h-8zM1132 2165h8v8h-8zM1108 2197h8v8h-8zM788 2205h8v8h-8zM1100 2205h8v8h-8zM1092 2213h8v8h-8zM1084 2221h8v8h-8zM1052 2245h8v8h-8zM836 2253h8v8h-8zM1020 2261h8v8h-8zM868 2269h8v8h-8zM900 2277h8v8h-8zM964 2277h8v8h-8zM972 2277h8v8h-8z"/><path fill="#ff7600" d="M1068 1901h8v8h-8zM1076 1901h8v8h-8zM1132 1925h8v8h-8zM1148 1949h8v8h-8zM1164 2005h8v8h-8zM1164 2061h8v8h-8zM1156 2101h8v8h-8zM1140 2141h8v8h-8zM780 2173h8v8h-8zM1108 2189h8v8h-8zM1100 2197h8v8h-8zM796 2205h8v8h-8zM1092 2205h8v8h-8zM1084 2213h8v8h-8zM1076 2221h8v8h-8zM1052 2237h8v8h-8zM836 2245h8v8h-8zM868 2261h8v8h-8zM1004 2261h8v8h-8zM892 2269h8v8h-8zM972 2269h8v8h-8z"/><path fill="#ff6600" d="M1084 1901h8v8h-8zM1092 1901h8v8h-8zM1100 1901h8v8h-8zM1140 1965h8v8h-8zM1148 1997h8v8h-8zM1148 2061h8v8h-8zM1140 2093h8v8h-8zM1108 2157h8v8h-8zM820 2197h8v8h-8zM828 2205h8v8h-8zM836 2213h8v8h-8zM860 2229h8v8h-8zM876 2237h8v8h-8zM1004 2237h8v8h-8zM900 2245h8v8h-8z"/><path fill="#ff7000" d="M1108 1901h8v8h-8zM1116 1917h8v8h-8zM1156 1989h8v8h-8zM1156 2069h8v8h-8zM1148 2101h8v8h-8zM1132 2141h8v8h-8zM788 2165h8v8h-8zM1116 2165h8v8h-8zM1036 2237h8v8h-8zM1020 2245h8v8h-8zM876 2253h8v8h-8zM900 2261h8v8h-8zM908 2261h8v8h-8zM964 2261h8v8h-8zM972 2261h8v8h-8z"/><path fill="#ff7300" d="M1100 1909h8v8h-8zM1156 2085h8v8h-8zM1140 2133h8v8h-8zM1116 2173h8v8h-8zM788 2181h8v8h-8zM796 2197h8v8h-8zM1068 2221h8v8h-8zM1044 2237h8v8h-8zM860 2253h8v8h-8zM1012 2253h8v8h-8zM884 2261h8v8h-8zM988 2261h8v8h-8zM932 2269h8v8h-8zM940 2269h8v8h-8z"/><path fill="#ff7100" d="M1108 1909h8v8h-8zM1156 2077h8v8h-8zM1140 2125h8v8h-8zM1124 2157h8v8h-8zM796 2189h8v8h-8zM1092 2197h8v8h-8zM1084 2205h8v8h-8zM812 2213h8v8h-8zM820 2221h8v8h-8zM828 2229h8v8h-8zM1052 2229h8v8h-8zM852 2245h8v8h-8zM868 2253h8v8h-8zM1004 2253h8v8h-8zM980 2261h8v8h-8z"/><path fill="#ff7b00" d="M1124 1909h8v8h-8zM1164 2093h8v8h-8zM1156 2117h8v8h-8zM772 2173h8v8h-8zM1116 2189h8v8h-8zM780 2197h8v8h-8zM796 2221h8v8h-8zM804 2229h8v8h-8zM1076 2229h8v8h-8zM812 2237h8v8h-8zM820 2245h8v8h-8zM844 2261h8v8h-8zM1004 2269h8v8h-8zM892 2277h8v8h-8zM980 2277h8v8h-8z"/><path fill="#ff6e00" d="M1108 1917h8v8h-8zM1124 1925h8v8h-8zM1140 1949h8v8h-8zM1156 2005h8v8h-8zM1156 2061h8v8h-8zM1140 2117h8v8h-8zM1124 2149h8v8h-8zM1108 2173h8v8h-8zM812 2205h8v8h-8zM1068 2213h8v8h-8zM828 2221h8v8h-8zM836 2229h8v8h-8zM1044 2229h8v8h-8zM1012 2245h8v8h-8zM884 2253h8v8h-8zM988 2253h8v8h-8zM924 2261h8v8h-8zM932 2261h8v8h-8zM940 2261h8v8h-8zM948 2261h8v8h-8z"/><path fill="#ff7c00" d="M1132 1917h8v8h-8zM1140 1925h8v8h-8zM1164 1973h8v8h-8zM1172 2021h8v8h-8zM1172 2029h8v8h-8zM1172 2037h8v8h-8zM1172 2045h8v8h-8zM1172 2053h8v8h-8zM1148 2141h8v8h-8zM1140 2157h8v8h-8zM772 2181h8v8h-8zM1124 2181h8v8h-8zM788 2213h8v8h-8zM1068 2237h8v8h-8zM828 2253h8v8h-8zM1044 2253h8v8h-8zM1028 2261h8v8h-8zM860 2269h8v8h-8zM1012 2269h8v8h-8zM884 2277h8v8h-8zM988 2277h8v8h-8z"/><path fill="#ff8000" d="M1140 1917h8v8h-8zM1156 1941h8v8h-8zM1164 1957h8v8h-8zM1172 1981h8v8h-8zM1172 2093h8v8h-8zM1156 2141h8v8h-8zM1148 2157h8v8h-8zM756 2165h8v8h-8zM756 2173h8v8h-8zM1140 2173h8v8h-8zM764 2197h8v8h-8zM1116 2205h8v8h-8zM772 2213h8v8h-8zM1108 2213h8v8h-8zM780 2221h8v8h-8zM1100 2221h8v8h-8zM1092 2229h8v8h-8zM1084 2237h8v8h-8zM1060 2253h8v8h-8zM820 2261h8v8h-8zM1036 2269h8v8h-8zM844 2277h8v8h-8zM1020 2277h8v8h-8zM868 2285h8v8h-8zM996 2285h8v8h-8zM900 2293h8v8h-8zM908 2293h8v8h-8zM916 2293h8v8h-8zM924 2293h8v8h-8zM940 2293h8v8h-8zM948 2293h8v8h-8zM956 2293h8v8h-8zM964 2293h8v8h-8z"/><path fill="#ff9100" d="M1172 1917h8v8h-8zM1196 1965h8v8h-8zM1204 1997h8v8h-8zM1204 2101h8v8h-8zM1196 2133h8v8h-8zM692 2173h8v8h-8zM1180 2173h8v8h-8zM692 2181h8v8h-8zM1172 2189h8v8h-8zM700 2205h8v8h-8zM700 2213h8v8h-8zM708 2229h8v8h-8zM1140 2237h8v8h-8zM716 2245h8v8h-8zM1132 2245h8v8h-8zM724 2253h8v8h-8zM1108 2269h8v8h-8zM1100 2277h8v8h-8zM1092 2285h8v8h-8zM772 2301h8v8h-8zM1068 2301h8v8h-8zM780 2309h8v8h-8zM796 2317h8v8h-8zM812 2325h8v8h-8zM1020 2325h8v8h-8zM828 2333h8v8h-8zM1004 2333h8v8h-8zM852 2341h8v8h-8zM860 2341h8v8h-8zM972 2341h8v8h-8zM908 2349h8v8h-8zM916 2349h8v8h-8z"/><path fill="#ff6000" d="M1036 1925h8v8h-8zM1044 1925h8v8h-8zM1052 1925h8v8h-8zM1060 1925h8v8h-8zM1068 1925h8v8h-8zM1076 1925h8v8h-8zM1084 1925h8v8h-8zM1092 1925h8v8h-8zM1100 1925h8v8h-8zM1140 2069h8v8h-8zM812 2165h8v8h-8zM1092 2165h8v8h-8zM820 2181h8v8h-8zM1068 2189h8v8h-8zM1060 2197h8v8h-8zM852 2213h8v8h-8zM1036 2213h8v8h-8zM1020 2221h8v8h-8zM908 2237h8v8h-8zM972 2237h8v8h-8z"/><path fill="#ff6200" d="M1108 1925h8v8h-8zM1140 2077h8v8h-8zM1132 2101h8v8h-8zM1108 2149h8v8h-8zM812 2173h8v8h-8zM828 2197h8v8h-8zM836 2205h8v8h-8zM1052 2205h8v8h-8zM1028 2221h8v8h-8zM892 2237h8v8h-8zM988 2237h8v8h-8z"/><path fill="#ff6800" d="M1116 1925h8v8h-8zM1148 1989h8v8h-8zM1148 2069h8v8h-8zM1116 2149h8v8h-8zM1092 2181h8v8h-8zM812 2189h8v8h-8zM1084 2189h8v8h-8zM1076 2197h8v8h-8zM1044 2221h8v8h-8zM852 2229h8v8h-8zM1028 2229h8v8h-8zM868 2237h8v8h-8zM1012 2237h8v8h-8zM988 2245h8v8h-8z"/><path fill="#ff8500" d="M1156 1925h8v8h-8zM1172 1957h8v8h-8zM1180 1981h8v8h-8zM1188 2029h8v8h-8zM1188 2037h8v8h-8zM1188 2045h8v8h-8zM1188 2053h8v8h-8zM1180 2101h8v8h-8zM1164 2149h8v8h-8zM1156 2165h8v8h-8zM740 2173h8v8h-8zM740 2181h8v8h-8zM748 2197h8v8h-8zM748 2205h8v8h-8zM1124 2213h8v8h-8zM1116 2221h8v8h-8zM764 2229h8v8h-8zM1108 2229h8v8h-8zM1100 2237h8v8h-8zM1092 2245h8v8h-8zM1084 2253h8v8h-8zM804 2269h8v8h-8zM1060 2269h8v8h-8zM812 2277h8v8h-8zM828 2285h8v8h-8zM844 2293h8v8h-8zM1012 2293h8v8h-8zM868 2301h8v8h-8zM988 2301h8v8h-8zM900 2309h8v8h-8zM908 2309h8v8h-8zM916 2309h8v8h-8zM924 2309h8v8h-8zM932 2309h8v8h-8zM940 2309h8v8h-8zM948 2309h8v8h-8z"/><path fill="#ff8900" d="M1164 1925h8v8h-8zM1172 1941h8v8h-8zM1180 1957h8v8h-8zM1188 1981h8v8h-8zM1188 2101h8v8h-8zM1180 2133h8v8h-8zM1172 2149h8v8h-8zM724 2165h8v8h-8zM724 2173h8v8h-8zM724 2181h8v8h-8zM1156 2181h8v8h-8zM732 2197h8v8h-8zM1148 2197h8v8h-8zM732 2205h8v8h-8zM740 2221h8v8h-8zM1124 2229h8v8h-8zM748 2237h8v8h-8zM1116 2237h8v8h-8zM756 2245h8v8h-8zM1108 2245h8v8h-8zM764 2253h8v8h-8zM1100 2253h8v8h-8zM772 2261h8v8h-8zM780 2269h8v8h-8zM788 2277h8v8h-8zM1068 2277h8v8h-8zM796 2285h8v8h-8zM812 2293h8v8h-8zM828 2301h8v8h-8zM1020 2301h8v8h-8zM844 2309h8v8h-8zM1004 2309h8v8h-8zM868 2317h8v8h-8zM876 2317h8v8h-8zM972 2317h8v8h-8zM980 2317h8v8h-8z"/><path fill="#ff3900" d="M1036 1933h8v8h-8zM1036 1941h8v8h-8zM1044 1941h8v8h-8zM1052 1941h8v8h-8zM1060 1941h8v8h-8zM1068 1941h8v8h-8zM1076 1941h8v8h-8zM1084 1941h8v8h-8zM1068 1949h8v8h-8zM1076 1949h8v8h-8zM1084 1949h8v8h-8zM1092 1949h8v8h-8zM1108 1973h8v8h-8zM1108 2053h8v8h-8zM1068 2133h8v8h-8zM1060 2141h8v8h-8zM1052 2149h8v8h-8zM1020 2173h8v8h-8zM1004 2181h8v8h-8zM900 2189h8v8h-8zM980 2189h8v8h-8z"/><path fill="#ff3a00" d="M1044 1933h8v8h-8zM868 2085h8v8h-8zM868 2093h8v8h-8zM868 2101h8v8h-8zM868 2109h8v8h-8zM868 2117h8v8h-8zM868 2125h8v8h-8zM868 2133h8v8h-8zM868 2141h8v8h-8zM868 2149h8v8h-8zM1044 2157h8v8h-8z"/><path fill="#ff4300" d="M1052 1933h8v8h-8zM1060 1933h8v8h-8zM1116 1981h8v8h-8zM836 2085h8v8h-8zM836 2093h8v8h-8zM836 2101h8v8h-8zM836 2109h8v8h-8zM836 2117h8v8h-8zM836 2125h8v8h-8zM1084 2125h8v8h-8zM836 2133h8v8h-8zM836 2141h8v8h-8zM836 2149h8v8h-8zM1036 2173h8v8h-8zM988 2197h8v8h-8z"/><path fill="#ff4800" d="M1068 1933h8v8h-8zM1076 1933h8v8h-8zM1084 1933h8v8h-8zM1092 1933h8v8h-8zM1100 1933h8v8h-8zM1084 2133h8v8h-8zM1044 2173h8v8h-8zM884 2197h8v8h-8zM908 2205h8v8h-8z"/><path fill="#ff5600" d="M1108 1933h8v8h-8zM1132 2053h8v8h-8zM1124 2085h8v8h-8zM1076 2165h8v8h-8zM1068 2173h8v8h-8zM836 2181h8v8h-8zM844 2189h8v8h-8zM1036 2197h8v8h-8zM1004 2213h8v8h-8zM980 2221h8v8h-8z"/><path fill="#ff5f00" d="M1116 1933h8v8h-8zM1140 1989h8v8h-8zM1140 2061h8v8h-8zM1132 2093h8v8h-8zM1108 2141h8v8h-8zM1084 2173h8v8h-8zM1076 2181h8v8h-8zM828 2189h8v8h-8zM844 2205h8v8h-8zM868 2221h8v8h-8zM884 2229h8v8h-8zM996 2229h8v8h-8zM916 2237h8v8h-8zM956 2237h8v8h-8zM964 2237h8v8h-8z"/><path fill="#ff6700" d="M1124 1933h8v8h-8zM1132 2117h8v8h-8zM1124 2133h8v8h-8zM804 2173h8v8h-8zM1052 2213h8v8h-8zM844 2221h8v8h-8zM892 2245h8v8h-8zM980 2245h8v8h-8z"/><path fill="#ff6f00" d="M1132 1933h8v8h-8zM1148 1965h8v8h-8zM1156 1997h8v8h-8zM788 2085h8v8h-8zM788 2093h8v8h-8zM788 2101h8v8h-8zM788 2109h8v8h-8zM788 2117h8v8h-8zM788 2125h8v8h-8zM788 2133h8v8h-8zM788 2141h8v8h-8zM788 2149h8v8h-8zM788 2157h8v8h-8zM796 2181h8v8h-8zM804 2197h8v8h-8zM1060 2221h8v8h-8zM844 2237h8v8h-8zM860 2245h8v8h-8zM996 2253h8v8h-8zM916 2261h8v8h-8zM956 2261h8v8h-8z"/><path fill="#ff7700" d="M1140 1933h8v8h-8zM1156 1965h8v8h-8zM1164 1997h8v8h-8zM1164 2069h8v8h-8zM1148 2125h8v8h-8zM1132 2157h8v8h-8zM1116 2181h8v8h-8zM788 2197h8v8h-8zM1068 2229h8v8h-8zM1044 2245h8v8h-8zM1028 2253h8v8h-8zM884 2269h8v8h-8zM980 2269h8v8h-8z"/><path fill="#ff7e00" d="M1148 1933h8v8h-8zM1164 1965h8v8h-8zM1172 1997h8v8h-8zM1172 2077h8v8h-8zM1164 2109h8v8h-8zM1156 2133h8v8h-8zM1148 2149h8v8h-8zM1140 2165h8v8h-8zM764 2173h8v8h-8zM1124 2189h8v8h-8zM772 2197h8v8h-8zM1116 2197h8v8h-8zM780 2213h8v8h-8zM788 2221h8v8h-8zM1076 2237h8v8h-8zM820 2253h8v8h-8zM1052 2253h8v8h-8zM828 2261h8v8h-8zM844 2269h8v8h-8zM1020 2269h8v8h-8zM860 2277h8v8h-8zM1004 2277h8v8h-8zM892 2285h8v8h-8zM972 2285h8v8h-8z"/><path fill="#ff8200" d="M1156 1933h8v8h-8zM1164 1949h8v8h-8zM1180 2005h8v8h-8zM1180 2069h8v8h-8zM1180 2077h8v8h-8zM748 2085h8v8h-8zM748 2093h8v8h-8zM748 2101h8v8h-8zM748 2109h8v8h-8zM1172 2109h8v8h-8zM748 2117h8v8h-8zM748 2125h8v8h-8zM748 2133h8v8h-8zM1164 2133h8v8h-8zM748 2141h8v8h-8zM748 2149h8v8h-8zM1156 2149h8v8h-8zM748 2157h8v8h-8zM748 2165h8v8h-8zM1148 2165h8v8h-8zM1140 2181h8v8h-8zM756 2189h8v8h-8zM764 2213h8v8h-8zM1116 2213h8v8h-8zM772 2221h8v8h-8zM1108 2221h8v8h-8zM1100 2229h8v8h-8zM1092 2237h8v8h-8zM788 2245h8v8h-8zM796 2253h8v8h-8zM1060 2261h8v8h-8zM820 2269h8v8h-8zM1044 2269h8v8h-8zM836 2277h8v8h-8zM1028 2277h8v8h-8zM852 2285h8v8h-8zM1012 2285h8v8h-8zM868 2293h8v8h-8zM876 2293h8v8h-8zM980 2293h8v8h-8zM988 2293h8v8h-8zM916 2301h8v8h-8zM924 2301h8v8h-8zM932 2301h8v8h-8zM940 2301h8v8h-8z"/><path fill="#ff3600" d="M1092 1941h8v8h-8zM1100 1941h8v8h-8zM1108 1981h8v8h-8zM1092 2093h8v8h-8zM860 2149h8v8h-8zM860 2157h8v8h-8zM1028 2165h8v8h-8zM908 2189h8v8h-8zM972 2189h8v8h-8z"/><path fill="#ff4b00" d="M1108 1941h8v8h-8zM1124 1997h8v8h-8zM1124 2037h8v8h-8zM988 2205h8v8h-8z"/><path fill="#ff5800" d="M1116 1941h8v8h-8zM1124 1957h8v8h-8zM1132 1981h8v8h-8zM1132 2061h8v8h-8zM1116 2109h8v8h-8zM1108 2125h8v8h-8zM1092 2149h8v8h-8zM820 2157h8v8h-8zM1052 2189h8v8h-8zM860 2205h8v8h-8zM1028 2205h8v8h-8zM1012 2213h8v8h-8zM892 2221h8v8h-8zM988 2221h8v8h-8z"/><path fill="#ff6100" d="M1124 1941h8v8h-8zM1132 1957h8v8h-8zM1140 1981h8v8h-8zM1124 2117h8v8h-8zM1116 2133h8v8h-8zM1100 2157h8v8h-8zM860 2221h8v8h-8zM876 2229h8v8h-8zM1004 2229h8v8h-8zM900 2237h8v8h-8zM980 2237h8v8h-8z"/><path fill="#ff6a00" d="M1132 1941h8v8h-8zM1148 1981h8v8h-8zM1148 2077h8v8h-8zM1132 2125h8v8h-8zM1124 2141h8v8h-8zM796 2157h8v8h-8zM1108 2165h8v8h-8zM804 2181h8v8h-8zM820 2205h8v8h-8zM828 2213h8v8h-8zM1060 2213h8v8h-8zM836 2221h8v8h-8zM860 2237h8v8h-8zM1020 2237h8v8h-8zM996 2245h8v8h-8zM908 2253h8v8h-8zM916 2253h8v8h-8zM964 2253h8v8h-8z"/><path fill="#ff7200" d="M1140 1941h8v8h-8zM1148 1957h8v8h-8zM1156 1981h8v8h-8zM1148 2109h8v8h-8zM788 2173h8v8h-8zM1108 2181h8v8h-8zM1100 2189h8v8h-8zM804 2205h8v8h-8zM1076 2213h8v8h-8zM836 2237h8v8h-8zM1028 2245h8v8h-8zM892 2261h8v8h-8z"/><path fill="#ff1f00" d="M1036 1949h8v8h-8zM1052 1957h8v8h-8zM1060 1957h8v8h-8zM1068 1957h8v8h-8zM1076 1957h8v8h-8zM1100 1997h8v8h-8zM1100 2013h8v8h-8zM1092 2061h8v8h-8zM1068 2109h8v8h-8zM1028 2149h8v8h-8zM884 2165h8v8h-8z"/><path fill="#ff2000" d="M1044 1949h8v8h-8zM1100 2021h8v8h-8zM980 2173h8v8h-8z"/><path fill="#ff2300" d="M1052 1949h8v8h-8zM852 2133h8v8h-8zM1020 2157h8v8h-8zM924 2181h8v8h-8zM948 2181h8v8h-8z"/><path fill="#ff2d00" d="M1060 1949h8v8h-8zM900 2181h8v8h-8zM980 2181h8v8h-8z"/><path fill="#ff3b00" d="M1100 1949h8v8h-8zM844 2085h8v8h-8zM844 2093h8v8h-8zM1076 2125h8v8h-8zM860 2165h8v8h-8zM988 2189h8v8h-8zM932 2197h8v8h-8zM940 2197h8v8h-8zM948 2197h8v8h-8z"/><path fill="#ff4600" d="M1108 1949h8v8h-8zM1116 1973h8v8h-8zM1116 2061h8v8h-8zM1108 2085h8v8h-8zM1068 2149h8v8h-8zM1060 2157h8v8h-8zM852 2173h8v8h-8zM1028 2181h8v8h-8zM996 2197h8v8h-8zM916 2205h8v8h-8zM964 2205h8v8h-8z"/><path fill="#ff5200" d="M1116 1949h8v8h-8zM1124 2069h8v8h-8zM1116 2093h8v8h-8zM1100 2125h8v8h-8zM1084 2149h8v8h-8zM1076 2157h8v8h-8zM1068 2165h8v8h-8zM836 2173h8v8h-8zM1060 2173h8v8h-8zM852 2189h8v8h-8zM876 2205h8v8h-8zM988 2213h8v8h-8z"/><path fill="#ff5c00" d="M1124 1949h8v8h-8zM1140 2013h8v8h-8zM1140 2021h8v8h-8zM1140 2029h8v8h-8zM1140 2037h8v8h-8zM1092 2157h8v8h-8zM1060 2189h8v8h-8zM876 2221h8v8h-8zM1004 2221h8v8h-8zM900 2229h8v8h-8zM980 2229h8v8h-8z"/><path fill="#ff6400" d="M1132 1949h8v8h-8zM1148 2013h8v8h-8zM1148 2021h8v8h-8zM1148 2029h8v8h-8zM1148 2037h8v8h-8zM1148 2045h8v8h-8zM1140 2085h8v8h-8zM1132 2109h8v8h-8zM1116 2141h8v8h-8zM804 2157h8v8h-8zM1092 2173h8v8h-8zM1076 2189h8v8h-8zM1068 2197h8v8h-8zM852 2221h8v8h-8zM884 2237h8v8h-8zM996 2237h8v8h-8zM916 2245h8v8h-8zM924 2245h8v8h-8zM956 2245h8v8h-8zM964 2245h8v8h-8z"/><path fill="#ff7d00" d="M1156 1949h8v8h-8zM1172 2005h8v8h-8zM1172 2013h8v8h-8zM1172 2061h8v8h-8zM1172 2069h8v8h-8zM764 2085h8v8h-8zM764 2093h8v8h-8zM764 2101h8v8h-8zM1164 2101h8v8h-8zM764 2109h8v8h-8zM764 2117h8v8h-8zM764 2125h8v8h-8zM1156 2125h8v8h-8zM764 2133h8v8h-8zM764 2141h8v8h-8zM764 2149h8v8h-8zM764 2157h8v8h-8zM764 2165h8v8h-8zM1132 2173h8v8h-8zM772 2189h8v8h-8zM780 2205h8v8h-8zM1108 2205h8v8h-8zM1100 2213h8v8h-8zM1092 2221h8v8h-8zM796 2229h8v8h-8zM1084 2229h8v8h-8zM804 2237h8v8h-8zM812 2245h8v8h-8zM1060 2245h8v8h-8zM836 2261h8v8h-8zM1036 2261h8v8h-8zM852 2269h8v8h-8zM868 2277h8v8h-8zM876 2277h8v8h-8zM996 2277h8v8h-8zM900 2285h8v8h-8zM908 2285h8v8h-8zM916 2285h8v8h-8zM924 2285h8v8h-8zM932 2285h8v8h-8zM940 2285h8v8h-8zM948 2285h8v8h-8zM956 2285h8v8h-8zM964 2285h8v8h-8z"/><path fill="#ff1100" d="M1028 1957h8v8h-8zM1052 1965h8v8h-8zM1060 1965h8v8h-8zM1076 1973h8v8h-8zM1084 1973h8v8h-8zM1092 2021h8v8h-8zM1084 2061h8v8h-8zM1012 2149h8v8h-8zM996 2157h8v8h-8z"/><path fill="#ff1700" d="M1036 1957h8v8h-8zM1044 1957h8v8h-8zM1092 2045h8v8h-8zM1068 2101h8v8h-8zM1020 2149h8v8h-8zM988 2165h8v8h-8zM916 2173h8v8h-8zM956 2173h8v8h-8z"/><path fill="#ff2100" d="M1084 1957h8v8h-8zM1100 1989h8v8h-8z"/><path fill="#ff2700" d="M1092 1957h8v8h-8zM1100 2045h8v8h-8zM964 2181h8v8h-8z"/><path fill="#ff2f00" d="M1100 1957h8v8h-8zM1100 2061h8v8h-8zM1052 2141h8v8h-8zM1020 2165h8v8h-8z"/><path fill="#ff4100" d="M1108 1957h8v8h-8zM1116 1989h8v8h-8zM1116 2037h8v8h-8zM852 2085h8v8h-8zM860 2085h8v8h-8zM852 2093h8v8h-8zM860 2093h8v8h-8zM852 2101h8v8h-8zM860 2101h8v8h-8zM852 2109h8v8h-8zM860 2109h8v8h-8zM1092 2109h8v8h-8zM852 2117h8v8h-8zM860 2117h8v8h-8zM852 2125h8v8h-8zM860 2125h8v8h-8zM860 2133h8v8h-8zM1076 2133h8v8h-8zM860 2141h8v8h-8zM1044 2165h8v8h-8zM860 2173h8v8h-8zM1020 2181h8v8h-8zM1004 2189h8v8h-8zM980 2197h8v8h-8z"/><path fill="#ff4e00" d="M1116 1957h8v8h-8zM1124 2053h8v8h-8zM1084 2141h8v8h-8zM860 2189h8v8h-8zM996 2205h8v8h-8zM916 2213h8v8h-8zM964 2213h8v8h-8z"/><path fill="#ff6900" d="M1140 1957h8v8h-8zM796 2085h8v8h-8zM796 2093h8v8h-8zM796 2101h8v8h-8zM1140 2101h8v8h-8zM796 2109h8v8h-8zM796 2117h8v8h-8zM796 2125h8v8h-8zM796 2133h8v8h-8zM796 2141h8v8h-8zM796 2149h8v8h-8zM1100 2173h8v8h-8zM1068 2205h8v8h-8zM884 2245h8v8h-8zM924 2253h8v8h-8zM932 2253h8v8h-8zM940 2253h8v8h-8zM948 2253h8v8h-8zM956 2253h8v8h-8z"/><path fill="#ff0a00" d="M1028 1965h8v8h-8zM1036 1965h8v8h-8zM1044 1973h8v8h-8zM1052 1973h8v8h-8zM1060 1973h8v8h-8zM1068 1981h8v8h-8zM1076 1981h8v8h-8zM1052 2109h8v8h-8zM916 2165h8v8h-8z"/><path fill="#ff0f00" d="M1044 1965h8v8h-8zM1092 2013h8v8h-8zM1076 2077h8v8h-8z"/><path fill="#ff1200" d="M1068 1965h8v8h-8zM1092 2029h8v8h-8zM1052 2117h8v8h-8zM1044 2125h8v8h-8zM1036 2133h8v8h-8z"/><path fill="#ff1b00" d="M1076 1965h8v8h-8zM1052 2125h8v8h-8zM1044 2133h8v8h-8z"/><path fill="#ff1d00" d="M1084 1965h8v8h-8zM1092 1965h8v8h-8zM1036 2141h8v8h-8z"/><path fill="#ff2b00" d="M1100 1965h8v8h-8zM1100 2053h8v8h-8zM1028 2157h8v8h-8zM876 2165h8v8h-8z"/><path fill="#ff3c00" d="M1108 1965h8v8h-8zM1108 2061h8v8h-8zM1100 2085h8v8h-8zM1092 2101h8v8h-8zM844 2157h8v8h-8zM1036 2165h8v8h-8zM868 2173h8v8h-8zM892 2189h8v8h-8zM924 2197h8v8h-8zM956 2197h8v8h-8z"/><path fill="#ff4900" d="M1116 1965h8v8h-8zM1116 2069h8v8h-8zM1108 2093h8v8h-8zM1100 2109h8v8h-8zM868 2189h8v8h-8zM1020 2189h8v8h-8zM1004 2197h8v8h-8zM980 2205h8v8h-8z"/><path fill="#ff5400" d="M1124 1965h8v8h-8zM1132 2005h8v8h-8zM1132 2013h8v8h-8zM1132 2021h8v8h-8zM1132 2029h8v8h-8zM1132 2037h8v8h-8zM1124 2077h8v8h-8zM1108 2117h8v8h-8zM1092 2141h8v8h-8zM828 2165h8v8h-8zM1044 2189h8v8h-8zM996 2213h8v8h-8zM916 2221h8v8h-8zM964 2221h8v8h-8z"/><path fill="#ff5d00" d="M1132 1965h8v8h-8zM1140 2005h8v8h-8zM1140 2045h8v8h-8zM1132 2085h8v8h-8zM1100 2149h8v8h-8zM820 2173h8v8h-8zM1052 2197h8v8h-8zM860 2213h8v8h-8zM1028 2213h8v8h-8zM892 2229h8v8h-8zM988 2229h8v8h-8z"/><path fill="#ff0100" d="M1028 1973h8v8h-8zM1036 1973h8v8h-8zM1044 1981h8v8h-8zM1052 1981h8v8h-8zM1068 1989h8v8h-8zM1076 1989h8v8h-8zM1084 1997h8v8h-8zM1084 2005h8v8h-8zM1068 2069h8v8h-8zM1060 2085h8v8h-8zM884 2117h8v8h-8zM884 2125h8v8h-8zM884 2133h8v8h-8zM884 2141h8v8h-8zM884 2149h8v8h-8zM980 2149h8v8h-8zM916 2157h8v8h-8zM948 2157h8v8h-8z"/><path fill="#ff0c00" d="M1068 1973h8v8h-8zM1084 1981h8v8h-8zM1084 2053h8v8h-8zM1060 2101h8v8h-8zM988 2157h8v8h-8z"/><path fill="#ff1300" d="M1092 1973h8v8h-8zM1092 1981h8v8h-8zM980 2165h8v8h-8z"/><path fill="#ff2600" d="M1100 1973h8v8h-8zM1060 2125h8v8h-8zM1044 2141h8v8h-8z"/><path fill="#ff5100" d="M1124 1973h8v8h-8zM1108 2109h8v8h-8zM828 2157h8v8h-8zM844 2181h8v8h-8zM1036 2189h8v8h-8zM900 2213h8v8h-8z"/><path fill="#ff5b00" d="M1132 1973h8v8h-8zM1132 2077h8v8h-8zM1124 2101h8v8h-8zM1116 2117h8v8h-8zM1108 2133h8v8h-8zM1084 2165h8v8h-8zM1076 2173h8v8h-8zM828 2181h8v8h-8zM1068 2181h8v8h-8zM852 2205h8v8h-8zM1036 2205h8v8h-8zM1020 2213h8v8h-8zM908 2229h8v8h-8zM972 2229h8v8h-8z"/><path fill="#ff6300" d="M1140 1973h8v8h-8zM804 2085h8v8h-8zM804 2093h8v8h-8zM804 2101h8v8h-8zM804 2109h8v8h-8zM804 2117h8v8h-8zM804 2125h8v8h-8zM1124 2125h8v8h-8zM804 2133h8v8h-8zM804 2141h8v8h-8zM804 2149h8v8h-8zM1084 2181h8v8h-8zM820 2189h8v8h-8zM844 2213h8v8h-8zM1044 2213h8v8h-8zM868 2229h8v8h-8zM1012 2229h8v8h-8zM932 2245h8v8h-8zM940 2245h8v8h-8zM948 2245h8v8h-8z"/><path fill="#ff6c00" d="M1148 1973h8v8h-8zM1156 2021h8v8h-8zM1156 2029h8v8h-8zM1156 2037h8v8h-8zM1116 2157h8v8h-8zM804 2189h8v8h-8zM1052 2221h8v8h-8zM1004 2245h8v8h-8zM980 2253h8v8h-8z"/><path fill="#ff0000" d="M1020 1981h8v8h-8zM1028 1981h8v8h-8zM1036 1981h8v8h-8zM1036 1989h8v8h-8zM1044 1989h8v8h-8zM1052 1989h8v8h-8zM1060 1989h8v8h-8zM1052 1997h8v8h-8zM1060 1997h8v8h-8zM1068 1997h8v8h-8zM1076 1997h8v8h-8zM1068 2005h8v8h-8zM1076 2005h8v8h-8zM1076 2045h8v8h-8zM1052 2093h8v8h-8zM884 2101h8v8h-8zM884 2109h8v8h-8zM1012 2133h8v8h-8zM996 2141h8v8h-8zM924 2157h8v8h-8zM932 2157h8v8h-8zM940 2157h8v8h-8z"/><path fill="#ff0300" d="M1060 1981h8v8h-8zM1084 2013h8v8h-8zM1084 2021h8v8h-8zM1068 2077h8v8h-8zM1052 2101h8v8h-8zM1028 2125h8v8h-8zM1020 2133h8v8h-8zM988 2149h8v8h-8zM900 2157h8v8h-8zM964 2157h8v8h-8z"/><path fill="#ff2400" d="M1100 1981h8v8h-8zM1100 2037h8v8h-8zM1076 2101h8v8h-8zM892 2173h8v8h-8zM988 2173h8v8h-8zM956 2181h8v8h-8z"/><path fill="#ff4f00" d="M1124 1981h8v8h-8zM828 2085h8v8h-8zM1116 2085h8v8h-8zM828 2093h8v8h-8zM828 2101h8v8h-8zM828 2109h8v8h-8zM828 2117h8v8h-8zM828 2125h8v8h-8zM828 2133h8v8h-8zM1092 2133h8v8h-8zM828 2141h8v8h-8zM828 2149h8v8h-8zM1044 2181h8v8h-8zM884 2205h8v8h-8zM908 2213h8v8h-8zM972 2213h8v8h-8z"/><path fill="#fe0000" d="M1020 1989h8v8h-8zM1028 1989h8v8h-8zM1036 1997h8v8h-8zM1044 1997h8v8h-8zM1052 2005h8v8h-8zM1060 2005h8v8h-8zM1068 2013h8v8h-8zM1076 2013h8v8h-8zM1076 2021h8v8h-8zM1076 2037h8v8h-8zM1068 2061h8v8h-8zM1060 2077h8v8h-8zM884 2093h8v8h-8zM1044 2101h8v8h-8zM1036 2109h8v8h-8zM1028 2117h8v8h-8zM1020 2125h8v8h-8zM988 2141h8v8h-8zM900 2149h8v8h-8zM964 2149h8v8h-8zM972 2149h8v8h-8z"/><path fill="#ff0600" d="M1084 1989h8v8h-8zM1012 2141h8v8h-8zM892 2157h8v8h-8z"/><path fill="#ff1000" d="M1092 1989h8v8h-8zM1068 2093h8v8h-8zM884 2157h8v8h-8zM900 2165h8v8h-8zM972 2165h8v8h-8z"/><path fill="#ff3300" d="M1108 1989h8v8h-8zM1100 2069h8v8h-8zM1036 2157h8v8h-8zM916 2189h8v8h-8zM964 2189h8v8h-8z"/><path fill="#ff4d00" d="M1124 1989h8v8h-8zM1124 2045h8v8h-8zM1108 2101h8v8h-8zM1100 2117h8v8h-8zM836 2165h8v8h-8zM1052 2173h8v8h-8zM1028 2189h8v8h-8zM924 2213h8v8h-8zM956 2213h8v8h-8z"/><path fill="#ff5700" d="M1132 1989h8v8h-8zM820 2085h8v8h-8zM820 2093h8v8h-8zM820 2101h8v8h-8zM820 2109h8v8h-8zM820 2117h8v8h-8zM820 2125h8v8h-8zM820 2133h8v8h-8zM820 2141h8v8h-8zM820 2149h8v8h-8zM1084 2157h8v8h-8zM828 2173h8v8h-8zM1060 2181h8v8h-8zM852 2197h8v8h-8zM876 2213h8v8h-8zM900 2221h8v8h-8z"/><path fill="#fb0000" d="M1012 1997h8v8h-8zM1028 2005h8v8h-8zM1044 2013h8v8h-8zM1060 2021h8v8h-8zM1068 2045h8v8h-8zM1052 2077h8v8h-8zM1036 2101h8v8h-8zM972 2141h8v8h-8z"/><path fill="#fd0000" d="M1020 1997h8v8h-8zM1028 1997h8v8h-8zM1044 2005h8v8h-8zM1060 2013h8v8h-8zM1068 2021h8v8h-8zM1076 2029h8v8h-8zM884 2085h8v8h-8zM892 2085h8v8h-8zM1052 2085h8v8h-8zM892 2093h8v8h-8zM892 2101h8v8h-8zM892 2109h8v8h-8zM900 2109h8v8h-8zM892 2117h8v8h-8zM900 2117h8v8h-8zM892 2125h8v8h-8zM900 2125h8v8h-8zM892 2133h8v8h-8zM900 2133h8v8h-8zM1004 2133h8v8h-8zM900 2141h8v8h-8zM956 2149h8v8h-8z"/><path fill="#ff0d00" d="M1092 1997h8v8h-8zM1092 2005h8v8h-8zM1020 2141h8v8h-8zM908 2165h8v8h-8zM964 2165h8v8h-8z"/><path fill="#ff3100" d="M1108 1997h8v8h-8zM1108 2021h8v8h-8zM1068 2125h8v8h-8zM988 2181h8v8h-8zM924 2189h8v8h-8zM956 2189h8v8h-8z"/><path fill="#ff4000" d="M1116 1997h8v8h-8zM1116 2029h8v8h-8zM1100 2093h8v8h-8zM1068 2141h8v8h-8zM1052 2157h8v8h-8zM884 2189h8v8h-8z"/><path fill="#ff5500" d="M1132 1997h8v8h-8zM1132 2045h8v8h-8zM1116 2101h8v8h-8zM1100 2133h8v8h-8zM868 2205h8v8h-8zM1020 2205h8v8h-8zM884 2213h8v8h-8zM908 2221h8v8h-8zM972 2221h8v8h-8z"/><path fill="#ff5e00" d="M1140 1997h8v8h-8zM1140 2053h8v8h-8zM812 2085h8v8h-8zM812 2093h8v8h-8zM812 2101h8v8h-8zM812 2109h8v8h-8zM1124 2109h8v8h-8zM812 2117h8v8h-8zM812 2125h8v8h-8zM1116 2125h8v8h-8zM812 2133h8v8h-8zM812 2141h8v8h-8zM812 2149h8v8h-8zM812 2157h8v8h-8zM836 2197h8v8h-8zM1044 2205h8v8h-8zM1012 2221h8v8h-8zM924 2237h8v8h-8zM932 2237h8v8h-8zM940 2237h8v8h-8zM948 2237h8v8h-8z"/><path fill="#f70000" d="M1004 2005h8v8h-8zM1012 2005h8v8h-8zM1012 2013h8v8h-8zM1020 2013h8v8h-8zM1028 2021h8v8h-8zM1036 2021h8v8h-8zM1012 2029h8v8h-8zM1036 2029h8v8h-8zM1044 2029h8v8h-8zM1020 2037h8v8h-8zM1052 2037h8v8h-8zM1028 2045h8v8h-8zM1060 2045h8v8h-8zM1036 2053h8v8h-8zM1044 2061h8v8h-8zM1052 2061h8v8h-8zM1044 2069h8v8h-8zM908 2077h8v8h-8zM1044 2077h8v8h-8zM916 2093h8v8h-8zM916 2101h8v8h-8zM1020 2101h8v8h-8zM916 2109h8v8h-8zM1012 2109h8v8h-8zM924 2117h8v8h-8zM1004 2117h8v8h-8zM924 2125h8v8h-8zM988 2125h8v8h-8zM924 2133h8v8h-8zM932 2133h8v8h-8zM964 2133h8v8h-8z"/><path fill="#f90000" d="M1020 2005h8v8h-8zM1068 2029h8v8h-8zM1052 2069h8v8h-8zM900 2085h8v8h-8zM1044 2085h8v8h-8zM900 2093h8v8h-8zM1036 2093h8v8h-8zM900 2101h8v8h-8zM908 2101h8v8h-8zM1028 2101h8v8h-8zM908 2109h8v8h-8zM1020 2109h8v8h-8zM908 2117h8v8h-8zM908 2125h8v8h-8zM996 2125h8v8h-8zM908 2133h8v8h-8zM916 2133h8v8h-8zM980 2133h8v8h-8zM916 2141h8v8h-8zM924 2141h8v8h-8zM956 2141h8v8h-8z"/><path fill="#fc0000" d="M1036 2005h8v8h-8zM1052 2013h8v8h-8zM1068 2053h8v8h-8zM1060 2069h8v8h-8zM1044 2093h8v8h-8zM1028 2109h8v8h-8zM1020 2117h8v8h-8zM1012 2125h8v8h-8zM996 2133h8v8h-8zM892 2141h8v8h-8zM980 2141h8v8h-8zM892 2149h8v8h-8zM908 2149h8v8h-8zM916 2149h8v8h-8zM924 2149h8v8h-8zM932 2149h8v8h-8zM940 2149h8v8h-8zM948 2149h8v8h-8z"/><path fill="#ff1e00" d="M1100 2005h8v8h-8zM900 2173h8v8h-8z"/><path fill="#ff3000" d="M1108 2005h8v8h-8zM1108 2013h8v8h-8zM1092 2085h8v8h-8zM1084 2101h8v8h-8zM1060 2133h8v8h-8zM1044 2149h8v8h-8zM932 2189h8v8h-8zM940 2189h8v8h-8zM948 2189h8v8h-8z"/><path fill="#ff3f00" d="M1116 2005h8v8h-8zM1116 2013h8v8h-8zM1116 2021h8v8h-8zM1108 2069h8v8h-8zM1060 2149h8v8h-8zM852 2165h8v8h-8zM908 2197h8v8h-8zM972 2197h8v8h-8z"/><path fill="#ff4a00" d="M1124 2005h8v8h-8zM1124 2013h8v8h-8zM1124 2021h8v8h-8zM1124 2029h8v8h-8zM1092 2125h8v8h-8zM1036 2181h8v8h-8zM900 2205h8v8h-8z"/><path fill="#ff6500" d="M1148 2005h8v8h-8zM1148 2053h8v8h-8zM804 2165h8v8h-8zM1100 2165h8v8h-8zM812 2181h8v8h-8zM1060 2205h8v8h-8zM1036 2221h8v8h-8zM1020 2229h8v8h-8zM908 2245h8v8h-8zM972 2245h8v8h-8z"/><path fill="#f50000" d="M1004 2013h8v8h-8zM996 2021h8v8h-8zM1012 2021h8v8h-8zM1020 2021h8v8h-8zM988 2029h8v8h-8zM996 2029h8v8h-8zM1020 2029h8v8h-8zM1028 2029h8v8h-8zM996 2037h8v8h-8zM1004 2037h8v8h-8zM1028 2037h8v8h-8zM1036 2037h8v8h-8zM972 2045h8v8h-8zM1004 2045h8v8h-8zM1012 2045h8v8h-8zM1020 2045h8v8h-8zM1044 2045h8v8h-8zM1052 2045h8v8h-8zM980 2053h8v8h-8zM1012 2053h8v8h-8zM1020 2053h8v8h-8zM1052 2053h8v8h-8zM988 2061h8v8h-8zM1028 2061h8v8h-8zM932 2069h8v8h-8zM940 2069h8v8h-8zM996 2069h8v8h-8zM1036 2069h8v8h-8zM940 2077h8v8h-8zM1004 2077h8v8h-8zM924 2085h8v8h-8zM940 2085h8v8h-8zM948 2085h8v8h-8zM1012 2085h8v8h-8zM1036 2085h8v8h-8zM940 2093h8v8h-8zM948 2093h8v8h-8zM1020 2093h8v8h-8zM948 2101h8v8h-8zM956 2101h8v8h-8zM948 2109h8v8h-8zM956 2109h8v8h-8zM956 2117h8v8h-8zM964 2117h8v8h-8zM996 2117h8v8h-8zM964 2125h8v8h-8zM972 2125h8v8h-8zM956 2133h8v8h-8z"/><path fill="#f80000" d="M1028 2013h8v8h-8zM1044 2021h8v8h-8zM1052 2029h8v8h-8zM1060 2029h8v8h-8zM1060 2037h8v8h-8zM1060 2053h8v8h-8zM908 2085h8v8h-8zM908 2093h8v8h-8zM916 2117h8v8h-8zM916 2125h8v8h-8zM972 2133h8v8h-8zM932 2141h8v8h-8zM940 2141h8v8h-8zM948 2141h8v8h-8z"/><path fill="#fa0000" d="M1036 2013h8v8h-8zM1052 2021h8v8h-8zM1068 2037h8v8h-8zM1060 2061h8v8h-8zM1012 2117h8v8h-8zM1004 2125h8v8h-8zM988 2133h8v8h-8zM908 2141h8v8h-8zM964 2141h8v8h-8z"/><path fill="#ff6d00" d="M1156 2013h8v8h-8zM1156 2045h8v8h-8zM1156 2053h8v8h-8zM1148 2093h8v8h-8zM1132 2133h8v8h-8zM796 2173h8v8h-8zM1100 2181h8v8h-8zM1092 2189h8v8h-8zM1084 2197h8v8h-8zM1076 2205h8v8h-8zM820 2213h8v8h-8zM852 2237h8v8h-8zM1028 2237h8v8h-8zM868 2245h8v8h-8zM892 2253h8v8h-8z"/><path fill="#f60000" d="M1004 2021h8v8h-8zM1004 2029h8v8h-8zM1012 2037h8v8h-8zM1044 2037h8v8h-8zM1036 2045h8v8h-8zM1028 2053h8v8h-8zM1044 2053h8v8h-8zM1036 2061h8v8h-8zM916 2077h8v8h-8zM916 2085h8v8h-8zM924 2093h8v8h-8zM1028 2093h8v8h-8zM924 2101h8v8h-8zM924 2109h8v8h-8zM932 2117h8v8h-8zM932 2125h8v8h-8zM980 2125h8v8h-8zM940 2133h8v8h-8z"/><path fill="#ff0400" d="M1084 2029h8v8h-8zM1076 2061h8v8h-8zM1060 2093h8v8h-8zM972 2157h8v8h-8z"/><path fill="#ff2200" d="M1100 2029h8v8h-8zM1084 2085h8v8h-8zM852 2141h8v8h-8zM852 2149h8v8h-8zM876 2157h8v8h-8zM1004 2165h8v8h-8zM932 2181h8v8h-8zM940 2181h8v8h-8z"/><path fill="#ff3200" d="M1108 2029h8v8h-8zM852 2157h8v8h-8zM868 2157h8v8h-8zM892 2181h8v8h-8z"/><path fill="#f30000" d="M980 2037h8v8h-8zM980 2045h8v8h-8zM988 2045h8v8h-8zM988 2053h8v8h-8zM996 2053h8v8h-8zM948 2061h8v8h-8zM996 2061h8v8h-8zM1004 2061h8v8h-8zM1004 2069h8v8h-8zM956 2077h8v8h-8zM1012 2077h8v8h-8zM1020 2085h8v8h-8zM964 2093h8v8h-8zM972 2109h8v8h-8zM980 2117h8v8h-8zM988 2117h8v8h-8z"/><path fill="#f40000" d="M988 2037h8v8h-8zM980 2061h8v8h-8zM1020 2061h8v8h-8zM948 2069h8v8h-8zM988 2069h8v8h-8zM924 2077h8v8h-8zM932 2077h8v8h-8zM948 2077h8v8h-8zM996 2077h8v8h-8zM932 2085h8v8h-8zM956 2085h8v8h-8zM1004 2085h8v8h-8zM932 2093h8v8h-8zM956 2093h8v8h-8zM1012 2093h8v8h-8zM932 2101h8v8h-8zM940 2101h8v8h-8zM964 2101h8v8h-8zM1012 2101h8v8h-8zM932 2109h8v8h-8zM940 2109h8v8h-8zM964 2109h8v8h-8zM1004 2109h8v8h-8zM940 2117h8v8h-8zM948 2117h8v8h-8zM972 2117h8v8h-8zM940 2125h8v8h-8zM948 2125h8v8h-8zM956 2125h8v8h-8zM948 2133h8v8h-8z"/><path fill="#ff0500" d="M1084 2037h8v8h-8zM996 2149h8v8h-8z"/><path fill="#ff1400" d="M1092 2037h8v8h-8zM1060 2109h8v8h-8zM1028 2141h8v8h-8z"/><path fill="#ff3400" d="M1108 2037h8v8h-8zM844 2101h8v8h-8zM844 2109h8v8h-8zM844 2117h8v8h-8zM1076 2117h8v8h-8zM844 2125h8v8h-8zM844 2133h8v8h-8zM844 2141h8v8h-8zM844 2149h8v8h-8zM1012 2173h8v8h-8z"/><path fill="#f10000" d="M996 2045h8v8h-8zM956 2053h8v8h-8zM972 2053h8v8h-8zM956 2061h8v8h-8zM964 2061h8v8h-8zM1012 2061h8v8h-8zM964 2069h8v8h-8zM1020 2069h8v8h-8zM1028 2069h8v8h-8zM964 2077h8v8h-8zM972 2077h8v8h-8zM1020 2077h8v8h-8zM1028 2077h8v8h-8zM972 2085h8v8h-8zM980 2085h8v8h-8zM972 2093h8v8h-8zM980 2093h8v8h-8zM988 2093h8v8h-8zM980 2101h8v8h-8zM988 2101h8v8h-8zM996 2101h8v8h-8zM1004 2101h8v8h-8zM980 2109h8v8h-8z"/><path fill="#ff0800" d="M1084 2045h8v8h-8zM980 2157h8v8h-8zM932 2165h8v8h-8zM940 2165h8v8h-8z"/><path fill="#ff3700" d="M1108 2045h8v8h-8z"/><path fill="#ff4200" d="M1116 2045h8v8h-8zM1108 2077h8v8h-8zM868 2181h8v8h-8zM900 2197h8v8h-8z"/><path fill="#f00000" d="M964 2053h8v8h-8zM972 2061h8v8h-8zM972 2069h8v8h-8zM980 2069h8v8h-8zM980 2077h8v8h-8zM988 2077h8v8h-8zM988 2085h8v8h-8zM996 2093h8v8h-8z"/><path fill="#f20000" d="M1004 2053h8v8h-8zM956 2069h8v8h-8zM1012 2069h8v8h-8zM1036 2077h8v8h-8zM964 2085h8v8h-8zM996 2085h8v8h-8zM1028 2085h8v8h-8zM1004 2093h8v8h-8zM972 2101h8v8h-8zM988 2109h8v8h-8zM996 2109h8v8h-8z"/><path fill="#ff0200" d="M1076 2053h8v8h-8zM1044 2109h8v8h-8zM1036 2117h8v8h-8zM1004 2141h8v8h-8zM908 2157h8v8h-8zM956 2157h8v8h-8z"/><path fill="#ff1a00" d="M1092 2053h8v8h-8zM908 2173h8v8h-8z"/><path fill="#ff4400" d="M1116 2053h8v8h-8zM932 2205h8v8h-8zM940 2205h8v8h-8zM948 2205h8v8h-8z"/><path fill="#ff5000" d="M1124 2061h8v8h-8zM868 2197h8v8h-8zM1020 2197h8v8h-8zM1004 2205h8v8h-8zM980 2213h8v8h-8z"/><path fill="#ff0900" d="M1076 2069h8v8h-8zM1068 2085h8v8h-8zM1044 2117h8v8h-8zM1036 2125h8v8h-8zM924 2165h8v8h-8zM948 2165h8v8h-8z"/><path fill="#ff1600" d="M1084 2069h8v8h-8zM1004 2157h8v8h-8zM892 2165h8v8h-8z"/><path fill="#ff2500" d="M1092 2069h8v8h-8zM1052 2133h8v8h-8zM916 2181h8v8h-8z"/><path fill="#ff5900" d="M1132 2069h8v8h-8zM1124 2093h8v8h-8zM1100 2141h8v8h-8zM1044 2197h8v8h-8zM924 2229h8v8h-8zM932 2229h8v8h-8zM940 2229h8v8h-8zM948 2229h8v8h-8zM956 2229h8v8h-8z"/><path fill="#ff1c00" d="M1084 2077h8v8h-8zM876 2085h8v8h-8zM876 2093h8v8h-8zM1076 2093h8v8h-8zM876 2101h8v8h-8zM876 2109h8v8h-8zM876 2117h8v8h-8zM1060 2117h8v8h-8zM876 2125h8v8h-8zM876 2133h8v8h-8zM876 2141h8v8h-8zM876 2149h8v8h-8zM1012 2157h8v8h-8zM996 2165h8v8h-8zM972 2173h8v8h-8z"/><path fill="#ff2a00" d="M1092 2077h8v8h-8z"/><path fill="#ff3800" d="M1100 2077h8v8h-8zM1084 2109h8v8h-8zM884 2181h8v8h-8z"/><path fill="#ff4c00" d="M1116 2077h8v8h-8zM1076 2149h8v8h-8zM1068 2157h8v8h-8zM1060 2165h8v8h-8zM844 2173h8v8h-8zM852 2181h8v8h-8zM876 2197h8v8h-8zM1012 2197h8v8h-8zM892 2205h8v8h-8zM932 2213h8v8h-8zM940 2213h8v8h-8zM948 2213h8v8h-8z"/><path fill="#ff7800" d="M1164 2077h8v8h-8zM780 2181h8v8h-8zM796 2213h8v8h-8zM804 2221h8v8h-8zM812 2229h8v8h-8zM820 2237h8v8h-8zM844 2253h8v8h-8zM860 2261h8v8h-8zM1012 2261h8v8h-8zM988 2269h8v8h-8zM924 2277h8v8h-8zM932 2277h8v8h-8zM940 2277h8v8h-8z"/><path fill="#ff1500" d="M1076 2085h8v8h-8zM924 2173h8v8h-8zM932 2173h8v8h-8zM940 2173h8v8h-8zM948 2173h8v8h-8z"/><path fill="#ff6b00" d="M1148 2085h8v8h-8zM1140 2109h8v8h-8zM796 2165h8v8h-8zM812 2197h8v8h-8zM844 2229h8v8h-8zM1036 2229h8v8h-8zM876 2245h8v8h-8zM900 2253h8v8h-8zM972 2253h8v8h-8z"/><path fill="#ff2900" d="M1084 2093h8v8h-8zM996 2173h8v8h-8zM972 2181h8v8h-8z"/><path fill="#ff4500" d="M1100 2101h8v8h-8zM1092 2117h8v8h-8zM844 2165h8v8h-8zM876 2189h8v8h-8zM1012 2189h8v8h-8zM892 2197h8v8h-8zM924 2205h8v8h-8zM956 2205h8v8h-8z"/><path fill="#ff2c00" d="M1076 2109h8v8h-8zM884 2173h8v8h-8z"/><path fill="#ff2800" d="M1068 2117h8v8h-8zM1036 2149h8v8h-8zM1012 2165h8v8h-8zM908 2181h8v8h-8z"/><path fill="#ff3d00" d="M1084 2117h8v8h-8zM876 2181h8v8h-8zM1012 2181h8v8h-8zM916 2197h8v8h-8zM964 2197h8v8h-8z"/><path fill="#ff0b00" d="M1028 2133h8v8h-8zM1004 2149h8v8h-8zM956 2165h8v8h-8z"/><path fill="#ff4700" d="M1076 2141h8v8h-8zM836 2157h8v8h-8zM1052 2165h8v8h-8zM860 2181h8v8h-8zM972 2205h8v8h-8z"/><path fill="#ff5a00" d="M820 2165h8v8h-8zM836 2189h8v8h-8zM844 2197h8v8h-8zM868 2213h8v8h-8zM884 2221h8v8h-8zM996 2221h8v8h-8zM916 2229h8v8h-8zM964 2229h8v8h-8z"/><path fill="#ff3500" d="M868 2165h8v8h-8zM876 2173h8v8h-8zM996 2181h8v8h-8z"/><path fill="#ff1900" d="M964 2173h8v8h-8z"/><path fill="#ff2e00" d="M1004 2173h8v8h-8z"/><path fill="#ff3e00" d="M1028 2173h8v8h-8zM996 2189h8v8h-8z"/><path fill="#ff5300" d="M1052 2181h8v8h-8zM860 2197h8v8h-8zM1028 2197h8v8h-8zM1012 2205h8v8h-8zM892 2213h8v8h-8zM924 2221h8v8h-8zM932 2221h8v8h-8zM940 2221h8v8h-8zM948 2221h8v8h-8zM956 2221h8v8h-8z"/></g></g>
<path d="M255.3,1431.7 L859.2,1431.7 A239.7,238.4 0 0 1 1098.9,1670.1 L1098.9,1908.5 A239.7,238.4 0 0 1 859.2,2146.9 L255.3,2146.9 Z" fill="#fff" stroke="none"/>
<path d="M260.3,1431.7 L859.2,1431.7" stroke="#a0a294" stroke-width="4.2" fill="none"/>
<path d="M859.2,1431.7 A239.7,238.4 0 0 1 1098.9,1670.1 L1098.9,1908.5" stroke="#222" stroke-width="2" fill="none"/>
<path d="M1098.9,1908.5 A239.7,238.4 0 0 1 859.2,2146.9 L260.3,2146.9" stroke="#301000" stroke-width="2.5" fill="none"/>
<rect x="260.3" y="1244.8" width="956.7" height="1088.2" fill="none" stroke="#111" stroke-width="3.4"/>
<line x1="379.8" y1="1244.8" x2="379.8" y2="1266.8" stroke="#111" stroke-width="3"/>
<line x1="379.8" y1="2333" x2="379.8" y2="2311" stroke="#111" stroke-width="3"/>
<text x="379.8" y="2397" class="dj" font-size="50" text-anchor="middle">5400</text>
<line x1="619.5" y1="1244.8" x2="619.5" y2="1266.8" stroke="#111" stroke-width="3"/>
<line x1="619.5" y1="2333" x2="619.5" y2="2311" stroke="#111" stroke-width="3"/>
<text x="619.5" y="2397" class="dj" font-size="50" text-anchor="middle">5500</text>
<line x1="859.2" y1="1244.8" x2="859.2" y2="1266.8" stroke="#111" stroke-width="3"/>
<line x1="859.2" y1="2333" x2="859.2" y2="2311" stroke="#111" stroke-width="3"/>
<text x="859.2" y="2397" class="dj" font-size="50" text-anchor="middle">5600</text>
<line x1="1098.9" y1="1244.8" x2="1098.9" y2="1266.8" stroke="#111" stroke-width="3"/>
<line x1="1098.9" y1="2333" x2="1098.9" y2="2311" stroke="#111" stroke-width="3"/>
<line x1="260.3" y1="2266.1" x2="283.3" y2="2266.1" stroke="#111" stroke-width="3"/>
<line x1="1217" y1="2266.1" x2="1194" y2="2266.1" stroke="#111" stroke-width="3"/>
<text x="246" y="2284.1" class="dj" font-size="50" text-anchor="end">7050</text>
<line x1="260.3" y1="2146.9" x2="283.3" y2="2146.9" stroke="#111" stroke-width="3"/>
<line x1="1217" y1="2146.9" x2="1194" y2="2146.9" stroke="#111" stroke-width="3"/>
<text x="246" y="2164.9" class="dj" font-size="50" text-anchor="end">7100</text>
<line x1="260.3" y1="2027.7" x2="283.3" y2="2027.7" stroke="#111" stroke-width="3"/>
<line x1="1217" y1="2027.7" x2="1194" y2="2027.7" stroke="#111" stroke-width="3"/>
<text x="246" y="2045.7" class="dj" font-size="50" text-anchor="end">7150</text>
<line x1="260.3" y1="1908.5" x2="283.3" y2="1908.5" stroke="#111" stroke-width="3"/>
<line x1="1217" y1="1908.5" x2="1194" y2="1908.5" stroke="#111" stroke-width="3"/>
<text x="246" y="1926.5" class="dj" font-size="50" text-anchor="end">7200</text>
<line x1="260.3" y1="1789.3" x2="283.3" y2="1789.3" stroke="#111" stroke-width="3"/>
<line x1="1217" y1="1789.3" x2="1194" y2="1789.3" stroke="#111" stroke-width="3"/>
<text x="246" y="1807.3" class="dj" font-size="50" text-anchor="end">7250</text>
<line x1="260.3" y1="1670.1" x2="283.3" y2="1670.1" stroke="#111" stroke-width="3"/>
<line x1="1217" y1="1670.1" x2="1194" y2="1670.1" stroke="#111" stroke-width="3"/>
<text x="246" y="1688.1" class="dj" font-size="50" text-anchor="end">7300</text>
<line x1="260.3" y1="1550.9" x2="283.3" y2="1550.9" stroke="#111" stroke-width="3"/>
<line x1="1217" y1="1550.9" x2="1194" y2="1550.9" stroke="#111" stroke-width="3"/>
<text x="246" y="1568.9" class="dj" font-size="50" text-anchor="end">7350</text>
<line x1="260.3" y1="1431.7" x2="283.3" y2="1431.7" stroke="#111" stroke-width="3"/>
<line x1="1217" y1="1431.7" x2="1194" y2="1431.7" stroke="#111" stroke-width="3"/>
<text x="246" y="1449.7" class="dj" font-size="50" text-anchor="end">7400</text>
<line x1="260.3" y1="1312.5" x2="283.3" y2="1312.5" stroke="#111" stroke-width="3"/>
<line x1="1217" y1="1312.5" x2="1194" y2="1312.5" stroke="#111" stroke-width="3"/>
<text x="246" y="1330.5" class="dj" font-size="50" text-anchor="end">7450</text>
<text x="79.3" y="1263" class="dj" font-size="46">nm</text>
<text x="1155.7" y="2398.5" class="dj" font-size="46">nm</text>
<text transform="translate(741.5,2446) scale(0.97,1)" class="dj" font-size="52" text-anchor="middle">X (nm)</text>
<text transform="translate(71,1789.5) rotate(-90) scale(0.965,1)" class="dj" font-size="52" text-anchor="middle">Y (nm)</text>
<text x="805.5" y="2559.5" class="se" font-size="86" text-anchor="middle">(<tspan font-weight="bold">d</tspan>)</text>
<circle cx="378.2" cy="1431.2" r="5.6" fill="#000"/>
<text x="379.4" y="1417.3" class="se" font-size="51" stroke="#000" stroke-width="1.1" text-anchor="middle">0</text>
<circle cx="858.2" cy="1432" r="5.6" fill="#000"/>
<text x="857" y="1420" class="se" font-size="51" stroke="#000" stroke-width="1.1" text-anchor="middle">1</text>
<circle cx="1094.5" cy="1672.3" r="5.6" fill="#000"/>
<text x="1118.5" y="1682.7" class="se" font-size="51" stroke="#000" stroke-width="1.1" text-anchor="middle">2</text>
<circle cx="1095.7" cy="1912" r="5.6" fill="#000"/>
<text x="1117.5" y="1927.7" class="se" font-size="51" stroke="#000" stroke-width="1.1" text-anchor="middle">3</text>
<circle cx="855.5" cy="2147.2" r="5.6" fill="#000"/>
<text x="851.5" y="2196.5" class="se" font-size="51" stroke="#000" stroke-width="1.1" text-anchor="middle">4</text>
<circle cx="371.2" cy="2147.5" r="5.6" fill="#000"/>
<text x="368.5" y="2193.7" class="se" font-size="51" stroke="#000" stroke-width="1.1" text-anchor="middle">5</text>
<defs><linearGradient id="cbg" x1="0" y1="0" x2="0" y2="1"><stop offset="0.0000" stop-color="rgb(0, 0, 0)"/><stop offset="0.0625" stop-color="rgb(38, 0, 0)"/><stop offset="0.1250" stop-color="rgb(82, 0, 0)"/><stop offset="0.1875" stop-color="rgb(128, 0, 0)"/><stop offset="0.2500" stop-color="rgb(192, 0, 0)"/><stop offset="0.2812" stop-color="rgb(216, 0, 0)"/><stop offset="0.3125" stop-color="rgb(240, 0, 0)"/><stop offset="0.3450" stop-color="rgb(255, 0, 0)"/><stop offset="0.3750" stop-color="rgb(255, 24, 0)"/><stop offset="0.4062" stop-color="rgb(255, 56, 0)"/><stop offset="0.4375" stop-color="rgb(255, 80, 0)"/><stop offset="0.4688" stop-color="rgb(255, 100, 0)"/><stop offset="0.5000" stop-color="rgb(255, 124, 0)"/><stop offset="0.5312" stop-color="rgb(255, 140, 0)"/><stop offset="0.5625" stop-color="rgb(255, 160, 0)"/><stop offset="0.5938" stop-color="rgb(255, 186, 0)"/><stop offset="0.6250" stop-color="rgb(255, 216, 0)"/><stop offset="0.6562" stop-color="rgb(255, 244, 0)"/><stop offset="0.6875" stop-color="rgb(255, 255, 0)"/><stop offset="0.7500" stop-color="rgb(255, 255, 40)"/><stop offset="0.8125" stop-color="rgb(255, 255, 95)"/><stop offset="0.8750" stop-color="rgb(255, 255, 150)"/><stop offset="0.9375" stop-color="rgb(255, 255, 198)"/><stop offset="1.0000" stop-color="rgb(255, 255, 245)"/></linearGradient></defs>
<rect x="1304" y="1360.8" width="61.5" height="953.0000000000002" fill="url(#cbg)" stroke="#111" stroke-width="3"/>
<text x="1397" y="2330.1" class="dj" font-size="50">0</text>
<line x1="1304" y1="2193.6" x2="1314" y2="2193.6" stroke="#111" stroke-width="3"/>
<line x1="1365.5" y1="2193.6" x2="1355.5" y2="2193.6" stroke="#111" stroke-width="3"/>
<text x="1397" y="2211.4" class="dj" font-size="50">0.5</text>
<line x1="1304" y1="2074.8" x2="1314" y2="2074.8" stroke="#111" stroke-width="3"/>
<line x1="1365.5" y1="2074.8" x2="1355.5" y2="2074.8" stroke="#111" stroke-width="3"/>
<text x="1397" y="2092.6" class="dj" font-size="50">1</text>
<line x1="1304" y1="1956.1" x2="1314" y2="1956.1" stroke="#111" stroke-width="3"/>
<line x1="1365.5" y1="1956.1" x2="1355.5" y2="1956.1" stroke="#111" stroke-width="3"/>
<text x="1397" y="1973.9" class="dj" font-size="50">1.5</text>
<line x1="1304" y1="1837.3" x2="1314" y2="1837.3" stroke="#111" stroke-width="3"/>
<line x1="1365.5" y1="1837.3" x2="1355.5" y2="1837.3" stroke="#111" stroke-width="3"/>
<text x="1397" y="1855.1" class="dj" font-size="50">2</text>
<line x1="1304" y1="1718.6" x2="1314" y2="1718.6" stroke="#111" stroke-width="3"/>
<line x1="1365.5" y1="1718.6" x2="1355.5" y2="1718.6" stroke="#111" stroke-width="3"/>
<text x="1397" y="1736.4" class="dj" font-size="50">2.5</text>
<line x1="1304" y1="1599.8" x2="1314" y2="1599.8" stroke="#111" stroke-width="3"/>
<line x1="1365.5" y1="1599.8" x2="1355.5" y2="1599.8" stroke="#111" stroke-width="3"/>
<text x="1397" y="1617.6" class="dj" font-size="50">3</text>
<line x1="1304" y1="1481.0" x2="1314" y2="1481.0" stroke="#111" stroke-width="3"/>
<line x1="1365.5" y1="1481.0" x2="1355.5" y2="1481.0" stroke="#111" stroke-width="3"/>
<text x="1397" y="1498.8" class="dj" font-size="50">3.5</text>
<text x="1397" y="1380.1" class="dj" font-size="50">4</text>
<text x="1360" y="1331" class="dj" font-size="50">×10<tspan font-size="29" dy="-23">6</tspan></text>
</svg></body></html>
